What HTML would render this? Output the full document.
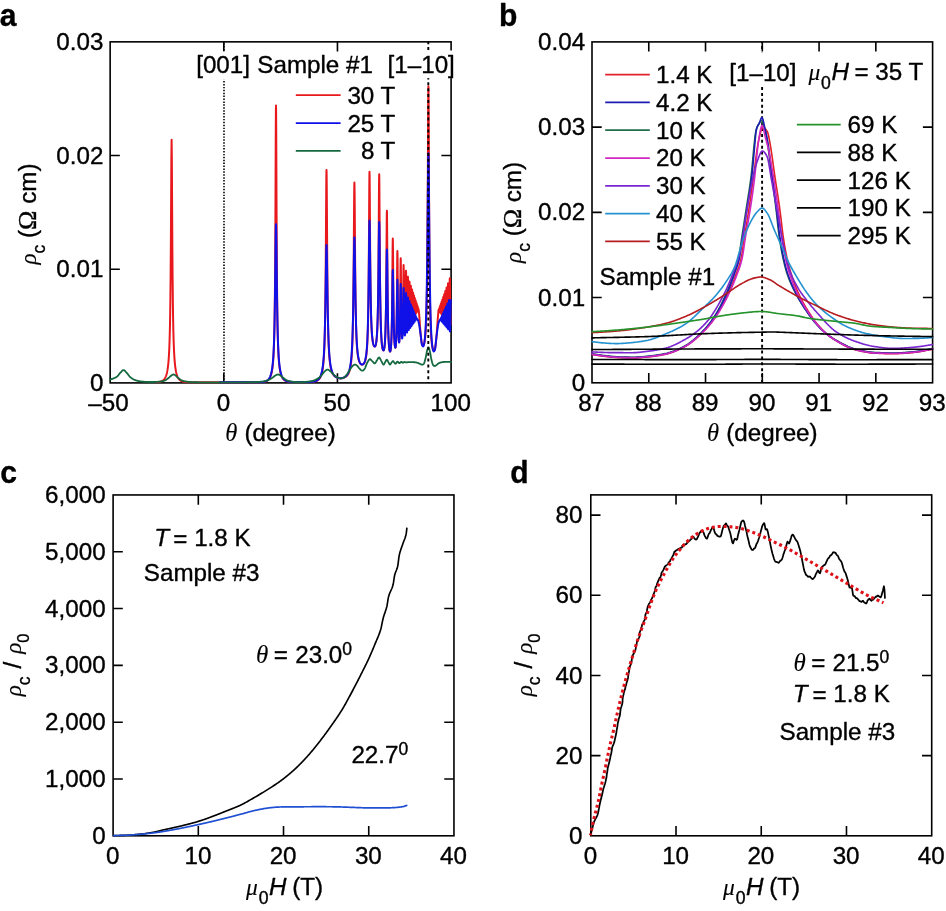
<!DOCTYPE html>
<html lang="en">
<head>
<meta charset="utf-8">
<title>Angle and field dependence of interlayer resistivity</title>
<style>
html,body{margin:0;padding:0;background:#fff;}
body{width:946px;height:911px;overflow:hidden;}
svg{display:block;}
svg text{font-family:"Liberation Sans",sans-serif;fill:#000;stroke:#000;stroke-width:0.36px;stroke-linejoin:round;}
svg .it{font-family:"Liberation Serif","DejaVu Serif",serif;font-style:italic;stroke-width:0.1px;}
svg .si{font-family:"Liberation Sans",sans-serif;font-style:italic;}
svg .sr{font-family:"Liberation Serif","DejaVu Serif",serif;}
svg .b{font-weight:bold;}
</style>
</head>
<body>
<svg width="946" height="911" viewBox="0 0 946 911">
<rect x="0" y="0" width="946" height="911" fill="#fff"/>
<g id="panel-a">
<clipPath id="clipA"><rect x="109.35" y="41.05" width="342.55" height="342.65"/></clipPath>
<path d="M224 42.45V382.9" stroke="#000" stroke-width="1.6" stroke-dasharray="1.45 1.463" stroke-dashoffset="2.18" fill="none"/>
<rect x="110.15" y="41.85" width="340.95" height="341.05" fill="none" stroke="#000" stroke-width="1.6"/>
<path d="M223.8 382.9v-9.7M223.8 41.85v9.7M337.45 382.9v-9.7M337.45 41.85v9.7M110.15 269.22h9.7M451.1 269.22h-9.7M110.15 155.53h9.7M451.1 155.53h-9.7" stroke="#000" stroke-width="1.6" fill="none"/>
<g clip-path="url(#clipA)">
<polyline fill="none" stroke="#e8181c" stroke-width="2" stroke-linejoin="round" stroke-linecap="butt"  points="155.61,382.22 155.86,382.21 156.11,382.2 156.36,382.19 156.61,382.17 156.86,382.16 157.11,382.14 157.36,382.12 157.61,382.1 157.86,382.08 158.11,382.05 158.36,382.02 158.61,381.99 158.86,381.95 159.11,381.91 159.36,381.87 159.61,381.82 159.86,381.76 160.11,381.7 160.36,381.64 160.61,381.57 160.86,381.49 161.11,381.4 161.36,381.3 161.61,381.19 161.86,381.08 162.11,380.95 162.36,380.81 162.61,380.65 162.86,380.48 163.11,380.29 163.36,380.08 163.61,379.85 163.86,379.6 164.11,379.32 164.36,379.01 164.61,378.66 164.86,378.28 165.11,377.86 165.36,377.38 165.61,376.86 165.86,376.27 166.11,375.6 166.36,374.85 166.61,374 166.86,373.04 167.11,371.93 167.36,370.66 167.61,369.18 167.86,367.46 168.11,365.43 168.36,363 168.61,360.09 168.86,356.54 169.11,352.13 169.36,346.59 169.61,339.49 169.86,330.17 170.11,317.69 170.36,300.58 170.61,276.77 170.86,243.84 171.11,201.39 171.36,158.42 171.61,139.64 171.86,161.36 172.11,205.02 172.36,246.85 172.61,278.97 172.86,302.15 173.11,318.82 173.36,331 173.61,340.1 173.86,347.06 174.11,352.5 174.36,356.82 174.61,360.32 174.86,363.19 175.11,365.57 175.36,367.58 175.61,369.28 175.86,370.74 176.11,372 176.36,373.09 176.61,374.05 176.86,374.89 177.11,375.63 177.36,376.29 177.61,376.87 177.86,377.4 178.11,377.87 178.36,378.29 178.61,378.67 178.86,379.01 179.11,379.32 179.36,379.59 179.61,379.85 179.86,380.08 180.11,380.28 180.36,380.47 180.61,380.64 180.86,380.8 181.11,380.94 181.36,381.07 181.61,381.19 181.86,381.29 182.11,381.39 182.36,381.48 182.61,381.56 182.86,381.63 183.11,381.7 183.36,381.76 183.61,381.81 183.86,381.86 184.11,381.91 184.36,381.95 184.61,381.98 184.86,382.02 185.11,382.05 185.36,382.07 185.61,382.1 185.86,382.12 186.11,382.14 186.36,382.16 186.61,382.17 186.86,382.19 187.11,382.2 187.36,382.21 187.61,382.22 187.86,382.23 188.11,382.24 188.36,382.25 188.61,382.25 188.86,382.26 189.11,382.26 189.36,382.27 189.61,382.27 189.86,382.27 190.11,382.28 190.36,382.28 190.61,382.28 190.86,382.29 191.11,382.29 191.36,382.29 191.61,382.29 191.86,382.29 192.11,382.29 192.36,382.29 192.61,382.29 192.86,382.3 193.11,382.3 193.36,382.3 193.61,382.3 193.86,382.3 194.11,382.3 194.36,382.3 194.61,382.3 194.86,382.3 195.11,382.3 195.36,382.3 195.61,382.3 195.86,382.3 196.11,382.3 196.36,382.3 196.61,382.3 196.86,382.3 197.11,382.3 197.36,382.3 197.61,382.3 197.86,382.3 198.11,382.3 198.36,382.3 198.61,382.3 198.86,382.3 199.11,382.3 199.36,382.3 199.61,382.3 199.86,382.3 200.11,382.3 200.36,382.3 200.61,382.3 200.86,382.3 201.11,382.3 201.36,382.3 201.61,382.3 201.86,382.3 202.11,382.3 202.36,382.3 202.61,382.3 202.86,382.3 203.11,382.3 203.36,382.3 203.61,382.3 203.86,382.3 204.11,382.3 204.36,382.3 204.61,382.3 204.86,382.3 205.11,382.3 205.36,382.3 205.61,382.3 205.86,382.3 206.11,382.3 206.36,382.3 206.61,382.3 206.86,382.3 207.11,382.3 207.36,382.3 207.61,382.3 207.86,382.3 208.11,382.3 208.36,382.3 208.61,382.3 208.86,382.3 209.11,382.3 209.36,382.3 209.61,382.3 209.86,382.3 210.11,382.3 210.36,382.3 210.61,382.3 210.86,382.3 211.11,382.3 211.36,382.3 211.61,382.3 211.86,382.3 212.11,382.3 212.36,382.3 212.61,382.3 212.86,382.3 213.11,382.3 213.36,382.3 213.61,382.3 213.86,382.3 214.11,382.3 214.36,382.3 214.61,382.3 214.86,382.3 215.11,382.3 215.36,382.3 215.61,382.3 215.86,382.3 216.11,382.3 216.36,382.3 216.61,382.3 216.86,382.3 217.11,382.3 217.36,382.3 217.61,382.3 217.86,382.3 218.11,382.3 218.36,382.3 218.61,382.3 218.86,382.3 219.11,382.3 219.36,382.3 219.61,382.3 219.86,382.3 220.11,382.3 220.36,382.3 220.61,382.3 220.86,382.3 221.11,382.3 221.36,382.3 221.61,382.3 221.86,382.3 222.11,382.3 222.36,382.3 222.61,382.3 222.86,382.3 223.11,382.3 223.36,382.3 223.61,382.3 223.86,382.3 224,382.3 224.1,382.3 224.2,382.3 224.3,382.3 224.4,382.3 224.5,382.3 224.6,382.3 224.7,382.3 224.8,382.3 224.9,382.3 225,382.3 225.1,382.3 225.2,382.3 225.3,382.3 225.4,382.3 225.5,382.3 225.6,382.3 225.7,382.3 225.8,382.3 225.9,382.3 226,382.3 226.1,382.3 226.2,382.3 226.3,382.3 226.4,382.3 226.5,382.3 226.6,382.3 226.7,382.3 226.8,382.3 226.9,382.3 227,382.3 227.1,382.3 227.2,382.3 227.3,382.3 227.4,382.3 227.5,382.3 227.6,382.3 227.7,382.3 227.8,382.3 227.9,382.3 228,382.3 228.1,382.3 228.2,382.3 228.3,382.3 228.4,382.3 228.5,382.3 228.6,382.3 228.7,382.3 228.8,382.3 228.9,382.3 229,382.3 229.1,382.3 229.2,382.3 229.3,382.3 229.4,382.3 229.5,382.3 229.6,382.3 229.7,382.3 229.8,382.3 229.9,382.3 230,382.3 230.1,382.3 230.2,382.3 230.3,382.3 230.4,382.3 230.5,382.3 230.6,382.3 230.7,382.3 230.8,382.3 230.9,382.3 231,382.3 231.1,382.3 231.2,382.3 231.3,382.3 231.4,382.3 231.5,382.3 231.6,382.3 231.7,382.3 231.8,382.3 231.9,382.3 232,382.3 232.1,382.3 232.2,382.3 232.3,382.3 232.4,382.3 232.5,382.3 232.6,382.3 232.7,382.3 232.8,382.3 232.9,382.3 233,382.3 233.1,382.3 233.2,382.3 233.3,382.3 233.4,382.3 233.5,382.3 233.6,382.3 233.7,382.3 233.8,382.3 233.9,382.3 234,382.3 234.1,382.3 234.2,382.3 234.3,382.3 234.4,382.3 234.5,382.3 234.6,382.3 234.7,382.3 234.8,382.3 234.9,382.3 235,382.3 235.1,382.3 235.2,382.3 235.3,382.3 235.4,382.3 235.5,382.3 235.6,382.3 235.7,382.3 235.8,382.3 235.9,382.3 236,382.3 236.1,382.3 236.2,382.3 236.3,382.3 236.4,382.3 236.5,382.3 236.6,382.3 236.7,382.3 236.8,382.3 236.9,382.3 237,382.3 237.1,382.3 237.2,382.3 237.3,382.3 237.4,382.3 237.5,382.3 237.6,382.3 237.7,382.3 237.8,382.3 237.9,382.3 238,382.3 238.1,382.3 238.2,382.3 238.3,382.3 238.4,382.3 238.5,382.3 238.6,382.3 238.7,382.3 238.8,382.3 238.9,382.3 239,382.3 239.1,382.3 239.2,382.3 239.3,382.3 239.4,382.3 239.5,382.3 239.6,382.3 239.7,382.3 239.8,382.3 239.9,382.3 240,382.3 240.1,382.3 240.2,382.3 240.3,382.3 240.4,382.3 240.5,382.3 240.6,382.3 240.7,382.3 240.8,382.3 240.9,382.3 241,382.3 241.1,382.3 241.2,382.3 241.3,382.3 241.4,382.3 241.5,382.3 241.6,382.3 241.7,382.3 241.8,382.3 241.9,382.3 242,382.3 242.1,382.3 242.2,382.3 242.3,382.3 242.4,382.3 242.5,382.3 242.6,382.3 242.7,382.3 242.8,382.3 242.9,382.3 243,382.3 243.1,382.3 243.2,382.3 243.3,382.3 243.4,382.3 243.5,382.3 243.6,382.3 243.7,382.3 243.8,382.3 243.9,382.3 244,382.3 244.1,382.3 244.2,382.3 244.3,382.3 244.4,382.3 244.5,382.3 244.6,382.3 244.7,382.3 244.8,382.3 244.9,382.3 245,382.3 245.1,382.3 245.2,382.3 245.3,382.3 245.4,382.3 245.5,382.3 245.6,382.3 245.7,382.3 245.8,382.3 245.9,382.3 246,382.3 246.1,382.3 246.2,382.3 246.3,382.3 246.4,382.3 246.5,382.3 246.6,382.3 246.7,382.3 246.8,382.3 246.9,382.3 247,382.3 247.1,382.3 247.2,382.3 247.3,382.3 247.4,382.3 247.5,382.3 247.6,382.3 247.7,382.3 247.8,382.3 247.9,382.3 248,382.3 248.1,382.3 248.2,382.3 248.3,382.3 248.4,382.3 248.5,382.3 248.6,382.3 248.7,382.3 248.8,382.3 248.9,382.3 249,382.3 249.1,382.3 249.2,382.3 249.3,382.3 249.4,382.3 249.5,382.3 249.6,382.3 249.7,382.3 249.8,382.3 249.9,382.3 250,382.3 250.1,382.3 250.2,382.3 250.3,382.3 250.4,382.3 250.5,382.3 250.6,382.3 250.7,382.3 250.8,382.3 250.9,382.3 251,382.3 251.1,382.3 251.2,382.3 251.3,382.3 251.4,382.3 251.5,382.3 251.6,382.3 251.7,382.3 251.8,382.3 251.9,382.3 252,382.3 252.1,382.3 252.2,382.3 252.3,382.3 252.4,382.3 252.5,382.3 252.6,382.3 252.7,382.3 252.8,382.3 252.9,382.3 253,382.3 253.1,382.3 253.2,382.3 253.3,382.3 253.4,382.3 253.5,382.3 253.6,382.3 253.7,382.3 253.8,382.3 253.9,382.3 254,382.3 254.1,382.3 254.2,382.3 254.3,382.3 254.4,382.3 254.5,382.3 254.6,382.3 254.7,382.3 254.8,382.3 254.9,382.3 255,382.3 255.1,382.29 255.2,382.29 255.3,382.29 255.4,382.29 255.5,382.29 255.6,382.29 255.7,382.29 255.8,382.29 255.9,382.29 256,382.29 256.1,382.29 256.2,382.29 256.3,382.29 256.4,382.29 256.5,382.29 256.6,382.29 256.7,382.29 256.8,382.29 256.9,382.29 257,382.29 257.1,382.28 257.2,382.28 257.3,382.28 257.4,382.28 257.5,382.28 257.6,382.28 257.7,382.28 257.8,382.28 257.9,382.28 258,382.27 258.1,382.27 258.2,382.27 258.3,382.27 258.4,382.27 258.5,382.27 258.6,382.27 258.7,382.26 258.8,382.26 258.9,382.26 259,382.26 259.1,382.26 259.2,382.25 259.3,382.25 259.4,382.25 259.5,382.25 259.6,382.24 259.7,382.24 259.8,382.24 259.9,382.23 260,382.23 260.1,382.23 260.2,382.22 260.3,382.22 260.4,382.22 260.5,382.21 260.6,382.21 260.7,382.2 260.8,382.2 260.9,382.19 261,382.19 261.1,382.18 261.2,382.18 261.3,382.17 261.4,382.16 261.5,382.16 261.6,382.15 261.7,382.14 261.8,382.14 261.9,382.13 262,382.12 262.1,382.11 262.2,382.11 262.3,382.1 262.4,382.09 262.5,382.08 262.6,382.07 262.7,382.06 262.8,382.05 262.9,382.03 263,382.02 263.1,382.01 263.2,382 263.3,381.98 263.4,381.97 263.5,381.96 263.6,381.94 263.7,381.92 263.8,381.91 263.9,381.89 264,381.87 264.1,381.85 264.2,381.84 264.3,381.82 264.4,381.79 264.5,381.77 264.6,381.75 264.7,381.73 264.8,381.7 264.9,381.68 265,381.65 265.1,381.62 265.2,381.6 265.3,381.57 265.4,381.54 265.5,381.51 265.6,381.47 265.7,381.44 265.8,381.4 265.9,381.37 266,381.33 266.1,381.29 266.2,381.25 266.3,381.2 266.4,381.16 266.5,381.11 266.6,381.06 266.7,381.01 266.8,380.96 266.9,380.91 267,380.85 267.1,380.79 267.2,380.73 267.3,380.67 267.4,380.61 267.5,380.54 267.6,380.47 267.7,380.39 267.8,380.32 267.9,380.24 268,380.16 268.1,380.07 268.2,379.98 268.3,379.89 268.4,379.79 268.5,379.69 268.6,379.59 268.7,379.48 268.8,379.36 268.9,379.24 269,379.12 269.1,378.99 269.2,378.86 269.3,378.72 269.4,378.57 269.5,378.42 269.6,378.26 269.7,378.09 269.8,377.92 269.9,377.74 270,377.55 270.1,377.35 270.2,377.14 270.3,376.92 270.4,376.7 270.5,376.46 270.6,376.2 270.7,375.94 270.8,375.66 270.9,375.37 271,375.06 271.1,374.74 271.2,374.4 271.3,374.03 271.4,373.65 271.5,373.25 271.6,372.82 271.7,372.37 271.8,371.89 271.9,371.39 272,370.84 272.1,370.27 272.2,369.65 272.3,369 272.4,368.29 272.5,367.54 272.6,366.73 272.7,365.87 272.8,364.93 272.9,363.92 273,362.83 273.1,361.65 273.2,360.36 273.3,358.95 273.4,357.42 273.5,355.74 273.6,353.89 273.7,351.85 273.8,349.6 273.9,347.09 274,344.3 274.1,341.17 274.2,337.64 274.3,333.67 274.4,329.15 274.5,323.99 274.6,318.08 274.7,311.26 274.8,303.35 274.9,294.15 275,283.39 275.1,270.79 275.2,256.03 275.3,238.82 275.4,218.98 275.5,196.62 275.6,172.44 275.7,148.07 275.8,126.35 275.9,110.99 276,105.4 276.1,110.98 276.2,126.33 276.3,148.02 276.4,172.36 276.5,196.51 276.6,218.83 276.7,238.64 276.8,255.83 276.9,270.56 277,283.14 277.1,293.88 277.2,303.07 277.3,310.95 277.4,317.76 277.5,323.66 277.6,328.81 277.7,333.32 277.8,337.29 277.9,340.8 278,343.93 278.1,346.71 278.2,349.22 278.3,351.47 278.4,353.5 278.5,355.34 278.6,357.02 278.7,358.55 278.8,359.95 278.9,361.23 279,362.42 279.1,363.5 279.2,364.51 279.3,365.44 279.4,366.31 279.5,367.12 279.6,367.87 279.7,368.57 279.8,369.22 279.9,369.84 280,370.41 280.1,370.95 280.2,371.46 280.3,371.94 280.4,372.39 280.5,372.81 280.6,373.22 280.7,373.6 280.8,373.96 280.9,374.3 281,374.62 281.1,374.93 281.2,375.22 281.3,375.5 281.4,375.77 281.5,376.02 281.6,376.26 281.7,376.49 281.8,376.71 281.9,376.92 282,377.12 282.1,377.31 282.2,377.49 282.3,377.66 282.4,377.83 282.5,377.99 282.6,378.14 282.7,378.29 282.8,378.43 282.9,378.57 283,378.7 283.1,378.82 283.2,378.94 283.3,379.06 283.4,379.17 283.5,379.27 283.6,379.37 283.7,379.47 283.8,379.57 283.9,379.66 284,379.74 284.1,379.83 284.2,379.91 284.3,379.99 284.4,380.06 284.5,380.13 284.6,380.2 284.7,380.27 284.8,380.33 284.9,380.4 285,380.46 285.1,380.51 285.2,380.57 285.3,380.62 285.4,380.67 285.5,380.72 285.6,380.77 285.7,380.82 285.8,380.86 285.9,380.91 286,380.95 286.1,380.99 286.2,381.02 286.3,381.06 286.4,381.1 286.5,381.13 286.6,381.16 286.7,381.2 286.8,381.23 286.9,381.26 287,381.29 287.1,381.31 287.2,381.34 287.3,381.37 287.4,381.39 287.5,381.41 287.6,381.44 287.7,381.46 287.8,381.48 287.9,381.5 288,381.52 288.1,381.54 288.2,381.56 288.3,381.58 288.4,381.59 288.5,381.61 288.6,381.62 288.7,381.64 288.8,381.65 288.9,381.67 289,381.68 289.1,381.69 289.2,381.71 289.3,381.72 289.4,381.73 289.5,381.74 289.6,381.75 289.7,381.76 289.8,381.77 289.9,381.78 290,381.79 290.1,381.8 290.2,381.81 290.3,381.82 290.4,381.82 290.5,381.83 290.6,381.84 290.7,381.85 290.8,381.85 290.9,381.86 291,381.87 291.1,381.87 291.2,381.88 291.3,381.88 291.4,381.89 291.5,381.89 291.6,381.9 291.7,381.9 291.8,381.91 291.9,381.91 292,381.91 292.1,381.92 292.2,381.92 292.3,381.93 292.4,381.93 292.5,381.93 292.6,381.94 292.7,381.94 292.8,381.94 292.9,381.94 293,381.95 293.1,381.95 293.2,381.95 293.3,381.95 293.4,381.96 293.5,381.96 293.6,381.96 293.7,381.96 293.8,381.96 293.9,381.97 294,381.97 294.1,381.97 294.2,381.97 294.3,381.97 294.4,381.97 294.5,381.97 294.6,381.98 294.7,381.98 294.8,381.98 294.9,381.98 295,381.98 295.1,381.98 295.2,381.98 295.3,381.98 295.4,381.98 295.5,381.99 295.6,381.99 295.7,381.99 295.8,381.99 295.9,381.99 296,381.99 296.1,381.99 296.2,381.99 296.3,381.99 296.4,381.99 296.5,381.99 296.6,381.99 296.7,381.99 296.8,381.99 296.9,381.99 297,381.99 297.1,381.99 297.2,381.99 297.3,381.99 297.4,382 297.5,382 297.6,382 297.7,382 297.8,382 297.9,382 298,382 298.1,382 298.2,382 298.3,382 298.4,382 298.5,382 298.6,382 298.7,382 298.8,382 298.9,382 299,382 299.1,382 299.2,382 299.3,382 299.4,382 299.5,382 299.6,382 299.7,382 299.8,382 299.9,382 300,382 300.1,382 300.2,382 300.3,382 300.4,382 300.5,382 300.6,382 300.7,382 300.8,382 300.9,382 301,382 301.1,382 301.2,382 301.3,382 301.4,382 301.5,382 301.6,382 301.7,382 301.8,382 301.9,382 302,382 302.1,382 302.2,382 302.3,382 302.4,382 302.5,382 302.6,382 302.7,382 302.8,382 302.9,382 303,382 303.1,382 303.2,382 303.3,382 303.4,382 303.5,382 303.6,382 303.7,382 303.8,382 303.9,382 304,382 304.1,382 304.2,382 304.3,382 304.4,382 304.5,382 304.6,382 304.7,382 304.8,382 304.9,382 305,382 305.1,381.99 305.2,381.99 305.3,381.99 305.4,381.99 305.5,381.99 305.6,381.99 305.7,381.99 305.8,381.99 305.9,381.99 306,381.99 306.1,381.99 306.2,381.99 306.3,381.99 306.4,381.99 306.5,381.99 306.6,381.99 306.7,381.99 306.8,381.99 306.9,381.99 307,381.98 307.1,381.98 307.2,381.98 307.3,381.98 307.4,381.98 307.5,381.98 307.6,381.98 307.7,381.98 307.8,381.98 307.9,381.98 308,381.97 308.1,381.97 308.2,381.97 308.3,381.97 308.4,381.97 308.5,381.97 308.6,381.96 308.7,381.96 308.8,381.96 308.9,381.96 309,381.96 309.1,381.95 309.2,381.95 309.3,381.95 309.4,381.95 309.5,381.95 309.6,381.94 309.7,381.94 309.8,381.94 309.9,381.93 310,381.93 310.1,381.93 310.2,381.92 310.3,381.92 310.4,381.92 310.5,381.91 310.6,381.91 310.7,381.9 310.8,381.9 310.9,381.89 311,381.89 311.1,381.88 311.2,381.88 311.3,381.87 311.4,381.87 311.5,381.86 311.6,381.86 311.7,381.85 311.8,381.84 311.9,381.83 312,381.83 312.1,381.82 312.2,381.81 312.3,381.8 312.4,381.79 312.5,381.79 312.6,381.78 312.7,381.77 312.8,381.76 312.9,381.75 313,381.73 313.1,381.72 313.2,381.71 313.3,381.7 313.4,381.69 313.5,381.67 313.6,381.66 313.7,381.64 313.8,381.63 313.9,381.61 314,381.6 314.1,381.58 314.2,381.56 314.3,381.54 314.4,381.53 314.5,381.51 314.6,381.49 314.7,381.46 314.8,381.44 314.9,381.42 315,381.4 315.1,381.37 315.2,381.35 315.3,381.32 315.4,381.29 315.5,381.26 315.6,381.23 315.7,381.2 315.8,381.17 315.9,381.14 316,381.11 316.1,381.07 316.2,381.03 316.3,381 316.4,380.96 316.5,380.91 316.6,380.87 316.7,380.83 316.8,380.78 316.9,380.73 317,380.68 317.1,380.63 317.2,380.58 317.3,380.53 317.4,380.47 317.5,380.41 317.6,380.35 317.7,380.28 317.8,380.22 317.9,380.15 318,380.08 318.1,380 318.2,379.92 318.3,379.84 318.4,379.76 318.5,379.67 318.6,379.58 318.7,379.49 318.8,379.39 318.9,379.29 319,379.19 319.1,379.08 319.2,378.96 319.3,378.85 319.4,378.72 319.5,378.59 319.6,378.46 319.7,378.32 319.8,378.18 319.9,378.02 320,377.87 320.1,377.7 320.2,377.53 320.3,377.35 320.4,377.16 320.5,376.97 320.6,376.76 320.7,376.55 320.8,376.32 320.9,376.09 321,375.84 321.1,375.58 321.2,375.31 321.3,375.02 321.4,374.72 321.5,374.41 321.6,374.08 321.7,373.73 321.8,373.36 321.9,372.97 322,372.56 322.1,372.12 322.2,371.66 322.3,371.17 322.4,370.66 322.5,370.11 322.6,369.52 322.7,368.9 322.8,368.23 322.9,367.52 323,366.76 323.1,365.95 323.2,365.07 323.3,364.13 323.4,363.12 323.5,362.02 323.6,360.84 323.7,359.55 323.8,358.15 323.9,356.63 324,354.97 324.1,353.15 324.2,351.15 324.3,348.94 324.4,346.5 324.5,343.8 324.6,340.79 324.7,337.43 324.8,333.66 324.9,329.42 325,324.64 325.1,319.23 325.2,313.08 325.3,306.08 325.4,298.1 325.5,289 325.6,278.64 325.7,266.93 325.8,253.83 325.9,239.43 326,224.08 326.1,208.45 326.2,193.67 326.3,181.24 326.4,172.87 326.5,169.9 326.6,172.82 326.7,181.07 326.8,193.29 326.9,207.84 327,223.22 327.1,238.32 327.2,252.47 327.3,265.35 327.4,276.85 327.5,287.02 327.6,295.96 327.7,303.8 327.8,310.67 327.9,316.71 328,322.02 328.1,326.71 328.2,330.87 328.3,334.56 328.4,337.86 328.5,340.81 328.6,343.46 328.7,345.85 328.8,348.02 328.9,349.98 329,351.76 329.1,353.39 329.2,354.88 329.3,356.25 329.4,357.51 329.5,358.67 329.6,359.74 329.7,360.74 329.8,361.66 329.9,362.52 330,363.32 330.1,364.06 330.2,364.76 330.3,365.41 330.4,366.02 330.5,366.59 330.6,367.13 330.7,367.64 330.8,368.12 330.9,368.57 331,369 331.1,369.4 331.2,369.79 331.3,370.15 331.4,370.49 331.5,370.82 331.6,371.13 331.7,371.43 331.8,371.71 331.9,371.98 332,372.23 332.1,372.48 332.2,372.71 332.3,372.93 332.4,373.14 332.5,373.35 332.6,373.54 332.7,373.73 332.8,373.91 332.9,374.08 333,374.24 333.1,374.4 333.2,374.55 333.3,374.7 333.4,374.84 333.5,374.97 333.6,375.1 333.7,375.23 333.8,375.35 333.9,375.46 334,375.57 334.1,375.68 334.2,375.78 334.3,375.88 334.4,375.98 334.5,376.07 334.6,376.16 334.7,376.24 334.8,376.33 334.9,376.41 335,376.48 335.1,376.56 335.2,376.63 335.3,376.7 335.4,376.76 335.5,376.83 335.6,376.89 335.7,376.95 335.8,377.01 335.9,377.07 336,377.12 336.1,377.17 336.2,377.23 336.3,377.27 336.4,377.32 336.5,377.37 336.6,377.41 336.7,377.46 336.8,377.5 336.9,377.54 337,377.58 337.1,377.62 337.2,377.65 337.3,377.69 337.4,377.72 337.5,377.75 337.6,377.79 337.7,377.82 337.8,377.85 337.9,377.88 338,377.91 338.1,377.93 338.2,377.96 338.3,377.98 338.4,378.01 338.5,378.03 338.6,378.06 338.7,378.08 338.8,378.1 338.9,378.12 339,378.14 339.1,378.16 339.2,378.18 339.3,378.2 339.4,378.22 339.5,378.23 339.6,378.25 339.7,378.27 339.8,378.28 339.9,378.3 340,378.31 340.1,378.32 340.2,378.34 340.3,378.35 340.4,378.36 340.5,378.38 340.6,378.39 340.7,378.4 340.8,378.39 340.9,378.37 341,378.36 341.1,378.34 341.2,378.33 341.3,378.31 341.4,378.3 341.5,378.28 341.6,378.26 341.7,378.24 341.8,378.23 341.9,378.21 342,378.19 342.1,378.17 342.2,378.15 342.3,378.12 342.4,378.1 342.5,378.08 342.6,378.05 342.7,378.03 342.8,378 342.9,377.98 343,377.95 343.1,377.92 343.2,377.89 343.3,377.86 343.4,377.83 343.5,377.8 343.6,377.77 343.7,377.73 343.8,377.7 343.9,377.66 344,377.62 344.1,377.58 344.2,377.54 344.3,377.5 344.4,377.46 344.5,377.41 344.6,377.37 344.7,377.32 344.8,377.27 344.9,377.22 345,377.17 345.1,377.11 345.2,377.06 345.3,377 345.4,376.94 345.5,376.88 345.6,376.81 345.7,376.75 345.8,376.68 345.9,376.6 346,376.53 346.1,376.45 346.2,376.37 346.3,376.29 346.4,376.21 346.5,376.12 346.6,376.03 346.7,375.93 346.8,375.83 346.9,375.73 347,375.62 347.1,375.51 347.2,375.4 347.3,375.28 347.4,375.16 347.5,375.03 347.6,374.89 347.7,374.75 347.8,374.61 347.9,374.46 348,374.3 348.1,374.14 348.2,373.97 348.3,373.79 348.4,373.6 348.5,373.41 348.6,373.2 348.7,372.99 348.8,372.77 348.9,372.53 349,372.29 349.1,372.03 349.2,371.76 349.3,371.48 349.4,371.18 349.5,370.87 349.6,370.54 349.7,370.2 349.8,369.83 349.9,369.44 350,369.04 350.1,368.6 350.2,368.15 350.3,367.66 350.4,367.15 350.5,366.6 350.6,366.01 350.7,365.39 350.8,364.73 350.9,364.02 351,363.25 351.1,362.44 351.2,361.56 351.3,360.61 351.4,359.58 351.5,358.48 351.6,357.28 351.7,355.97 351.8,354.55 351.9,353 352,351.29 352.1,349.42 352.2,347.36 352.3,345.09 352.4,342.56 352.5,339.76 352.6,336.62 352.7,333.11 352.8,329.16 352.9,324.71 353,319.67 353.1,313.96 353.2,307.45 353.3,300.05 353.4,291.62 353.5,282.04 353.6,271.23 353.7,259.16 353.8,245.94 353.9,231.87 354,217.6 354.1,204.14 354.2,192.87 354.3,185.29 354.4,182.6 354.5,185.2 354.6,192.54 354.7,203.43 354.8,216.43 354.9,230.19 355,243.73 355.1,256.45 355.2,268.04 355.3,278.4 355.4,287.57 355.5,295.64 355.6,302.71 355.7,308.91 355.8,314.35 355.9,319.13 356,323.35 356.1,327.09 356.2,330.41 356.3,333.36 356.4,336 356.5,338.37 356.6,340.5 356.7,342.42 356.8,344.16 356.9,345.74 357,347.18 357.1,348.49 357.2,349.69 357.3,350.79 357.4,351.8 357.5,352.73 357.6,353.59 357.7,354.38 357.8,355.12 357.9,355.8 358,356.43 358.1,357.02 358.2,357.56 358.3,358.07 358.4,358.55 358.5,358.99 358.6,359.4 358.7,359.79 358.8,360.15 358.9,360.49 359,360.81 359.1,361.11 359.2,361.39 359.3,361.65 359.4,361.9 359.5,362.13 359.6,362.34 359.7,362.55 359.8,362.74 359.9,362.91 360,363.08 360.1,363.23 360.2,363.38 360.3,363.51 360.4,363.64 360.5,363.76 360.6,363.86 360.7,363.96 360.8,364.05 360.9,364.14 361,364.21 361.1,364.28 361.2,364.34 361.3,364.4 361.4,364.45 361.5,364.49 361.6,364.52 361.7,364.55 361.8,364.57 361.9,364.59 362,364.6 362.1,364.6 362.2,364.6 362.3,364.59 362.4,364.57 362.5,364.55 362.6,364.52 362.7,364.49 362.8,364.45 362.9,364.4 363,364.34 363.1,364.28 363.2,364.21 363.3,364.14 363.4,364.05 363.5,363.96 363.6,363.86 363.7,363.75 363.8,363.63 363.9,363.51 364,363.37 364.1,363.22 364.2,363.06 364.3,362.89 364.4,362.71 364.5,362.52 364.6,362.31 364.7,362.09 364.8,361.85 364.9,361.6 365,361.32 365.1,361.03 365.2,360.72 365.3,360.39 365.4,360.03 365.5,359.65 365.6,359.23 365.7,358.79 365.8,358.32 365.9,357.81 366,357.26 366.1,356.66 366.2,356.02 366.3,355.33 366.4,354.57 366.5,353.75 366.6,352.86 366.7,351.89 366.8,350.83 366.9,349.67 367,348.39 367.1,346.98 367.2,345.42 367.3,343.7 367.4,341.78 367.5,339.63 367.6,337.23 367.7,334.53 367.8,331.48 367.9,328.03 368,324.09 368.1,319.58 368.2,314.4 368.3,308.43 368.4,301.51 368.5,293.49 368.6,284.18 368.7,273.4 368.8,261.01 368.9,246.97 369,231.46 369.1,215.08 369.2,198.96 369.3,184.93 369.4,175.2 369.5,171.7 369.6,174.98 369.7,184.07 369.8,197.17 369.9,212.19 370,227.46 370.1,241.88 370.2,254.92 370.3,266.41 370.4,276.4 370.5,285.01 370.6,292.42 370.7,298.8 370.8,304.31 370.9,309.07 371,313.21 371.1,316.83 371.2,319.99 371.3,322.78 371.4,325.24 371.5,327.42 371.6,329.36 371.7,331.09 371.8,332.65 371.9,334.04 372,335.3 372.1,336.43 372.2,337.46 372.3,338.39 372.4,339.24 372.5,340.01 372.6,340.71 372.7,341.35 372.8,341.93 372.9,342.46 373,342.94 373.1,343.39 373.2,343.79 373.3,344.15 373.4,344.49 373.5,344.79 373.6,345.06 373.7,345.3 373.8,345.52 373.9,345.71 374,345.88 374.1,346.03 374.2,346.16 374.3,346.26 374.4,346.35 374.5,346.42 374.6,346.46 374.7,346.49 374.8,346.5 374.9,346.48 375,346.43 375.1,346.35 375.2,346.23 375.3,346.08 375.4,345.88 375.5,345.65 375.6,345.38 375.7,345.07 375.8,344.71 375.9,344.3 376,343.84 376.1,343.32 376.2,342.74 376.3,342.1 376.4,341.37 376.5,340.56 376.6,339.66 376.7,338.65 376.8,337.53 376.9,336.27 377,334.86 377.1,333.28 377.2,331.49 377.3,329.48 377.4,327.19 377.5,324.59 377.6,321.63 377.7,318.22 377.8,314.3 377.9,309.77 378,304.51 378.1,298.36 378.2,291.18 378.3,282.77 378.4,272.93 378.5,261.48 378.6,248.32 378.7,233.57 378.8,217.71 378.9,201.83 379,187.77 379.1,177.89 379.2,174.3 379.3,177.98 379.4,188.13 379.5,202.55 379.6,218.84 379.7,235.11 379.8,250.24 379.9,263.72 380,275.46 380.1,285.55 380.2,294.17 380.3,301.53 380.4,307.82 380.5,313.21 380.6,317.86 380.7,321.87 380.8,325.35 380.9,328.38 381,331.04 381.1,333.37 381.2,335.43 381.3,337.25 381.4,338.87 381.5,340.3 381.6,341.58 381.7,342.72 381.8,343.75 381.9,344.66 382,345.47 382.1,346.2 382.2,346.86 382.3,347.44 382.4,347.95 382.5,348.41 382.6,348.81 382.7,349.16 382.8,349.46 382.9,349.71 383,349.93 383.1,350.1 383.2,350.23 383.3,350.33 383.4,350.38 383.5,350.4 383.6,350.37 383.7,350.28 383.8,350.12 383.9,349.9 384,349.62 384.1,349.26 384.2,348.83 384.3,348.31 384.4,347.7 384.5,346.99 384.6,346.18 384.7,345.24 384.8,344.15 384.9,342.91 385,341.49 385.1,339.85 385.2,337.96 385.3,335.77 385.4,333.24 385.5,330.3 385.6,326.86 385.7,322.82 385.8,318.07 385.9,312.44 386,305.76 386.1,297.84 386.2,288.46 386.3,277.47 386.4,264.86 386.5,250.95 386.6,236.63 386.7,223.61 386.8,214.24 386.9,210.8 387,214.31 387.1,223.87 387.2,237.16 387.3,251.75 387.4,265.92 387.5,278.75 387.6,289.92 387.7,299.45 387.8,307.5 387.9,314.27 388,319.97 388.1,324.78 388.2,328.86 388.3,332.32 388.4,335.28 388.5,337.82 388.6,340.01 388.7,341.89 388.8,343.52 388.9,344.93 389,346.14 389.1,347.19 389.2,348.09 389.3,348.87 389.4,349.52 389.5,350.07 389.6,350.52 389.7,350.88 389.8,351.15 389.9,351.35 390,351.46 390.1,351.5 390.2,351.45 390.3,351.29 390.4,351.03 390.5,350.65 390.6,350.15 390.7,349.52 390.8,348.75 390.9,347.81 391,346.69 391.1,345.36 391.2,343.79 391.3,341.92 391.4,339.72 391.5,337.1 391.6,333.99 391.7,330.28 391.8,325.84 391.9,320.52 392,314.11 392.1,306.43 392.2,297.29 392.3,286.62 392.4,274.62 392.5,262 392.6,250.27 392.7,241.69 392.8,238.5 392.9,241.61 393,249.98 393.1,261.41 393.2,273.71 393.3,285.39 393.4,295.77 393.5,304.65 393.6,312.1 393.7,318.32 393.8,323.48 393.9,327.77 394,331.36 394.1,334.35 394.2,336.87 394.3,338.98 394.4,340.76 394.5,342.25 394.6,343.51 394.7,344.55 394.8,345.41 394.9,346.11 395,346.66 395.1,347.08 395.2,347.37 395.3,347.54 395.4,347.6 395.5,347.48 395.6,347.13 395.7,346.53 395.8,345.66 395.9,344.5 396,343 396.1,341.1 396.2,338.75 396.3,335.83 396.4,332.24 396.5,327.82 396.6,322.39 396.7,315.73 396.8,307.63 396.9,297.93 397,286.72 397.1,274.59 397.2,262.98 397.3,254.28 397.4,251 397.5,254.31 397.6,263.09 397.7,274.72 397.8,286.81 397.9,297.91 398,307.43 398.1,315.32 398.2,321.74 398.3,326.9 398.4,331.02 398.5,334.28 398.6,336.84 398.7,338.79 398.8,340.24 398.9,341.23 399,341.81 399.1,342 399.2,341.79 399.3,341.15 399.4,340.06 399.5,338.47 399.6,336.29 399.7,333.44 399.8,329.77 399.9,325.11 400,319.26 400.1,311.99 400.2,303.12 400.3,292.68 400.4,281.17 400.5,269.97 400.6,261.44 400.7,258.2 400.8,261.31 400.9,269.49 401,280.21 401.1,291.18 401.2,301.09 401.3,309.47 401.4,316.3 401.5,321.76 401.6,326.06 401.7,329.39 401.8,331.91 401.9,333.76 402,335.03 402.1,335.76 402.2,336 402.3,335.74 402.4,334.95 402.5,333.59 402.6,331.58 402.7,328.82 402.8,325.15 402.9,320.37 403,314.27 403.1,306.63 403.2,297.38 403.3,286.89 403.4,276.38 403.5,268.17 403.6,265 403.7,268.03 403.8,275.87 403.9,285.86 404,295.78 404.1,304.47 404.2,311.59 404.3,317.22 404.4,321.56 404.5,324.82 404.6,327.18 404.7,328.78 404.8,329.7 404.9,330 404.92,329.96 404.94,329.91 404.96,329.81 404.98,329.68 405,329.49 405.02,329.24 405.04,328.93 405.06,328.55 405.08,328.1 405.1,327.57 405.12,326.96 405.14,326.26 405.16,325.48 405.18,324.62 405.2,323.67 405.22,322.63 405.24,321.51 405.26,320.31 405.28,319.02 405.3,317.66 405.32,316.23 405.34,314.72 405.36,313.15 405.38,311.52 405.4,309.84 405.42,308.1 405.44,306.33 405.46,304.51 405.48,302.67 405.5,300.81 405.52,298.94 405.54,297.06 405.56,295.19 405.58,293.33 405.6,291.49 405.62,289.68 405.64,287.9 405.66,286.18 405.68,284.5 405.7,282.89 405.72,281.36 405.74,279.9 405.76,278.52 405.78,277.25 405.8,276.07 405.82,274.99 405.84,274.03 405.86,273.19 405.88,272.47 405.9,271.88 405.92,271.41 405.94,271.08 405.96,270.88 405.98,270.82 406,270.9 406.02,271.11 406.04,271.46 406.06,271.94 406.08,272.56 406.1,273.31 406.12,274.18 406.14,275.17 406.16,276.28 406.18,277.5 406.2,278.83 406.22,280.25 406.24,281.76 406.26,283.36 406.28,285.03 406.3,286.77 406.32,288.56 406.34,290.4 406.36,292.28 406.38,294.18 406.4,296.1 406.42,298.03 406.44,299.96 406.46,301.88 406.48,303.77 406.5,305.63 406.52,307.46 406.54,309.23 406.56,310.95 406.58,312.6 406.6,314.18 406.62,315.68 406.64,317.1 406.66,318.43 406.68,319.67 406.7,320.8 406.72,321.84 406.74,322.78 406.76,323.61 406.78,324.34 406.8,324.97 406.82,325.5 406.84,325.94 406.86,326.29 406.88,326.55 406.9,326.73 406.92,326.85 406.94,326.9 406.96,326.91 406.98,326.89 407,326.85 407.02,326.78 407.04,326.67 407.06,326.49 407.08,326.25 407.1,325.93 407.12,325.52 407.14,325.02 407.16,324.42 407.18,323.72 407.2,322.92 407.22,322.02 407.24,321.01 407.26,319.89 407.28,318.68 407.3,317.37 407.32,315.96 407.34,314.47 407.36,312.89 407.38,311.24 407.4,309.53 407.42,307.75 407.44,305.93 407.46,304.07 407.48,302.18 407.5,300.28 407.52,298.37 407.54,296.47 407.56,294.6 407.58,292.75 407.6,290.95 407.62,289.21 407.64,287.54 407.66,285.95 407.68,284.46 407.7,283.07 407.72,281.79 407.74,280.64 407.76,279.62 407.78,278.74 407.8,278.01 407.82,277.43 407.84,277.01 407.86,276.75 407.88,276.65 407.9,276.72 407.92,276.96 407.94,277.36 407.96,277.92 407.98,278.63 408,279.5 408.02,280.52 408.04,281.68 408.06,282.96 408.08,284.37 408.1,285.89 408.12,287.51 408.14,289.21 408.16,290.99 408.18,292.83 408.2,294.72 408.22,296.65 408.24,298.59 408.26,300.54 408.28,302.48 408.3,304.4 408.32,306.28 408.34,308.11 408.36,309.88 408.38,311.59 408.4,313.2 408.42,314.73 408.44,316.15 408.46,317.47 408.48,318.67 408.5,319.75 408.52,320.71 408.54,321.55 408.56,322.27 408.58,322.87 408.6,323.35 408.62,323.72 408.64,323.99 408.66,324.17 408.68,324.27 408.7,324.3 408.72,324.28 408.74,324.25 408.76,324.18 408.78,324.05 408.8,323.85 408.82,323.56 408.84,323.17 408.86,322.67 408.88,322.06 408.9,321.32 408.92,320.47 408.94,319.49 408.96,318.39 408.98,317.16 409,315.82 409.02,314.38 409.04,312.83 409.06,311.19 409.08,309.47 409.1,307.68 409.12,305.84 409.14,303.96 409.16,302.06 409.18,300.15 409.2,298.25 409.22,296.37 409.24,294.54 409.26,292.77 409.28,291.08 409.3,289.48 409.32,287.99 409.34,286.63 409.36,285.41 409.38,284.34 409.4,283.43 409.42,282.69 409.44,282.14 409.46,281.77 409.48,281.59 409.5,281.61 409.52,281.82 409.54,282.23 409.56,282.82 409.58,283.59 409.6,284.55 409.62,285.66 409.64,286.94 409.66,288.35 409.68,289.89 409.7,291.55 409.72,293.3 409.74,295.12 409.76,297 409.78,298.92 409.8,300.86 409.82,302.8 409.84,304.72 409.86,306.61 409.88,308.44 409.9,310.19 409.92,311.86 409.94,313.42 409.96,314.87 409.98,316.2 410,317.39 410.02,318.45 410.04,319.36 410.06,320.13 410.08,320.76 410.1,321.26 410.12,321.62 410.14,321.87 410.16,322.01 410.18,322.07 410.2,322.07 410.22,322.04 410.24,321.96 410.26,321.82 410.28,321.59 410.3,321.25 410.32,320.78 410.34,320.18 410.36,319.45 410.38,318.57 410.4,317.55 410.42,316.39 410.44,315.1 410.46,313.67 410.48,312.13 410.5,310.49 410.52,308.76 410.54,306.96 410.56,305.11 410.58,303.23 410.6,301.34 410.62,299.46 410.64,297.62 410.66,295.84 410.68,294.15 410.7,292.55 410.72,291.09 410.74,289.77 410.76,288.62 410.78,287.64 410.8,286.86 410.82,286.29 410.84,285.93 410.86,285.79 410.88,285.87 410.9,286.18 410.92,286.7 410.94,287.44 410.96,288.37 410.98,289.5 411,290.8 411.02,292.25 411.04,293.84 411.06,295.55 411.08,297.34 411.1,299.2 411.12,301.1 411.14,303.01 411.16,304.91 411.18,306.77 411.2,308.57 411.22,310.29 411.24,311.91 411.26,313.41 411.28,314.77 411.3,315.98 411.32,317.03 411.34,317.93 411.36,318.66 411.38,319.24 411.4,319.66 411.42,319.94 411.44,320.1 411.46,320.16 411.48,320.15 411.5,320.11 411.52,320.02 411.54,319.83 411.56,319.52 411.58,319.08 411.6,318.49 411.62,317.74 411.64,316.84 411.66,315.77 411.68,314.55 411.7,313.18 411.72,311.68 411.74,310.06 411.76,308.35 411.78,306.57 411.8,304.74 411.82,302.9 411.84,301.06 411.86,299.27 411.88,297.55 411.9,295.93 411.92,294.44 411.94,293.1 411.96,291.94 411.98,290.98 412,290.24 412.02,289.74 412.04,289.47 412.06,289.45 412.08,289.69 412.1,290.17 412.12,290.88 412.14,291.82 412.16,292.97 412.18,294.3 412.2,295.8 412.22,297.42 412.24,299.16 412.26,300.96 412.28,302.81 412.3,304.67 412.32,306.49 412.34,308.27 412.36,309.95 412.38,311.53 412.4,312.97 412.42,314.26 412.44,315.38 412.46,316.32 412.48,317.08 412.5,317.67 412.52,318.08 412.54,318.34 412.56,318.47 412.58,318.5 412.6,318.48 412.62,318.4 412.64,318.24 412.66,317.95 412.68,317.51 412.7,316.9 412.72,316.12 412.74,315.16 412.76,314.03 412.78,312.73 412.8,311.29 412.82,309.72 412.84,308.06 412.86,306.32 412.88,304.55 412.9,302.78 412.92,301.05 412.94,299.39 412.96,297.85 412.98,296.45 413,295.23 413.02,294.22 413.04,293.44 413.06,292.91 413.08,292.64 413.1,292.65 413.12,292.93 413.14,293.47 413.16,294.27 413.18,295.3 413.2,296.54 413.22,297.96 413.24,299.53 413.26,301.2 413.28,302.95 413.3,304.72 413.32,306.48 413.34,308.19 413.36,309.81 413.38,311.32 413.4,312.67 413.42,313.85 413.44,314.84 413.46,315.65 413.48,316.25 413.5,316.67 413.52,316.92 413.54,317.03 413.56,317.04 413.58,317 413.6,316.89 413.62,316.66 413.64,316.27 413.66,315.7 413.68,314.95 413.7,314.01 413.72,312.88 413.74,311.59 413.76,310.15 413.78,308.6 413.8,306.96 413.82,305.29 413.84,303.62 413.86,301.99 413.88,300.46 413.9,299.07 413.92,297.86 413.94,296.86 413.96,296.11 413.98,295.62 414,295.42 414.02,295.51 414.04,295.89 414.06,296.54 414.08,297.45 414.1,298.59 414.12,299.92 414.14,301.4 414.16,303 414.18,304.65 414.2,306.32 414.22,307.94 414.24,309.49 414.26,310.92 414.28,312.19 414.3,313.27 414.32,314.16 414.34,314.84 414.36,315.32 414.38,315.61 414.4,315.74 414.42,315.75 414.44,315.71 414.46,315.59 414.48,315.34 414.5,314.91 414.52,314.3 414.54,313.48 414.56,312.47 414.58,311.28 414.6,309.94 414.62,308.49 414.64,306.95 414.66,305.4 414.68,303.87 414.7,302.41 414.72,301.09 414.74,299.95 414.76,299.03 414.78,298.37 414.8,297.99 414.82,297.91 414.84,298.13 414.86,298.64 414.88,299.43 414.9,300.46 414.92,301.69 414.94,303.07 414.96,304.56 414.98,306.09 415,307.61 415.02,309.07 415.04,310.41 415.06,311.6 415.08,312.6 415.1,313.4 415.12,313.98 415.14,314.36 415.16,314.56 415.18,314.61 415.2,314.58 415.22,314.49 415.24,314.27 415.26,313.87 415.28,313.28 415.3,312.49 415.32,311.5 415.34,310.35 415.36,309.06 415.38,307.68 415.4,306.27 415.42,304.89 415.44,303.58 415.46,302.42 415.48,301.46 415.5,300.73 415.52,300.28 415.54,300.13 415.56,300.27 415.58,300.72 415.6,301.43 415.62,302.39 415.64,303.54 415.66,304.83 415.68,306.19 415.7,307.56 415.72,308.89 415.74,310.11 415.76,311.18 415.78,312.07 415.8,312.74 415.82,313.21 415.84,313.48 415.86,313.58 415.88,313.57 415.9,313.51 415.92,313.32 415.94,312.98 415.96,312.44 415.98,311.7 416,310.78 416.02,309.71 416.04,308.53 416.06,307.3 416.08,306.07 416.1,304.92 416.12,303.9 416.14,303.07 416.16,302.49 416.18,302.17 416.2,302.15 416.22,302.42 416.24,302.96 416.26,303.75 416.28,304.73 416.3,305.84 416.32,307.03 416.34,308.21 416.36,309.34 416.38,310.35 416.4,311.2 416.42,311.85 416.44,312.3 416.46,312.56 416.48,312.65 416.5,312.64 416.52,312.57 416.54,312.38 416.56,312.03 416.58,311.49 416.6,310.78 416.62,309.91 416.64,308.93 416.66,307.9 416.68,306.87 416.7,305.91 416.72,305.08 416.74,304.45 416.76,304.06 416.78,303.93 416.8,304.06 416.82,304.46 416.84,305.08 416.86,305.89 416.88,306.82 416.9,307.8 416.92,308.77 416.94,309.67 416.96,310.45 416.98,311.05 417,311.48 417.02,311.72 417.04,311.81 417.06,311.8 417.08,311.74 417.1,311.57 417.12,311.24 417.14,310.76 417.16,310.13 417.18,309.39 417.2,308.58 417.22,307.77 417.24,307 417.26,306.36 417.28,305.89 417.3,305.62 417.32,305.58 417.34,305.76 417.36,306.16 417.38,306.73 417.4,307.42 417.42,308.17 417.44,308.92 417.46,309.6 417.48,310.18 417.5,310.61 417.52,310.89 417.54,311.03 417.56,311.05 417.58,311.02 417.6,310.92 417.62,310.71 417.64,310.39 417.66,309.94 417.68,309.41 417.7,308.84 417.72,308.28 417.74,307.78 417.76,307.38 417.78,307.13 417.8,307.06 417.82,307.15 417.84,307.4 417.86,307.78 417.88,308.24 417.9,308.74 417.92,309.23 417.94,309.65 417.96,309.99 417.98,310.21 418,310.33 418.02,310.36 418.04,310.34 418.06,310.28 418.08,310.16 418.1,309.96 418.12,309.7 418.14,309.41 418.16,309.1 418.18,308.82 418.2,308.6 418.22,308.46 418.24,308.41 418.26,308.46 418.28,308.6 418.3,308.79 418.32,309.01 418.34,309.23 418.36,309.43 418.38,309.58 418.4,309.68 418.42,309.73 418.44,309.73 418.46,309.71 418.48,309.68 418.5,309.63 418.52,309.58 418.54,309.53 418.56,309.49 418.58,309.48 418.6,309.5 418.6,309.5 418.7,310.4 418.8,311.28 418.9,312.14 419,313.02 419.1,313.94 419.2,314.93 419.3,316 419.4,317.22 419.5,318.58 419.6,320.04 419.7,321.57 419.8,323.1 419.9,324.59 420,326 420.1,327.38 420.2,328.79 420.3,330.19 420.4,331.54 420.5,332.82 420.6,333.99 420.7,335 420.8,335.92 420.9,336.84 421,337.73 421.1,338.6 421.2,339.44 421.3,340.23 421.4,340.98 421.5,341.67 421.6,342.29 421.7,342.84 421.8,343.32 421.9,343.71 422,344 422.1,344.23 422.2,344.43 422.3,344.6 422.4,344.75 422.5,344.89 422.6,345.02 422.7,345.14 422.8,345.26 422.9,345.39 423,345.53 423.05,345.6 423.1,345.6 423.15,345.59 423.2,345.57 423.25,345.54 423.3,345.51 423.35,345.46 423.4,345.42 423.45,345.36 423.5,345.29 423.55,345.22 423.6,345.14 423.65,345.05 423.7,344.96 423.75,344.85 423.8,344.74 423.85,344.61 423.9,344.48 423.95,344.34 424,344.19 424.05,344.03 424.1,343.86 424.15,343.69 424.2,343.5 424.25,343.3 424.3,343.09 424.35,342.86 424.4,342.63 424.45,342.39 424.5,342.13 424.55,341.86 424.6,341.57 424.65,341.28 424.7,340.96 424.75,340.64 424.8,340.3 424.85,339.94 424.9,339.56 424.95,339.17 425,338.76 425.05,338.33 425.1,337.88 425.15,337.41 425.2,336.92 425.25,336.4 425.3,335.86 425.35,335.3 425.4,334.71 425.45,334.09 425.5,333.44 425.55,332.76 425.6,332.05 425.65,331.3 425.7,330.52 425.75,329.69 425.8,328.83 425.85,327.92 425.9,326.97 425.95,325.97 426,324.91 426.05,323.8 426.1,322.63 426.15,321.4 426.2,320.1 426.25,318.73 426.3,317.28 426.35,315.74 426.4,314.12 426.45,312.41 426.5,310.59 426.55,308.66 426.6,306.61 426.65,304.44 426.7,302.13 426.75,299.67 426.8,297.05 426.85,294.25 426.9,291.27 426.95,288.09 427,284.69 427.05,281.05 427.1,277.15 427.15,272.97 427.2,268.5 427.25,263.7 427.3,258.55 427.35,253.02 427.4,247.09 427.45,240.74 427.5,233.93 427.55,226.64 427.6,218.86 427.65,210.57 427.7,201.77 427.75,192.48 427.8,182.72 427.85,172.55 427.9,162.07 427.95,151.4 428,140.69 428.05,130.18 428.1,120.12 428.15,110.8 428.2,102.56 428.25,95.72 428.3,90.58 428.35,87.38 428.4,86.3 428.45,87.4 428.5,90.65 428.55,95.88 428.6,102.83 428.65,111.22 428.7,120.69 428.75,130.92 428.8,141.61 428.85,152.5 428.9,163.36 428.95,174.02 429,184.36 429.05,194.29 429.1,203.74 429.15,212.69 429.2,221.13 429.25,229.05 429.3,236.46 429.35,243.39 429.4,249.86 429.45,255.89 429.5,261.52 429.55,266.76 429.6,271.65 429.65,276.2 429.7,280.45 429.75,284.42 429.8,288.13 429.85,291.59 429.9,294.83 429.95,297.87 430,300.72 430.05,303.38 430.1,305.89 430.15,308.25 430.2,310.46 430.25,312.55 430.3,314.51 430.35,316.36 430.4,318.11 430.45,319.77 430.5,321.33 430.55,322.81 430.6,324.21 430.65,325.53 430.7,326.79 430.75,327.99 430.8,329.12 430.85,330.2 430.9,331.22 430.95,332.19 431,333.12 431.05,334 431.1,334.84 431.15,335.64 431.2,336.41 431.25,337.14 431.3,337.83 431.35,338.5 431.4,339.13 431.45,339.74 431.5,340.32 431.55,340.87 431.6,341.4 431.65,341.9 431.7,342.39 431.75,342.85 431.8,343.29 431.85,343.71 431.9,344.12 431.95,344.5 432,344.87 432.05,345.23 432.1,345.57 432.15,345.89 432.2,346.2 432.25,346.49 432.3,346.77 432.35,347.04 432.4,347.3 432.45,347.54 432.5,347.78 432.55,348 432.6,348.21 432.65,348.41 432.7,348.6 432.75,348.78 432.8,348.95 432.85,349.11 432.9,349.26 432.95,349.4 433,349.54 433.05,349.66 433.1,349.78 433.15,349.89 433.2,349.99 433.25,350.08 433.3,350.16 433.35,350.24 433.4,350.31 433.45,350.37 433.5,350.42 433.55,350.47 433.6,350.51 433.65,350.54 433.7,350.57 433.75,350.59 433.8,350.6 433.85,350.6 433.85,350.6 433.95,350.44 434.05,350.29 434.15,350.15 434.25,350.01 434.35,349.87 434.45,349.72 434.55,349.55 434.65,349.37 434.75,349.17 434.85,348.93 434.95,348.65 435.05,348.29 435.15,347.83 435.25,347.29 435.35,346.68 435.45,346 435.55,345.26 435.65,344.46 435.75,343.62 435.85,342.74 435.95,341.83 436.05,340.9 436.15,339.94 436.25,338.98 436.35,338 436.45,336.88 436.55,335.64 436.65,334.32 436.75,332.94 436.85,331.55 436.95,330.17 437.05,328.83 437.15,327.45 437.25,326.05 437.35,324.63 437.45,323.21 437.55,321.81 437.65,320.45 437.75,319.13 437.85,317.88 437.95,316.69 438.05,315.54 438.15,314.41 438.25,313.3 438.35,312.19 438.45,311.07 438.5,310.5 438.52,310.52 438.54,310.54 438.56,310.54 438.58,310.53 438.6,310.48 438.62,310.4 438.64,310.3 438.66,310.18 438.68,310.05 438.7,309.95 438.72,309.87 438.74,309.84 438.76,309.87 438.78,309.95 438.8,310.07 438.82,310.24 438.84,310.42 438.86,310.6 438.88,310.77 438.9,310.89 438.92,310.97 438.94,311.02 438.96,311.04 438.98,311.03 439,310.96 439.02,310.83 439.04,310.61 439.06,310.33 439.08,309.99 439.1,309.63 439.12,309.28 439.14,308.96 439.16,308.71 439.18,308.57 439.2,308.53 439.22,308.62 439.24,308.82 439.26,309.12 439.28,309.5 439.3,309.92 439.32,310.34 439.34,310.74 439.36,311.07 439.38,311.32 439.4,311.49 439.42,311.58 439.44,311.61 439.46,311.61 439.48,311.53 439.5,311.35 439.52,311.06 439.54,310.66 439.56,310.16 439.58,309.6 439.6,309 439.62,308.42 439.64,307.9 439.66,307.48 439.68,307.2 439.7,307.08 439.72,307.13 439.74,307.34 439.76,307.72 439.78,308.22 439.8,308.82 439.82,309.46 439.84,310.1 439.86,310.7 439.88,311.23 439.9,311.65 439.92,311.95 439.94,312.13 439.96,312.22 439.98,312.24 440,312.22 440.02,312.1 440.04,311.85 440.06,311.46 440.08,310.93 440.1,310.28 440.12,309.54 440.14,308.74 440.16,307.94 440.18,307.19 440.2,306.52 440.22,305.99 440.24,305.64 440.26,305.48 440.28,305.53 440.3,305.78 440.32,306.23 440.34,306.83 440.36,307.57 440.38,308.38 440.4,309.23 440.42,310.06 440.44,310.84 440.46,311.51 440.48,312.06 440.5,312.47 440.52,312.73 440.54,312.88 440.56,312.93 440.58,312.94 440.6,312.86 440.62,312.67 440.64,312.32 440.66,311.82 440.68,311.16 440.7,310.36 440.72,309.46 440.74,308.49 440.76,307.49 440.78,306.53 440.8,305.64 440.82,304.88 440.84,304.29 440.86,303.89 440.88,303.71 440.9,303.76 440.92,304.04 440.94,304.53 440.96,305.21 440.98,306.05 441,306.99 441.02,308 441.04,309.03 441.06,310.02 441.08,310.94 441.1,311.76 441.12,312.44 441.14,312.96 441.16,313.33 441.18,313.56 441.2,313.67 441.22,313.71 441.24,313.69 441.26,313.59 441.28,313.34 441.3,312.94 441.32,312.36 441.34,311.63 441.36,310.74 441.38,309.73 441.4,308.63 441.42,307.48 441.44,306.33 441.46,305.22 441.48,304.2 441.5,303.31 441.52,302.6 441.54,302.08 441.56,301.79 441.58,301.74 441.6,301.93 441.62,302.35 441.64,302.99 441.66,303.81 441.68,304.78 441.7,305.87 441.72,307.03 441.74,308.21 441.76,309.37 441.78,310.48 441.8,311.48 441.82,312.36 441.84,313.1 441.86,313.67 441.88,314.09 441.9,314.36 441.92,314.5 441.94,314.56 441.96,314.57 441.98,314.5 442,314.32 442.02,313.99 442.04,313.49 442.06,312.82 442.08,311.99 442.1,311.01 442.12,309.9 442.14,308.69 442.16,307.42 442.18,306.12 442.2,304.84 442.22,303.62 442.24,302.49 442.26,301.51 442.28,300.7 442.3,300.09 442.32,299.7 442.34,299.54 442.36,299.63 442.38,299.95 442.4,300.49 442.42,301.25 442.44,302.18 442.46,303.26 442.48,304.46 442.5,305.73 442.52,307.04 442.54,308.35 442.56,309.62 442.58,310.81 442.6,311.9 442.62,312.85 442.64,313.67 442.66,314.32 442.68,314.82 442.7,315.17 442.72,315.38 442.74,315.49 442.76,315.52 442.78,315.52 442.8,315.43 442.82,315.23 442.84,314.88 442.86,314.37 442.88,313.7 442.9,312.87 442.92,311.88 442.94,310.75 442.96,309.51 442.98,308.17 443,306.78 443.02,305.36 443.04,303.96 443.06,302.6 443.08,301.33 443.1,300.17 443.12,299.16 443.14,298.33 443.16,297.7 443.18,297.28 443.2,297.09 443.22,297.13 443.24,297.4 443.26,297.89 443.28,298.59 443.3,299.47 443.32,300.53 443.34,301.72 443.36,303.02 443.38,304.39 443.4,305.81 443.42,307.23 443.44,308.62 443.46,309.96 443.48,311.22 443.5,312.37 443.52,313.39 443.54,314.27 443.56,315 443.58,315.58 443.6,316.02 443.62,316.31 443.64,316.49 443.66,316.58 443.68,316.61 443.7,316.6 443.72,316.51 443.74,316.32 443.76,315.99 443.78,315.52 443.8,314.9 443.82,314.12 443.84,313.19 443.86,312.11 443.88,310.91 443.9,309.59 443.92,308.18 443.94,306.71 443.96,305.21 443.98,303.7 444,302.21 444.02,300.77 444.04,299.42 444.06,298.18 444.08,297.08 444.1,296.13 444.12,295.37 444.14,294.8 444.16,294.44 444.18,294.29 444.2,294.36 444.22,294.65 444.24,295.14 444.26,295.83 444.28,296.7 444.3,297.74 444.32,298.92 444.34,300.21 444.36,301.61 444.38,303.07 444.4,304.56 444.42,306.07 444.44,307.56 444.46,309.01 444.48,310.4 444.5,311.7 444.52,312.89 444.54,313.96 444.56,314.9 444.58,315.71 444.6,316.37 444.62,316.89 444.64,317.28 444.66,317.55 444.68,317.72 444.7,317.8 444.72,317.83 444.74,317.83 444.76,317.77 444.78,317.62 444.8,317.35 444.82,316.96 444.84,316.43 444.86,315.76 444.88,314.94 444.9,313.99 444.92,312.9 444.94,311.69 444.96,310.36 444.98,308.95 445,307.45 445.02,305.91 445.04,304.33 445.06,302.75 445.08,301.18 445.1,299.65 445.12,298.18 445.14,296.81 445.16,295.54 445.18,294.4 445.2,293.41 445.22,292.58 445.24,291.93 445.26,291.46 445.28,291.19 445.3,291.11 445.32,291.23 445.34,291.55 445.36,292.06 445.38,292.74 445.4,293.6 445.42,294.61 445.44,295.76 445.46,297.04 445.48,298.41 445.5,299.87 445.52,301.39 445.54,302.94 445.56,304.51 445.58,306.08 445.6,307.61 445.62,309.11 445.64,310.53 445.66,311.88 445.68,313.13 445.7,314.27 445.72,315.3 445.74,316.2 445.76,316.98 445.78,317.63 445.8,318.16 445.82,318.56 445.84,318.86 445.86,319.05 445.88,319.17 445.9,319.22 445.92,319.24 445.94,319.23 445.96,319.16 445.98,319.01 446,318.75 446.02,318.39 446.04,317.9 446.06,317.29 446.08,316.56 446.1,315.69 446.12,314.7 446.14,313.58 446.16,312.36 446.18,311.03 446.2,309.62 446.22,308.12 446.24,306.57 446.26,304.97 446.28,303.34 446.3,301.71 446.32,300.08 446.34,298.49 446.36,296.94 446.38,295.45 446.4,294.05 446.42,292.75 446.44,291.57 446.46,290.51 446.48,289.6 446.5,288.83 446.52,288.23 446.54,287.8 446.56,287.54 446.58,287.45 446.6,287.54 446.62,287.81 446.64,288.24 446.66,288.84 446.68,289.6 446.7,290.51 446.72,291.55 446.74,292.71 446.76,293.99 446.78,295.37 446.8,296.82 446.82,298.34 446.84,299.9 446.86,301.5 446.88,303.11 446.9,304.72 446.92,306.3 446.94,307.86 446.96,309.36 446.98,310.81 447,312.17 447.02,313.46 447.04,314.65 447.06,315.74 447.08,316.72 447.1,317.59 447.12,318.35 447.14,319 447.16,319.54 447.18,319.97 447.2,320.3 447.22,320.54 447.24,320.71 447.26,320.8 447.28,320.85 447.3,320.87 447.32,320.87 447.34,320.81 447.36,320.69 447.38,320.49 447.4,320.2 447.42,319.8 447.44,319.3 447.46,318.7 447.48,317.98 447.5,317.14 447.52,316.2 447.54,315.15 447.56,314 447.58,312.74 447.6,311.4 447.62,309.98 447.64,308.49 447.66,306.94 447.68,305.34 447.7,303.71 447.72,302.06 447.74,300.4 447.76,298.74 447.78,297.11 447.8,295.5 447.82,293.95 447.84,292.46 447.86,291.04 447.88,289.71 447.9,288.48 447.92,287.36 447.94,286.36 447.96,285.48 447.98,284.74 448,284.14 448.02,283.68 448.04,283.38 448.06,283.22 448.08,283.22 448.1,283.37 448.12,283.67 448.14,284.12 448.16,284.71 448.18,285.43 448.2,286.29 448.22,287.27 448.24,288.37 448.26,289.57 448.28,290.86 448.3,292.24 448.32,293.69 448.34,295.2 448.36,296.76 448.38,298.35 448.4,299.96 448.42,301.59 448.44,303.22 448.46,304.83 448.48,306.41 448.5,307.96 448.52,309.47 448.54,310.92 448.56,312.3 448.58,313.62 448.6,314.85 448.62,316 448.64,317.06 448.66,318.02 448.68,318.9 448.7,319.67 448.72,320.35 448.74,320.93 448.76,321.42 448.78,321.82 448.8,322.14 448.82,322.38 448.84,322.55 448.86,322.66 448.88,322.73 448.9,322.76 448.92,322.78 448.94,322.77 448.96,322.72 448.98,322.61 449,322.43 449.02,322.18 449.04,321.85 449.06,321.43 449.08,320.92 449.1,320.32 449.12,319.62 449.14,318.82 449.16,317.93 449.18,316.95 449.2,315.88 449.22,314.72 449.24,313.48 449.26,312.16 449.28,310.76 449.3,309.31 449.32,307.8 449.34,306.24 449.36,304.64 449.38,303 449.4,301.35 449.42,299.69 449.44,298.03 449.46,296.37 449.48,294.73 449.5,293.12 449.52,291.55 449.54,290.03 449.56,288.57 449.58,287.17 449.6,285.85 449.62,284.62 449.64,283.47 449.66,282.42 449.68,281.48 449.7,280.65 449.72,279.93 449.74,279.34 449.76,278.86 449.78,278.51 449.8,278.29 449.82,278.2 449.84,278.24 449.86,278.4 449.88,278.69 449.9,279.11 449.92,279.64 449.94,280.3 449.96,281.06 449.98,281.94 450,282.92 450.02,284 450.04,285.16 450.06,286.41 450.08,287.73 450.1,289.12 450.12,290.57 450.14,292.07 450.16,293.61 450.18,295.19 450.2,296.79 450.22,298.4 450.24,300.02 450.26,301.64 450.28,303.25 450.3,304.84 450.32,306.41 450.34,307.94 450.36,309.43 450.38,310.87 450.4,312.26 450.42,313.59 450.44,314.85 450.46,316.05 450.48,317.17 450.5,318.22 450.52,319.19 450.54,320.09 450.56,320.9 450.58,321.63 450.6,322.28 450.62,322.85 450.64,323.34 450.66,323.76 450.68,324.11 450.7,324.39 450.72,324.61 450.74,324.77 450.76,324.88 450.78,324.96 450.8,325"/>
<polyline fill="none" stroke="#1010e8" stroke-width="2" stroke-linejoin="round" stroke-linecap="butt"  points="219.25,382.3 219.75,382.3 220.25,382.3 220.75,382.3 221.25,382.3 221.75,382.3 222.25,382.3 222.75,382.3 223.25,382.3 223.75,382.3 224,382.3 224.1,382.3 224.2,382.3 224.3,382.3 224.4,382.3 224.5,382.3 224.6,382.3 224.7,382.3 224.8,382.3 224.9,382.3 225,382.3 225.1,382.3 225.2,382.3 225.3,382.3 225.4,382.3 225.5,382.3 225.6,382.3 225.7,382.3 225.8,382.3 225.9,382.3 226,382.3 226.1,382.3 226.2,382.3 226.3,382.3 226.4,382.3 226.5,382.3 226.6,382.3 226.7,382.3 226.8,382.3 226.9,382.3 227,382.3 227.1,382.3 227.2,382.3 227.3,382.3 227.4,382.3 227.5,382.3 227.6,382.3 227.7,382.3 227.8,382.3 227.9,382.3 228,382.3 228.1,382.3 228.2,382.3 228.3,382.3 228.4,382.3 228.5,382.3 228.6,382.3 228.7,382.3 228.8,382.3 228.9,382.3 229,382.3 229.1,382.3 229.2,382.3 229.3,382.3 229.4,382.3 229.5,382.3 229.6,382.3 229.7,382.3 229.8,382.3 229.9,382.3 230,382.3 230.1,382.3 230.2,382.3 230.3,382.3 230.4,382.3 230.5,382.3 230.6,382.3 230.7,382.3 230.8,382.3 230.9,382.3 231,382.3 231.1,382.3 231.2,382.3 231.3,382.3 231.4,382.3 231.5,382.3 231.6,382.3 231.7,382.3 231.8,382.3 231.9,382.3 232,382.3 232.1,382.3 232.2,382.3 232.3,382.3 232.4,382.3 232.5,382.3 232.6,382.3 232.7,382.3 232.8,382.3 232.9,382.3 233,382.3 233.1,382.3 233.2,382.3 233.3,382.3 233.4,382.3 233.5,382.3 233.6,382.3 233.7,382.3 233.8,382.3 233.9,382.3 234,382.3 234.1,382.3 234.2,382.3 234.3,382.3 234.4,382.3 234.5,382.3 234.6,382.3 234.7,382.3 234.8,382.3 234.9,382.3 235,382.3 235.1,382.3 235.2,382.3 235.3,382.3 235.4,382.3 235.5,382.3 235.6,382.3 235.7,382.3 235.8,382.3 235.9,382.3 236,382.3 236.1,382.3 236.2,382.3 236.3,382.3 236.4,382.3 236.5,382.3 236.6,382.3 236.7,382.3 236.8,382.3 236.9,382.3 237,382.3 237.1,382.3 237.2,382.3 237.3,382.3 237.4,382.3 237.5,382.3 237.6,382.3 237.7,382.3 237.8,382.3 237.9,382.3 238,382.3 238.1,382.3 238.2,382.3 238.3,382.3 238.4,382.3 238.5,382.3 238.6,382.3 238.7,382.3 238.8,382.3 238.9,382.3 239,382.3 239.1,382.3 239.2,382.3 239.3,382.3 239.4,382.3 239.5,382.3 239.6,382.3 239.7,382.3 239.8,382.3 239.9,382.3 240,382.3 240.1,382.3 240.2,382.3 240.3,382.3 240.4,382.3 240.5,382.3 240.6,382.3 240.7,382.3 240.8,382.3 240.9,382.3 241,382.3 241.1,382.3 241.2,382.3 241.3,382.3 241.4,382.3 241.5,382.3 241.6,382.3 241.7,382.3 241.8,382.3 241.9,382.3 242,382.3 242.1,382.3 242.2,382.3 242.3,382.3 242.4,382.3 242.5,382.3 242.6,382.3 242.7,382.3 242.8,382.3 242.9,382.3 243,382.3 243.1,382.3 243.2,382.3 243.3,382.3 243.4,382.3 243.5,382.3 243.6,382.3 243.7,382.3 243.8,382.3 243.9,382.3 244,382.3 244.1,382.3 244.2,382.3 244.3,382.3 244.4,382.3 244.5,382.3 244.6,382.3 244.7,382.3 244.8,382.3 244.9,382.3 245,382.3 245.1,382.3 245.2,382.3 245.3,382.3 245.4,382.3 245.5,382.3 245.6,382.3 245.7,382.3 245.8,382.3 245.9,382.3 246,382.3 246.1,382.3 246.2,382.3 246.3,382.3 246.4,382.3 246.5,382.3 246.6,382.3 246.7,382.3 246.8,382.3 246.9,382.3 247,382.3 247.1,382.3 247.2,382.3 247.3,382.3 247.4,382.3 247.5,382.3 247.6,382.3 247.7,382.3 247.8,382.3 247.9,382.3 248,382.3 248.1,382.3 248.2,382.3 248.3,382.3 248.4,382.3 248.5,382.3 248.6,382.3 248.7,382.3 248.8,382.3 248.9,382.3 249,382.3 249.1,382.3 249.2,382.3 249.3,382.3 249.4,382.3 249.5,382.3 249.6,382.3 249.7,382.3 249.8,382.3 249.9,382.3 250,382.3 250.1,382.3 250.2,382.3 250.3,382.3 250.4,382.3 250.5,382.3 250.6,382.3 250.7,382.3 250.8,382.3 250.9,382.3 251,382.3 251.1,382.3 251.2,382.3 251.3,382.3 251.4,382.3 251.5,382.3 251.6,382.3 251.7,382.3 251.8,382.3 251.9,382.3 252,382.3 252.1,382.3 252.2,382.3 252.3,382.3 252.4,382.3 252.5,382.3 252.6,382.3 252.7,382.3 252.8,382.3 252.9,382.3 253,382.3 253.1,382.3 253.2,382.3 253.3,382.3 253.4,382.3 253.5,382.3 253.6,382.3 253.7,382.3 253.8,382.3 253.9,382.3 254,382.3 254.1,382.3 254.2,382.3 254.3,382.3 254.4,382.3 254.5,382.3 254.6,382.3 254.7,382.3 254.8,382.3 254.9,382.29 255,382.29 255.1,382.29 255.2,382.29 255.3,382.29 255.4,382.29 255.5,382.29 255.6,382.29 255.7,382.29 255.8,382.29 255.9,382.29 256,382.29 256.1,382.29 256.2,382.29 256.3,382.29 256.4,382.29 256.5,382.29 256.6,382.29 256.7,382.29 256.8,382.28 256.9,382.28 257,382.28 257.1,382.28 257.2,382.28 257.3,382.28 257.4,382.28 257.5,382.28 257.6,382.28 257.7,382.28 257.8,382.27 257.9,382.27 258,382.27 258.1,382.27 258.2,382.27 258.3,382.27 258.4,382.26 258.5,382.26 258.6,382.26 258.7,382.26 258.8,382.26 258.9,382.25 259,382.25 259.1,382.25 259.2,382.25 259.3,382.24 259.4,382.24 259.5,382.24 259.6,382.23 259.7,382.23 259.8,382.23 259.9,382.22 260,382.22 260.1,382.22 260.2,382.21 260.3,382.21 260.4,382.2 260.5,382.2 260.6,382.19 260.7,382.19 260.8,382.18 260.9,382.18 261,382.17 261.1,382.16 261.2,382.16 261.3,382.15 261.4,382.14 261.5,382.14 261.6,382.13 261.7,382.12 261.8,382.11 261.9,382.1 262,382.09 262.1,382.09 262.2,382.08 262.3,382.07 262.4,382.05 262.5,382.04 262.6,382.03 262.7,382.02 262.8,382.01 262.9,381.99 263,381.98 263.1,381.97 263.2,381.95 263.3,381.94 263.4,381.92 263.5,381.9 263.6,381.89 263.7,381.87 263.8,381.85 263.9,381.83 264,381.81 264.1,381.79 264.2,381.77 264.3,381.74 264.4,381.72 264.5,381.69 264.6,381.67 264.7,381.64 264.8,381.61 264.9,381.58 265,381.55 265.1,381.52 265.2,381.49 265.3,381.46 265.4,381.42 265.5,381.39 265.6,381.35 265.7,381.31 265.8,381.27 265.9,381.23 266,381.18 266.1,381.14 266.2,381.09 266.3,381.04 266.4,380.99 266.5,380.94 266.6,380.88 266.7,380.82 266.8,380.76 266.9,380.7 267,380.64 267.1,380.57 267.2,380.5 267.3,380.43 267.4,380.35 267.5,380.28 267.6,380.2 267.7,380.11 267.8,380.02 267.9,379.93 268,379.84 268.1,379.74 268.2,379.64 268.3,379.53 268.4,379.42 268.5,379.31 268.6,379.19 268.7,379.06 268.8,378.94 268.9,378.8 269,378.66 269.1,378.51 269.2,378.36 269.3,378.2 269.4,378.04 269.5,377.86 269.6,377.68 269.7,377.49 269.8,377.3 269.9,377.09 270,376.88 270.1,376.65 270.2,376.42 270.3,376.17 270.4,375.91 270.5,375.64 270.6,375.36 270.7,375.06 270.8,374.75 270.9,374.43 271,374.08 271.1,373.72 271.2,373.34 271.3,372.94 271.4,372.51 271.5,372.07 271.6,371.59 271.7,371.09 271.8,370.57 271.9,370.01 272,369.41 272.1,368.78 272.2,368.11 272.3,367.4 272.4,366.64 272.5,365.83 272.6,364.96 272.7,364.03 272.8,363.03 272.9,361.96 273,360.81 273.1,359.57 273.2,358.24 273.3,356.79 273.4,355.22 273.5,353.52 273.6,351.66 273.7,349.64 273.8,347.44 273.9,345.02 274,342.37 274.1,339.45 274.2,336.24 274.3,332.69 274.4,328.77 274.5,324.43 274.6,319.62 274.7,314.31 274.8,308.43 274.9,301.95 275,294.85 275.1,287.11 275.2,278.79 275.3,270 275.4,260.91 275.5,251.85 275.6,243.23 275.7,235.6 275.8,229.55 275.9,225.65 276,224.3 276.1,225.65 276.2,229.54 276.3,235.58 276.4,243.19 276.5,251.79 276.6,260.83 276.7,269.89 276.8,278.67 276.9,286.96 277,294.68 277.1,301.76 277.2,308.22 277.3,314.08 277.4,319.38 277.5,324.16 277.6,328.49 277.7,332.4 277.8,335.93 277.9,339.13 278,342.04 278.1,344.68 278.2,347.09 278.3,349.29 278.4,351.3 278.5,353.15 278.6,354.84 278.7,356.4 278.8,357.85 278.9,359.18 279,360.41 279.1,361.56 279.2,362.62 279.3,363.62 279.4,364.54 279.5,365.41 279.6,366.21 279.7,366.97 279.8,367.68 279.9,368.35 280,368.98 280.1,369.57 280.2,370.13 280.3,370.66 280.4,371.15 280.5,371.62 280.6,372.07 280.7,372.49 280.8,372.89 280.9,373.27 281,373.64 281.1,373.98 281.2,374.31 281.3,374.62 281.4,374.91 281.5,375.2 281.6,375.47 281.7,375.73 281.8,375.97 281.9,376.21 282,376.43 282.1,376.65 282.2,376.85 282.3,377.05 282.4,377.24 282.5,377.42 282.6,377.6 282.7,377.76 282.8,377.92 282.9,378.08 283,378.22 283.1,378.36 283.2,378.5 283.3,378.63 283.4,378.76 283.5,378.88 283.6,378.99 283.7,379.1 283.8,379.21 283.9,379.32 284,379.42 284.1,379.51 284.2,379.6 284.3,379.69 284.4,379.78 284.5,379.86 284.6,379.94 284.7,380.02 284.8,380.09 284.9,380.16 285,380.23 285.1,380.29 285.2,380.36 285.3,380.42 285.4,380.48 285.5,380.53 285.6,380.59 285.7,380.64 285.8,380.69 285.9,380.74 286,380.79 286.1,380.84 286.2,380.88 286.3,380.92 286.4,380.96 286.5,381 286.6,381.04 286.7,381.08 286.8,381.11 286.9,381.15 287,381.18 287.1,381.21 287.2,381.24 287.3,381.27 287.4,381.3 287.5,381.33 287.6,381.35 287.7,381.38 287.8,381.4 287.9,381.43 288,381.45 288.1,381.47 288.2,381.49 288.3,381.51 288.4,381.53 288.5,381.55 288.6,381.57 288.7,381.59 288.8,381.6 288.9,381.62 289,381.63 289.1,381.65 289.2,381.66 289.3,381.68 289.4,381.69 289.5,381.7 289.6,381.72 289.7,381.73 289.8,381.74 289.9,381.75 290,381.76 290.1,381.77 290.2,381.78 290.3,381.79 290.4,381.8 290.5,381.81 290.6,381.81 290.7,381.82 290.8,381.83 290.9,381.84 291,381.84 291.1,381.85 291.2,381.86 291.3,381.86 291.4,381.87 291.5,381.88 291.6,381.88 291.7,381.89 291.8,381.89 291.9,381.9 292,381.9 292.1,381.91 292.2,381.91 292.3,381.91 292.4,381.92 292.5,381.92 292.6,381.93 292.7,381.93 292.8,381.93 292.9,381.94 293,381.94 293.1,381.94 293.2,381.94 293.3,381.95 293.4,381.95 293.5,381.95 293.6,381.95 293.7,381.96 293.8,381.96 293.9,381.96 294,381.96 294.1,381.96 294.2,381.97 294.3,381.97 294.4,381.97 294.5,381.97 294.6,381.97 294.7,381.97 294.8,381.98 294.9,381.98 295,381.98 295.1,381.98 295.2,381.98 295.3,381.98 295.4,381.98 295.5,381.98 295.6,381.98 295.7,381.98 295.8,381.99 295.9,381.99 296,381.99 296.1,381.99 296.2,381.99 296.3,381.99 296.4,381.99 296.5,381.99 296.6,381.99 296.7,381.99 296.8,381.99 296.9,381.99 297,381.99 297.1,381.99 297.2,381.99 297.3,381.99 297.4,381.99 297.5,381.99 297.6,381.99 297.7,382 297.8,382 297.9,382 298,382 298.1,382 298.2,382 298.3,382 298.4,382 298.5,382 298.6,382 298.7,382 298.8,382 298.9,382 299,382 299.1,382 299.2,382 299.3,382 299.4,382 299.5,382 299.6,382 299.7,382 299.8,382 299.9,382 300,382 300.1,382 300.2,382 300.3,382 300.4,382 300.5,382 300.6,382 300.7,382 300.8,382 300.9,382 301,382 301.1,382 301.2,382 301.3,382 301.4,382 301.5,382 301.6,382 301.7,382 301.8,382 301.9,382 302,382 302.1,382 302.2,382 302.3,382 302.4,382 302.5,382 302.6,382 302.7,382 302.8,382 302.9,382 303,382 303.1,382 303.2,382 303.3,382 303.4,382 303.5,382 303.6,382 303.7,382 303.8,382 303.9,382 304,382 304.1,382 304.2,382 304.3,382 304.4,382 304.5,382 304.6,382 304.7,382 304.8,381.99 304.9,381.99 305,381.99 305.1,381.99 305.2,381.99 305.3,381.99 305.4,381.99 305.5,381.99 305.6,381.99 305.7,381.99 305.8,381.99 305.9,381.99 306,381.99 306.1,381.99 306.2,381.99 306.3,381.99 306.4,381.99 306.5,381.99 306.6,381.99 306.7,381.98 306.8,381.98 306.9,381.98 307,381.98 307.1,381.98 307.2,381.98 307.3,381.98 307.4,381.98 307.5,381.98 307.6,381.98 307.7,381.97 307.8,381.97 307.9,381.97 308,381.97 308.1,381.97 308.2,381.97 308.3,381.96 308.4,381.96 308.5,381.96 308.6,381.96 308.7,381.96 308.8,381.95 308.9,381.95 309,381.95 309.1,381.95 309.2,381.94 309.3,381.94 309.4,381.94 309.5,381.94 309.6,381.93 309.7,381.93 309.8,381.93 309.9,381.92 310,381.92 310.1,381.91 310.2,381.91 310.3,381.91 310.4,381.9 310.5,381.9 310.6,381.89 310.7,381.89 310.8,381.88 310.9,381.88 311,381.87 311.1,381.86 311.2,381.86 311.3,381.85 311.4,381.84 311.5,381.84 311.6,381.83 311.7,381.82 311.8,381.81 311.9,381.81 312,381.8 312.1,381.79 312.2,381.78 312.3,381.77 312.4,381.76 312.5,381.75 312.6,381.74 312.7,381.72 312.8,381.71 312.9,381.7 313,381.69 313.1,381.67 313.2,381.66 313.3,381.65 313.4,381.63 313.5,381.61 313.6,381.6 313.7,381.58 313.8,381.56 313.9,381.54 314,381.53 314.1,381.51 314.2,381.49 314.3,381.46 314.4,381.44 314.5,381.42 314.6,381.39 314.7,381.37 314.8,381.34 314.9,381.32 315,381.29 315.1,381.26 315.2,381.23 315.3,381.2 315.4,381.17 315.5,381.13 315.6,381.1 315.7,381.06 315.8,381.03 315.9,380.99 316,380.95 316.1,380.91 316.2,380.86 316.3,380.82 316.4,380.77 316.5,380.72 316.6,380.67 316.7,380.62 316.8,380.57 316.9,380.51 317,380.45 317.1,380.39 317.2,380.33 317.3,380.27 317.4,380.2 317.5,380.13 317.6,380.06 317.7,379.98 317.8,379.91 317.9,379.83 318,379.74 318.1,379.65 318.2,379.56 318.3,379.47 318.4,379.37 318.5,379.27 318.6,379.17 318.7,379.06 318.8,378.95 318.9,378.83 319,378.71 319.1,378.58 319.2,378.45 319.3,378.31 319.4,378.16 319.5,378.02 319.6,377.86 319.7,377.7 319.8,377.53 319.9,377.36 320,377.17 320.1,376.98 320.2,376.78 320.3,376.58 320.4,376.36 320.5,376.13 320.6,375.9 320.7,375.65 320.8,375.39 320.9,375.12 321,374.84 321.1,374.54 321.2,374.23 321.3,373.91 321.4,373.56 321.5,373.2 321.6,372.83 321.7,372.43 321.8,372.01 321.9,371.57 322,371.11 322.1,370.62 322.2,370.1 322.3,369.55 322.4,368.97 322.5,368.36 322.6,367.71 322.7,367.02 322.8,366.29 322.9,365.51 323,364.68 323.1,363.79 323.2,362.84 323.3,361.83 323.4,360.74 323.5,359.58 323.6,358.33 323.7,356.98 323.8,355.53 323.9,353.96 324,352.27 324.1,350.43 324.2,348.44 324.3,346.27 324.4,343.92 324.5,341.35 324.6,338.55 324.7,335.48 324.8,332.13 324.9,328.47 325,324.46 325.1,320.08 325.2,315.31 325.3,310.11 325.4,304.49 325.5,298.45 325.6,292.02 325.7,285.27 325.8,278.32 325.9,271.33 326,264.56 326.1,258.29 326.2,252.88 326.3,248.68 326.4,246.02 326.5,245.1 326.6,245.99 326.7,248.6 326.8,252.69 326.9,257.97 327,264.09 327.1,270.7 327.2,277.5 327.3,284.28 327.4,290.85 327.5,297.11 327.6,302.99 327.7,308.46 327.8,313.51 327.9,318.15 328,322.41 328.1,326.3 328.2,329.86 328.3,333.11 328.4,336.09 328.5,338.81 328.6,341.3 328.7,343.59 328.8,345.69 328.9,347.62 329,349.4 329.1,351.04 329.2,352.56 329.3,353.97 329.4,355.28 329.5,356.49 329.6,357.62 329.7,358.67 329.8,359.65 329.9,360.57 330,361.43 330.1,362.24 330.2,362.99 330.3,363.7 330.4,364.37 330.5,365 330.6,365.6 330.7,366.16 330.8,366.69 330.9,367.19 331,367.67 331.1,368.12 331.2,368.55 331.3,368.95 331.4,369.34 331.5,369.71 331.6,370.06 331.7,370.39 331.8,370.71 331.9,371.01 332,371.3 332.1,371.58 332.2,371.84 332.3,372.1 332.4,372.34 332.5,372.57 332.6,372.79 332.7,373.01 332.8,373.21 332.9,373.41 333,373.6 333.1,373.78 333.2,373.95 333.3,374.12 333.4,374.28 333.5,374.43 333.6,374.58 333.7,374.72 333.8,374.86 333.9,374.99 334,375.12 334.1,375.24 334.2,375.36 334.3,375.48 334.4,375.59 334.5,375.69 334.6,375.8 334.7,375.9 334.8,375.99 334.9,376.08 335,376.17 335.1,376.26 335.2,376.34 335.3,376.42 335.4,376.5 335.5,376.57 335.6,376.65 335.7,376.72 335.8,376.79 335.9,376.85 336,376.91 336.1,376.97 336.2,377.03 336.3,377.09 336.4,377.15 336.5,377.2 336.6,377.25 336.7,377.3 336.8,377.35 336.9,377.4 337,377.44 337.1,377.49 337.2,377.53 337.3,377.57 337.4,377.61 337.5,377.65 337.6,377.69 337.7,377.72 337.8,377.76 337.9,377.79 338,377.82 338.1,377.86 338.2,377.89 338.3,377.92 338.4,377.94 338.5,377.97 338.6,378 338.7,378.02 338.8,378.05 338.9,378.07 339,378.1 339.1,378.12 339.2,378.14 339.3,378.16 339.4,378.19 339.5,378.21 339.6,378.22 339.7,378.24 339.8,378.26 339.9,378.28 340,378.3 340.1,378.31 340.2,378.33 340.3,378.34 340.4,378.36 340.5,378.37 340.6,378.39 340.7,378.4 340.8,378.38 340.9,378.37 341,378.35 341.1,378.33 341.2,378.31 341.3,378.3 341.4,378.28 341.5,378.26 341.6,378.24 341.7,378.21 341.8,378.19 341.9,378.17 342,378.15 342.1,378.12 342.2,378.1 342.3,378.07 342.4,378.04 342.5,378.01 342.6,377.99 342.7,377.96 342.8,377.93 342.9,377.89 343,377.86 343.1,377.83 343.2,377.79 343.3,377.76 343.4,377.72 343.5,377.68 343.6,377.64 343.7,377.6 343.8,377.56 343.9,377.52 344,377.47 344.1,377.42 344.2,377.38 344.3,377.33 344.4,377.27 344.5,377.22 344.6,377.17 344.7,377.11 344.8,377.05 344.9,376.99 345,376.93 345.1,376.86 345.2,376.8 345.3,376.73 345.4,376.65 345.5,376.58 345.6,376.5 345.7,376.42 345.8,376.34 345.9,376.26 346,376.17 346.1,376.08 346.2,375.98 346.3,375.88 346.4,375.78 346.5,375.68 346.6,375.57 346.7,375.46 346.8,375.34 346.9,375.22 347,375.09 347.1,374.96 347.2,374.83 347.3,374.68 347.4,374.54 347.5,374.38 347.6,374.23 347.7,374.06 347.8,373.89 347.9,373.71 348,373.53 348.1,373.33 348.2,373.13 348.3,372.92 348.4,372.7 348.5,372.47 348.6,372.23 348.7,371.98 348.8,371.72 348.9,371.45 349,371.16 349.1,370.86 349.2,370.55 349.3,370.22 349.4,369.87 349.5,369.51 349.6,369.13 349.7,368.72 349.8,368.3 349.9,367.85 350,367.38 350.1,366.89 350.2,366.36 350.3,365.8 350.4,365.21 350.5,364.59 350.6,363.92 350.7,363.22 350.8,362.47 350.9,361.66 351,360.81 351.1,359.89 351.2,358.91 351.3,357.86 351.4,356.74 351.5,355.52 351.6,354.22 351.7,352.8 351.8,351.28 351.9,349.63 352,347.83 352.1,345.88 352.2,343.76 352.3,341.44 352.4,338.9 352.5,336.13 352.6,333.09 352.7,329.75 352.8,326.08 352.9,322.05 353,317.62 353.1,312.76 353.2,307.44 353.3,301.64 353.4,295.36 353.5,288.61 353.6,281.47 353.7,274.03 353.8,266.49 353.9,259.09 354,252.18 354.1,246.15 354.2,241.44 354.3,238.44 354.4,237.4 354.5,238.4 354.6,241.29 354.7,245.82 354.8,251.61 354.9,258.24 355,265.33 355.1,272.54 355.2,279.64 355.3,286.44 355.4,292.85 355.5,298.81 355.6,304.3 355.7,309.33 355.8,313.91 355.9,318.08 356,321.87 356.1,325.31 356.2,328.43 356.3,331.27 356.4,333.85 356.5,336.2 356.6,338.34 356.7,340.3 356.8,342.1 356.9,343.75 357,345.26 357.1,346.65 357.2,347.93 357.3,349.11 357.4,350.2 357.5,351.22 357.6,352.16 357.7,353.03 357.8,353.84 357.9,354.59 358,355.29 358.1,355.95 358.2,356.56 358.3,357.13 358.4,357.66 358.5,358.16 358.6,358.63 358.7,359.07 358.8,359.48 358.9,359.87 359,360.23 359.1,360.57 359.2,360.89 359.3,361.19 359.4,361.48 359.5,361.74 359.6,361.99 359.7,362.22 359.8,362.44 359.9,362.65 360,362.84 360.1,363.02 360.2,363.18 360.3,363.34 360.4,363.48 360.5,363.62 360.6,363.74 360.7,363.86 360.8,363.97 360.9,364.06 361,364.15 361.1,364.23 361.2,364.3 361.3,364.37 361.4,364.42 361.5,364.47 361.6,364.51 361.7,364.54 361.8,364.57 361.9,364.59 362,364.6 362.1,364.6 362.2,364.6 362.3,364.59 362.4,364.57 362.5,364.54 362.6,364.51 362.7,364.47 362.8,364.42 362.9,364.36 363,364.29 363.1,364.22 363.2,364.14 363.3,364.05 363.4,363.95 363.5,363.84 363.6,363.72 363.7,363.59 363.8,363.45 363.9,363.3 364,363.14 364.1,362.96 364.2,362.78 364.3,362.58 364.4,362.36 364.5,362.13 364.6,361.89 364.7,361.62 364.8,361.34 364.9,361.05 365,360.73 365.1,360.38 365.2,360.02 365.3,359.63 365.4,359.21 365.5,358.76 365.6,358.28 365.7,357.77 365.8,357.22 365.9,356.63 366,355.99 366.1,355.31 366.2,354.57 366.3,353.78 366.4,352.92 366.5,351.99 366.6,350.98 366.7,349.88 366.8,348.69 366.9,347.39 367,345.98 367.1,344.42 367.2,342.72 367.3,340.85 367.4,338.79 367.5,336.51 367.6,333.99 367.7,331.19 367.8,328.08 367.9,324.61 368,320.74 368.1,316.41 368.2,311.56 368.3,306.15 368.4,300.1 368.5,293.37 368.6,285.93 368.7,277.79 368.8,269.02 368.9,259.78 369,250.37 369.1,241.24 369.2,232.99 369.3,226.35 369.4,222.01 369.5,220.5 369.6,221.89 369.7,225.88 369.8,231.97 369.9,239.53 370,247.88 370.1,256.48 370.2,264.9 370.3,272.88 370.4,280.27 370.5,287.02 370.6,293.1 370.7,298.57 370.8,303.45 370.9,307.81 371,311.69 371.1,315.16 371.2,318.27 371.3,321.04 371.4,323.53 371.5,325.77 371.6,327.78 371.7,329.6 371.8,331.24 371.9,332.73 372,334.08 372.1,335.3 372.2,336.42 372.3,337.44 372.4,338.37 372.5,339.21 372.6,339.99 372.7,340.7 372.8,341.34 372.9,341.94 373,342.48 373.1,342.97 373.2,343.43 373.3,343.84 373.4,344.21 373.5,344.55 373.6,344.86 373.7,345.14 373.8,345.38 373.9,345.6 374,345.8 374.1,345.97 374.2,346.11 374.3,346.23 374.4,346.33 374.5,346.4 374.6,346.46 374.7,346.49 374.8,346.5 374.9,346.48 375,346.42 375.1,346.33 375.2,346.19 375.3,346.02 375.4,345.8 375.5,345.54 375.6,345.24 375.7,344.88 375.8,344.48 375.9,344.02 376,343.5 376.1,342.92 376.2,342.28 376.3,341.56 376.4,340.75 376.5,339.86 376.6,338.87 376.7,337.77 376.8,336.55 376.9,335.19 377,333.68 377.1,331.99 377.2,330.11 377.3,328.01 377.4,325.66 377.5,323.02 377.6,320.05 377.7,316.71 377.8,312.94 377.9,308.69 378,303.89 378.1,298.48 378.2,292.4 378.3,285.6 378.4,278.06 378.5,269.83 378.6,261.03 378.7,251.94 378.8,242.97 378.9,234.76 379,228.06 379.1,223.65 379.2,222.1 379.3,223.7 379.4,228.28 379.5,235.23 379.6,243.74 379.7,253.03 379.8,262.46 379.9,271.57 380,280.1 380.1,287.9 380.2,294.94 380.3,301.23 380.4,306.83 380.5,311.79 380.6,316.19 380.7,320.08 380.8,323.53 380.9,326.6 381,329.32 381.1,331.75 381.2,333.92 381.3,335.85 381.4,337.59 381.5,339.14 381.6,340.54 381.7,341.79 381.8,342.92 381.9,343.93 382,344.84 382.1,345.65 382.2,346.38 382.3,347.04 382.4,347.62 382.5,348.13 382.6,348.59 382.7,348.98 382.8,349.33 382.9,349.62 383,349.86 383.1,350.06 383.2,350.21 383.3,350.31 383.4,350.38 383.5,350.4 383.6,350.37 383.7,350.26 383.8,350.09 383.9,349.85 384,349.53 384.1,349.13 384.2,348.65 384.3,348.07 384.4,347.41 384.5,346.63 384.6,345.74 384.7,344.71 384.8,343.55 384.9,342.22 385,340.7 385.1,338.98 385.2,337.01 385.3,334.77 385.4,332.22 385.5,329.31 385.6,325.97 385.7,322.16 385.8,317.8 385.9,312.83 386,307.18 386.1,300.81 386.2,293.72 386.3,285.97 386.4,277.78 386.5,269.52 386.6,261.78 386.7,255.34 386.8,251.02 386.9,249.5 387,251.07 387.1,255.52 387.2,262.15 387.3,270.12 387.4,278.62 387.5,287.03 387.6,294.98 387.7,302.25 387.8,308.77 387.9,314.55 388,319.62 388.1,324.06 388.2,327.94 388.3,331.32 388.4,334.28 388.5,336.86 388.6,339.11 388.7,341.08 388.8,342.8 388.9,344.3 389,345.61 389.1,346.75 389.2,347.73 389.3,348.58 389.4,349.3 389.5,349.91 389.6,350.41 389.7,350.81 389.8,351.11 389.9,351.33 390,351.46 390.1,351.5 390.2,351.44 390.3,351.27 390.4,350.98 390.5,350.57 390.6,350.03 390.7,349.35 390.8,348.52 390.9,347.52 391,346.33 391.1,344.94 391.2,343.3 391.3,341.39 391.4,339.17 391.5,336.59 391.6,333.58 391.7,330.1 391.8,326.06 391.9,321.41 392,316.07 392.1,310.03 392.2,303.32 392.3,296.09 392.4,288.65 392.5,281.55 392.6,275.53 392.7,271.45 392.8,270 392.9,271.4 393,275.35 393.1,281.16 393.2,288.02 393.3,295.2 393.4,302.17 393.5,308.63 393.6,314.44 393.7,319.56 393.8,324.02 393.9,327.88 394,331.21 394.1,334.08 394.2,336.53 394.3,338.64 394.4,340.44 394.5,341.97 394.6,343.27 394.7,344.36 394.8,345.27 394.9,346.01 395,346.59 395.1,347.04 395.2,347.35 395.3,347.54 395.4,347.6 395.5,347.48 395.6,347.11 395.7,346.5 395.8,345.61 395.9,344.43 396,342.92 396.1,341.05 396.2,338.76 396.3,336 396.4,332.69 396.5,328.76 396.6,324.13 396.7,318.75 396.8,312.62 396.9,305.83 397,298.66 397.1,291.62 397.2,285.53 397.3,281.31 397.4,279.8 397.5,281.35 397.6,285.66 397.7,291.86 397.8,298.95 397.9,306.12 398,312.85 398.1,318.85 398.2,324.04 398.3,328.44 398.4,332.09 398.5,335.08 398.6,337.48 398.7,339.36 398.8,340.76 398.9,341.74 399,342.31 399.1,342.5 399.2,342.29 399.3,341.66 399.4,340.6 399.5,339.05 399.6,336.98 399.7,334.33 399.8,331.02 399.9,326.97 400,322.12 400.1,316.44 400.2,310 400.3,303.03 400.4,296.05 400.5,289.89 400.6,285.57 400.7,284 400.8,285.53 400.9,289.75 401,295.75 401.1,302.52 401.2,309.24 401.3,315.41 401.4,320.82 401.5,325.4 401.6,329.16 401.7,332.19 401.8,334.56 401.9,336.32 402,337.55 402.1,338.26 402.2,338.5 402.3,338.25 402.4,337.47 402.5,336.15 402.6,334.24 402.7,331.66 402.8,328.35 402.9,324.21 403,319.21 403.1,313.35 403.2,306.83 403.3,300.09 403.4,293.98 403.5,289.6 403.6,288 403.7,289.6 403.8,293.97 403.9,300.04 404,306.68 404.1,313.06 404.2,318.74 404.3,323.53 404.4,327.42 404.5,330.46 404.6,332.72 404.7,334.28 404.8,335.2 404.9,335.5 404.92,335.47 404.94,335.42 404.96,335.35 404.98,335.24 405,335.1 405.02,334.91 405.04,334.68 405.06,334.4 405.08,334.07 405.1,333.68 405.12,333.24 405.14,332.73 405.16,332.16 405.18,331.54 405.2,330.85 405.22,330.1 405.24,329.29 405.26,328.42 405.28,327.5 405.3,326.52 405.32,325.48 405.34,324.4 405.36,323.27 405.38,322.1 405.4,320.89 405.42,319.64 405.44,318.37 405.46,317.07 405.48,315.75 405.5,314.42 405.52,313.08 405.54,311.73 405.56,310.39 405.58,309.06 405.6,307.75 405.62,306.45 405.64,305.19 405.66,303.95 405.68,302.76 405.7,301.61 405.72,300.52 405.74,299.48 405.76,298.5 405.78,297.59 405.8,296.75 405.82,295.99 405.84,295.31 405.86,294.71 405.88,294.2 405.9,293.78 405.92,293.46 405.94,293.23 405.96,293.09 405.98,293.05 406,293.11 406.02,293.26 406.04,293.51 406.06,293.86 406.08,294.3 406.1,294.83 406.12,295.45 406.14,296.16 406.16,296.95 406.18,297.82 406.2,298.76 406.22,299.77 406.24,300.85 406.26,301.98 406.28,303.16 406.3,304.39 406.32,305.66 406.34,306.96 406.36,308.29 406.38,309.63 406.4,310.99 406.42,312.35 406.44,313.71 406.46,315.06 406.48,316.4 406.5,317.71 406.52,318.99 406.54,320.24 406.56,321.45 406.58,322.61 406.6,323.72 406.62,324.77 406.64,325.77 406.66,326.7 406.68,327.56 406.7,328.35 406.72,329.08 406.74,329.73 406.76,330.31 406.78,330.82 406.8,331.25 406.82,331.62 406.84,331.92 406.86,332.15 406.88,332.33 406.9,332.45 406.92,332.52 406.94,332.55 406.96,332.55 406.98,332.53 407,332.49 407.02,332.44 407.04,332.35 407.06,332.22 407.08,332.04 407.1,331.81 407.12,331.52 407.14,331.16 407.16,330.74 407.18,330.24 407.2,329.68 407.22,329.04 407.24,328.33 407.26,327.54 407.28,326.69 407.3,325.77 407.32,324.79 407.34,323.74 407.36,322.64 407.38,321.49 407.4,320.29 407.42,319.05 407.44,317.78 407.46,316.48 407.48,315.17 407.5,313.85 407.52,312.52 407.54,311.2 407.56,309.9 407.58,308.62 407.6,307.37 407.62,306.17 407.64,305.01 407.66,303.91 407.68,302.88 407.7,301.92 407.72,301.04 407.74,300.25 407.76,299.55 407.78,298.94 407.8,298.44 407.82,298.05 407.84,297.76 407.86,297.58 407.88,297.52 407.9,297.58 407.92,297.74 407.94,298.02 407.96,298.41 407.98,298.91 408,299.51 408.02,300.22 408.04,301.02 408.06,301.91 408.08,302.88 408.1,303.92 408.12,305.03 408.14,306.21 408.16,307.43 408.18,308.69 408.2,309.99 408.22,311.31 408.24,312.64 408.26,313.97 408.28,315.3 408.3,316.61 408.32,317.89 408.34,319.14 408.36,320.35 408.38,321.51 408.4,322.61 408.42,323.64 408.44,324.61 408.46,325.5 408.48,326.31 408.5,327.05 408.52,327.69 408.54,328.26 408.56,328.74 408.58,329.14 408.6,329.46 408.62,329.7 408.64,329.88 408.66,329.99 408.68,330.05 408.7,330.06 408.72,330.04 408.74,330.01 408.76,329.96 408.78,329.86 408.8,329.72 408.82,329.51 408.84,329.24 408.86,328.9 408.88,328.47 408.9,327.97 408.92,327.38 408.94,326.72 408.96,325.97 408.98,325.13 409,324.23 409.02,323.25 409.04,322.2 409.06,321.09 409.08,319.93 409.1,318.73 409.12,317.49 409.14,316.23 409.16,314.95 409.18,313.66 409.2,312.39 409.22,311.13 409.24,309.91 409.26,308.73 409.28,307.6 409.3,306.53 409.32,305.54 409.34,304.63 409.36,303.82 409.38,303.11 409.4,302.51 409.42,302.02 409.44,301.66 409.46,301.42 409.48,301.31 409.5,301.33 409.52,301.48 409.54,301.75 409.56,302.15 409.58,302.67 409.6,303.31 409.62,304.05 409.64,304.9 409.66,305.84 409.68,306.87 409.7,307.97 409.72,309.12 409.74,310.33 409.76,311.58 409.78,312.84 409.8,314.12 409.82,315.4 409.84,316.67 409.86,317.9 409.88,319.1 409.9,320.25 409.92,321.34 409.94,322.37 409.96,323.31 409.98,324.18 410,324.95 410.02,325.64 410.04,326.23 410.06,326.72 410.08,327.13 410.1,327.44 410.12,327.67 410.14,327.83 410.16,327.91 410.18,327.94 410.2,327.93 410.22,327.9 410.24,327.84 410.26,327.74 410.28,327.58 410.3,327.35 410.32,327.04 410.34,326.64 410.36,326.16 410.38,325.58 410.4,324.91 410.42,324.16 410.44,323.31 410.46,322.39 410.48,321.39 410.5,320.33 410.52,319.21 410.54,318.04 410.56,316.85 410.58,315.64 410.6,314.42 410.62,313.22 410.64,312.04 410.66,310.9 410.68,309.82 410.7,308.8 410.72,307.87 410.74,307.03 410.76,306.3 410.78,305.69 410.8,305.2 410.82,304.84 410.84,304.62 410.86,304.54 410.88,304.6 410.9,304.8 410.92,305.14 410.94,305.61 410.96,306.21 410.98,306.93 411,307.76 411.02,308.69 411.04,309.7 411.06,310.78 411.08,311.91 411.1,313.08 411.12,314.28 411.14,315.48 411.16,316.68 411.18,317.84 411.2,318.97 411.22,320.05 411.24,321.06 411.26,321.99 411.28,322.83 411.3,323.58 411.32,324.23 411.34,324.78 411.36,325.23 411.38,325.58 411.4,325.83 411.42,326 411.44,326.09 411.46,326.11 411.48,326.1 411.5,326.06 411.52,325.99 411.54,325.87 411.56,325.67 411.58,325.39 411.6,325.02 411.62,324.55 411.64,323.98 411.66,323.32 411.68,322.56 411.7,321.71 411.72,320.79 411.74,319.8 411.76,318.75 411.78,317.66 411.8,316.54 411.82,315.42 411.84,314.3 411.86,313.22 411.88,312.17 411.9,311.2 411.92,310.3 411.94,309.49 411.96,308.8 411.98,308.23 412,307.79 412.02,307.5 412.04,307.35 412.06,307.35 412.08,307.5 412.1,307.8 412.12,308.23 412.14,308.81 412.16,309.5 412.18,310.3 412.2,311.2 412.22,312.18 412.24,313.21 412.26,314.29 412.28,315.39 412.3,316.48 412.32,317.57 412.34,318.61 412.36,319.6 412.38,320.53 412.4,321.37 412.42,322.12 412.44,322.77 412.46,323.31 412.48,323.75 412.5,324.08 412.52,324.31 412.54,324.46 412.56,324.52 412.58,324.53 412.6,324.5 412.62,324.45 412.64,324.34 412.66,324.16 412.68,323.89 412.7,323.53 412.72,323.07 412.74,322.51 412.76,321.86 412.78,321.11 412.8,320.28 412.82,319.38 412.84,318.42 412.86,317.43 412.88,316.43 412.9,315.42 412.92,314.45 412.94,313.51 412.96,312.65 412.98,311.87 413,311.19 413.02,310.63 413.04,310.2 413.06,309.92 413.08,309.78 413.1,309.8 413.12,309.97 413.14,310.28 413.16,310.74 413.18,311.32 413.2,312.02 413.22,312.81 413.24,313.68 413.26,314.61 413.28,315.57 413.3,316.54 413.32,317.51 413.34,318.44 413.36,319.32 413.38,320.13 413.4,320.86 413.42,321.49 413.44,322.02 413.46,322.44 413.48,322.75 413.5,322.97 413.52,323.09 413.54,323.14 413.56,323.13 413.58,323.09 413.6,323.02 413.62,322.89 413.64,322.67 413.66,322.36 413.68,321.95 413.7,321.45 413.72,320.85 413.74,320.17 413.76,319.41 413.78,318.6 413.8,317.75 413.82,316.88 413.84,316.02 413.86,315.19 413.88,314.42 413.9,313.71 413.92,313.11 413.94,312.61 413.96,312.24 413.98,312.01 414,311.92 414.02,311.98 414.04,312.19 414.06,312.53 414.08,313 414.1,313.58 414.12,314.25 414.14,315 414.16,315.79 414.18,316.61 414.2,317.43 414.22,318.23 414.24,318.98 414.26,319.67 414.28,320.27 414.3,320.79 414.32,321.2 414.34,321.52 414.36,321.73 414.38,321.86 414.4,321.91 414.42,321.9 414.44,321.87 414.46,321.8 414.48,321.66 414.5,321.45 414.52,321.15 414.54,320.76 414.56,320.29 414.58,319.73 414.6,319.12 414.62,318.45 414.64,317.76 414.66,317.06 414.68,316.37 414.7,315.73 414.72,315.16 414.74,314.66 414.76,314.28 414.78,314 414.8,313.86 414.82,313.84 414.84,313.96 414.86,314.2 414.88,314.55 414.9,315.01 414.92,315.54 414.94,316.14 414.96,316.77 414.98,317.42 415,318.06 415.02,318.66 415.04,319.21 415.06,319.68 415.08,320.08 415.1,320.39 415.12,320.61 415.14,320.75 415.16,320.81 415.18,320.81 415.2,320.78 415.22,320.73 415.24,320.63 415.26,320.46 415.28,320.22 415.3,319.91 415.32,319.53 415.34,319.09 415.36,318.61 415.38,318.1 415.4,317.59 415.42,317.1 415.44,316.65 415.46,316.25 415.48,315.93 415.5,315.7 415.52,315.57 415.54,315.54 415.56,315.61 415.58,315.79 415.6,316.05 415.62,316.39 415.64,316.78 415.66,317.21 415.68,317.66 415.7,318.1 415.72,318.51 415.74,318.89 415.76,319.21 415.78,319.46 415.8,319.65 415.82,319.77 415.84,319.83 415.86,319.84 415.88,319.81 415.9,319.78 415.92,319.71 415.94,319.59 415.96,319.43 415.98,319.23 416,318.98 416.02,318.7 416.04,318.41 416.06,318.11 416.08,317.82 416.1,317.57 416.12,317.35 416.14,317.19 416.16,317.1 416.18,317.06 416.2,317.09 416.22,317.18 416.24,317.32 416.26,317.5 416.28,317.71 416.3,317.93 416.32,318.16 416.34,318.37 416.36,318.56 416.38,318.71 416.4,318.83 416.42,318.91 416.44,318.95 416.46,318.97 416.48,318.95 416.5,318.93 416.52,318.9 416.54,318.85 416.56,318.79 416.58,318.72 416.6,318.64 416.62,318.56 416.64,318.49 416.66,318.43 416.68,318.39 416.7,318.36 416.72,318.36 416.74,318.38 416.76,318.41 416.78,318.45 416.8,318.5 416.8,318.5 416.9,318.66 417,318.81 417.1,318.96 417.2,319.1 417.3,319.24 417.4,319.38 417.5,319.52 417.6,319.67 417.7,319.82 417.8,319.98 417.9,320.16 418,320.34 418.1,320.54 418.2,320.76 418.3,321 418.4,321.27 418.5,321.59 418.6,321.96 418.7,322.37 418.8,322.81 418.9,323.29 419,323.81 419.1,324.35 419.2,324.92 419.3,325.51 419.4,326.13 419.5,326.77 419.6,327.42 419.7,328.08 419.8,328.75 419.9,329.43 420,330.12 420.1,330.8 420.2,331.49 420.3,332.17 420.4,332.84 420.5,333.5 420.6,334.2 420.7,334.98 420.8,335.82 420.9,336.71 421,337.63 421.1,338.57 421.2,339.5 421.3,340.41 421.4,341.28 421.5,342.11 421.6,342.87 421.7,343.54 421.8,344.12 421.9,344.57 422,344.9 422.1,345.14 422.2,345.34 422.3,345.52 422.4,345.67 422.5,345.82 422.6,345.95 422.7,346.08 422.8,346.21 422.9,346.35 423,346.5 423.05,346.49 423.1,346.48 423.15,346.45 423.2,346.42 423.25,346.37 423.3,346.32 423.35,346.25 423.4,346.17 423.45,346.09 423.5,345.99 423.55,345.88 423.6,345.76 423.65,345.63 423.7,345.49 423.75,345.33 423.8,345.17 423.85,344.99 423.9,344.8 423.95,344.6 424,344.39 424.05,344.16 424.1,343.92 424.15,343.67 424.2,343.4 424.25,343.12 424.3,342.82 424.35,342.51 424.4,342.19 424.45,341.84 424.5,341.49 424.55,341.11 424.6,340.72 424.65,340.3 424.7,339.87 424.75,339.43 424.8,338.96 424.85,338.46 424.9,337.95 424.95,337.42 425,336.86 425.05,336.28 425.1,335.67 425.15,335.03 425.2,334.37 425.25,333.68 425.3,332.96 425.35,332.21 425.4,331.42 425.45,330.6 425.5,329.75 425.55,328.86 425.6,327.93 425.65,326.95 425.7,325.94 425.75,324.87 425.8,323.76 425.85,322.6 425.9,321.39 425.95,320.12 426,318.8 426.05,317.41 426.1,315.96 426.15,314.44 426.2,312.85 426.25,311.18 426.3,309.43 426.35,307.6 426.4,305.68 426.45,303.67 426.5,301.56 426.55,299.34 426.6,297.02 426.65,294.58 426.7,292.02 426.75,289.33 426.8,286.51 426.85,283.56 426.9,280.45 426.95,277.19 427,273.78 427.05,270.2 427.1,266.45 427.15,262.52 427.2,258.42 427.25,254.13 427.3,249.66 427.35,245.01 427.4,240.18 427.45,235.17 427.5,230.01 427.55,224.69 427.6,219.24 427.65,213.69 427.7,208.06 427.75,202.39 427.8,196.72 427.85,191.12 427.9,185.64 427.95,180.34 428,175.31 428.05,170.61 428.1,166.32 428.15,162.53 428.2,159.31 428.25,156.73 428.3,154.84 428.35,153.69 428.4,153.3 428.45,153.7 428.5,154.87 428.55,156.8 428.6,159.44 428.65,162.73 428.7,166.6 428.75,170.98 428.8,175.78 428.85,180.92 428.9,186.33 428.95,191.94 429,197.66 429.05,203.45 429.1,209.24 429.15,215 429.2,220.67 429.25,226.24 429.3,231.68 429.35,236.96 429.4,242.08 429.45,247.02 429.5,251.78 429.55,256.35 429.6,260.73 429.65,264.93 429.7,268.95 429.75,272.79 429.8,276.45 429.85,279.94 429.9,283.28 429.95,286.46 430,289.49 430.05,292.37 430.1,295.12 430.15,297.74 430.2,300.24 430.25,302.62 430.3,304.89 430.35,307.05 430.4,309.11 430.45,311.08 430.5,312.96 430.55,314.75 430.6,316.46 430.65,318.09 430.7,319.65 430.75,321.14 430.8,322.56 430.85,323.92 430.9,325.23 430.95,326.47 431,327.66 431.05,328.8 431.1,329.89 431.15,330.94 431.2,331.94 431.25,332.9 431.3,333.81 431.35,334.69 431.4,335.54 431.45,336.35 431.5,337.12 431.55,337.87 431.6,338.58 431.65,339.26 431.7,339.92 431.75,340.55 431.8,341.15 431.85,341.73 431.9,342.28 431.95,342.81 432,343.32 432.05,343.81 432.1,344.28 432.15,344.72 432.2,345.15 432.25,345.56 432.3,345.96 432.35,346.33 432.4,346.69 432.45,347.04 432.5,347.36 432.55,347.67 432.6,347.97 432.65,348.26 432.7,348.53 432.75,348.78 432.8,349.02 432.85,349.25 432.9,349.47 432.95,349.68 433,349.87 433.05,350.05 433.1,350.22 433.15,350.38 433.2,350.53 433.25,350.66 433.3,350.79 433.35,350.9 433.4,351.01 433.45,351.1 433.5,351.19 433.55,351.26 433.6,351.32 433.65,351.38 433.7,351.42 433.75,351.46 433.8,351.48 433.85,351.5 433.9,351.5 434,351.35 434.1,351.21 434.2,351.08 434.3,350.95 434.4,350.82 434.5,350.68 434.6,350.52 434.7,350.34 434.8,350.14 434.9,349.9 435,349.57 435.1,349.09 435.2,348.49 435.3,347.78 435.4,346.97 435.5,346.08 435.6,345.13 435.7,344.14 435.8,343.12 435.9,342.08 436,341.05 436.1,340.03 436.2,339.06 436.3,338.13 436.4,337.27 436.5,336.5 436.6,335.77 436.7,335.02 436.8,334.26 436.9,333.5 437,332.74 437.1,331.97 437.2,331.21 437.3,330.45 437.4,329.7 437.5,328.97 437.6,328.25 437.7,327.54 437.8,326.87 437.9,326.21 438,325.59 438.1,324.99 438.2,324.44 438.3,323.92 438.4,323.44 438.5,323 438.6,322.62 438.7,322.28 438.8,322 438.9,321.76 439,321.54 439.1,321.33 439.2,321.15 439.3,320.97 439.4,320.81 439.5,320.66 439.6,320.52 439.7,320.38 439.8,320.24 439.9,320.1 440,319.96 440.1,319.81 440.2,319.66 440.3,319.5 440.3,319.5 440.32,319.52 440.34,319.55 440.36,319.56 440.38,319.57 440.4,319.57 440.42,319.54 440.44,319.5 440.46,319.44 440.48,319.37 440.5,319.27 440.52,319.17 440.54,319.07 440.56,318.98 440.58,318.89 440.6,318.83 440.62,318.79 440.64,318.79 440.66,318.82 440.68,318.88 440.7,318.97 440.72,319.1 440.74,319.24 440.76,319.4 440.78,319.56 440.8,319.72 440.82,319.87 440.84,320 440.86,320.1 440.88,320.18 440.9,320.23 440.92,320.27 440.94,320.29 440.96,320.3 440.98,320.27 441,320.21 441.02,320.1 441.04,319.95 441.06,319.75 441.08,319.52 441.1,319.24 441.12,318.95 441.14,318.64 441.16,318.34 441.18,318.06 441.2,317.8 441.22,317.59 441.24,317.44 441.26,317.35 441.28,317.33 441.3,317.39 441.32,317.52 441.34,317.71 441.36,317.97 441.38,318.27 441.4,318.61 441.42,318.97 441.44,319.33 441.46,319.69 441.48,320.03 441.5,320.33 441.52,320.58 441.54,320.79 441.56,320.94 441.58,321.04 441.6,321.1 441.62,321.13 441.64,321.15 441.66,321.13 441.68,321.07 441.7,320.94 441.72,320.75 441.74,320.49 441.76,320.16 441.78,319.77 441.8,319.34 441.82,318.87 441.84,318.37 441.86,317.87 441.88,317.39 441.9,316.94 441.92,316.53 441.94,316.19 441.96,315.94 441.98,315.77 442,315.7 442.02,315.73 442.04,315.86 442.06,316.09 442.08,316.41 442.1,316.8 442.12,317.26 442.14,317.77 442.16,318.31 442.18,318.86 442.2,319.4 442.22,319.92 442.24,320.41 442.26,320.84 442.28,321.21 442.3,321.51 442.32,321.75 442.34,321.91 442.36,322.02 442.38,322.07 442.4,322.1 442.42,322.11 442.44,322.07 442.46,321.97 442.48,321.8 442.5,321.54 442.52,321.21 442.54,320.8 442.56,320.31 442.58,319.75 442.6,319.15 442.62,318.5 442.64,317.83 442.66,317.16 442.68,316.51 442.7,315.89 442.72,315.33 442.74,314.84 442.76,314.44 442.78,314.13 442.8,313.94 442.82,313.86 442.84,313.9 442.86,314.06 442.88,314.33 442.9,314.71 442.92,315.19 442.94,315.74 442.96,316.36 442.98,317.03 443,317.73 443.02,318.45 443.04,319.15 443.06,319.83 443.08,320.47 443.1,321.06 443.12,321.58 443.14,322.03 443.16,322.4 443.18,322.69 443.2,322.9 443.22,323.04 443.24,323.12 443.26,323.16 443.28,323.18 443.3,323.17 443.32,323.1 443.34,322.96 443.36,322.74 443.38,322.44 443.4,322.04 443.42,321.56 443.44,321 443.46,320.36 443.48,319.65 443.5,318.89 443.52,318.09 443.54,317.28 443.56,316.46 443.58,315.66 443.6,314.89 443.62,314.18 443.64,313.53 443.66,312.97 443.68,312.5 443.7,312.15 443.72,311.91 443.74,311.8 443.76,311.81 443.78,311.95 443.8,312.22 443.82,312.6 443.84,313.09 443.86,313.67 443.88,314.34 443.9,315.08 443.92,315.88 443.94,316.71 443.96,317.56 443.98,318.41 444,319.24 444.02,320.04 444.04,320.8 444.06,321.5 444.08,322.13 444.1,322.69 444.12,323.16 444.14,323.55 444.16,323.86 444.18,324.08 444.2,324.24 444.22,324.33 444.24,324.38 444.26,324.4 444.28,324.4 444.3,324.35 444.32,324.24 444.34,324.05 444.36,323.77 444.38,323.41 444.4,322.96 444.42,322.42 444.44,321.79 444.46,321.09 444.48,320.31 444.5,319.47 444.52,318.58 444.54,317.66 444.56,316.72 444.58,315.78 444.6,314.85 444.62,313.94 444.64,313.09 444.66,312.29 444.68,311.57 444.7,310.94 444.72,310.41 444.74,309.98 444.76,309.68 444.78,309.5 444.8,309.44 444.82,309.51 444.84,309.71 444.86,310.02 444.88,310.46 444.9,311 444.92,311.65 444.94,312.38 444.96,313.18 444.98,314.05 445,314.97 445.02,315.91 445.04,316.88 445.06,317.84 445.08,318.79 445.1,319.72 445.12,320.61 445.14,321.44 445.16,322.21 445.18,322.92 445.2,323.55 445.22,324.09 445.24,324.56 445.26,324.94 445.28,325.24 445.3,325.46 445.32,325.61 445.34,325.71 445.36,325.76 445.38,325.79 445.4,325.8 445.42,325.76 445.44,325.68 445.46,325.52 445.48,325.29 445.5,324.98 445.52,324.58 445.54,324.09 445.56,323.52 445.58,322.86 445.6,322.12 445.62,321.31 445.64,320.43 445.66,319.5 445.68,318.52 445.7,317.5 445.72,316.46 445.74,315.42 445.76,314.38 445.78,313.35 445.8,312.36 445.82,311.42 445.84,310.53 445.86,309.71 445.88,308.98 445.9,308.33 445.92,307.79 445.94,307.35 445.96,307.03 445.98,306.83 446,306.74 446.02,306.78 446.04,306.94 446.06,307.22 446.08,307.61 446.1,308.12 446.12,308.72 446.14,309.42 446.16,310.2 446.18,311.06 446.2,311.98 446.22,312.96 446.24,313.97 446.26,315.01 446.28,316.07 446.3,317.13 446.32,318.18 446.34,319.2 446.36,320.2 446.38,321.15 446.4,322.05 446.42,322.89 446.44,323.66 446.46,324.36 446.48,324.99 446.5,325.54 446.52,326.01 446.54,326.4 446.56,326.72 446.58,326.96 446.6,327.14 446.62,327.26 446.64,327.33 446.66,327.37 446.68,327.4 446.7,327.4 446.72,327.36 446.74,327.27 446.76,327.12 446.78,326.9 446.8,326.61 446.82,326.24 446.84,325.79 446.86,325.26 446.88,324.65 446.9,323.95 446.92,323.19 446.94,322.35 446.96,321.44 446.98,320.48 447,319.47 447.02,318.41 447.04,317.33 447.06,316.21 447.08,315.09 447.1,313.97 447.12,312.85 447.14,311.76 447.16,310.69 447.18,309.67 447.2,308.7 447.22,307.79 447.24,306.95 447.26,306.19 447.28,305.52 447.3,304.95 447.32,304.47 447.34,304.09 447.36,303.83 447.38,303.67 447.4,303.62 447.42,303.69 447.44,303.87 447.46,304.15 447.48,304.55 447.5,305.04 447.52,305.63 447.54,306.31 447.56,307.08 447.58,307.92 447.6,308.83 447.62,309.8 447.64,310.82 447.66,311.89 447.68,312.98 447.7,314.09 447.72,315.22 447.74,316.34 447.76,317.46 447.78,318.56 447.8,319.64 447.82,320.68 447.84,321.68 447.86,322.64 447.88,323.53 447.9,324.37 447.92,325.15 447.94,325.85 447.96,326.49 447.98,327.05 448,327.54 448.02,327.97 448.04,328.32 448.06,328.6 448.08,328.83 448.1,329 448.12,329.11 448.14,329.19 448.16,329.23 448.18,329.26 448.2,329.27 448.22,329.25 448.24,329.19 448.26,329.09 448.28,328.93 448.3,328.71 448.32,328.42 448.34,328.06 448.36,327.64 448.38,327.14 448.4,326.56 448.42,325.92 448.44,325.2 448.46,324.42 448.48,323.57 448.5,322.66 448.52,321.69 448.54,320.67 448.56,319.61 448.58,318.5 448.6,317.37 448.62,316.22 448.64,315.04 448.66,313.86 448.68,312.68 448.7,311.51 448.72,310.36 448.74,309.23 448.76,308.14 448.78,307.08 448.8,306.08 448.82,305.13 448.84,304.25 448.86,303.43 448.88,302.69 448.9,302.03 448.92,301.46 448.94,300.97 448.96,300.58 448.98,300.28 449,300.08 449.02,299.98 449.04,299.98 449.06,300.08 449.08,300.28 449.1,300.57 449.12,300.96 449.14,301.44 449.16,302 449.18,302.65 449.2,303.38 449.22,304.18 449.24,305.05 449.26,305.98 449.28,306.97 449.3,308 449.32,309.08 449.34,310.19 449.36,311.32 449.38,312.48 449.4,313.65 449.42,314.82 449.44,315.99 449.46,317.15 449.48,318.29 449.5,319.42 449.52,320.51 449.54,321.57 449.56,322.59 449.58,323.56 449.6,324.49 449.62,325.36 449.64,326.17 449.66,326.93 449.68,327.62 449.7,328.26 449.72,328.83 449.74,329.34 449.76,329.78 449.78,330.17 449.8,330.49 449.82,330.76 449.84,330.97 449.86,331.14 449.88,331.26 449.9,331.35 449.92,331.4 449.94,331.44 449.96,331.46 449.98,331.47 450,331.45 450.02,331.4 450.04,331.3 450.06,331.16 450.08,330.97 450.1,330.73 450.12,330.43 450.14,330.07 450.16,329.65 450.18,329.16 450.2,328.61 450.22,328 450.24,327.33 450.26,326.59 450.28,325.8 450.3,324.94 450.32,324.04 450.34,323.08 450.36,322.08 450.38,321.03 450.4,319.94 450.42,318.82 450.44,317.67 450.46,316.49 450.48,315.3 450.5,314.1 450.52,312.88 450.54,311.67 450.56,310.47 450.58,309.27 450.6,308.09 450.62,306.94 450.64,305.81 450.66,304.72 450.68,303.67 450.7,302.66 450.72,301.71 450.74,300.81 450.76,299.97 450.78,299.2"/>
<polyline fill="none" stroke="#14693f" stroke-width="1.8" stroke-linejoin="round" stroke-linecap="butt"  points="108,380.2 108.25,380.12 108.5,380.04 108.75,379.97 109,379.89 109.25,379.82 109.5,379.75 109.75,379.67 110,379.6 110.25,379.52 110.5,379.45 110.75,379.37 111,379.3 111.25,379.22 111.5,379.14 111.75,379.06 112,378.97 112.25,378.88 112.5,378.79 112.75,378.7 113,378.6 113.25,378.5 113.5,378.4 113.75,378.31 114,378.21 114.25,378.11 114.5,378.01 114.75,377.91 115,377.8 115.25,377.68 115.5,377.56 115.75,377.43 116,377.29 116.25,377.13 116.5,376.97 116.75,376.79 117,376.6 117.25,376.39 117.5,376.15 117.75,375.88 118,375.6 118.25,375.31 118.5,375 118.75,374.69 119,374.37 119.25,374.05 119.5,373.74 119.75,373.43 120,373.14 120.25,372.86 120.5,372.6 120.75,372.34 121,372.07 121.25,371.79 121.5,371.51 121.75,371.23 122,370.98 122.25,370.74 122.5,370.53 122.75,370.35 123,370.22 123.25,370.13 123.5,370.1 123.75,370.13 124,370.21 124.25,370.35 124.5,370.52 124.75,370.73 125,370.96 125.25,371.22 125.5,371.49 125.75,371.77 126,372.06 126.25,372.33 126.5,372.6 126.75,372.87 127,373.15 127.25,373.46 127.5,373.77 127.75,374.09 128,374.42 128.25,374.74 128.5,375.07 128.75,375.39 129,375.7 129.25,376 129.5,376.29 129.75,376.55 130,376.8 130.25,377.03 130.5,377.25 130.75,377.47 131,377.68 131.25,377.88 131.5,378.07 131.75,378.26 132,378.44 132.25,378.61 132.5,378.78 132.75,378.94 133,379.08 133.25,379.23 133.5,379.36 133.75,379.48 134,379.6 134.25,379.71 134.5,379.82 134.75,379.92 135,380.02 135.25,380.11 135.5,380.2 135.75,380.29 136,380.37 136.25,380.45 136.5,380.53 136.75,380.6 137,380.68 137.25,380.74 137.5,380.81 137.75,380.87 138,380.93 138.25,380.98 138.5,381.03 138.75,381.08 139,381.13 139.25,381.18 139.5,381.22 139.75,381.26 140,381.3 140.25,381.34 140.5,381.37 140.75,381.41 141,381.44 141.25,381.47 141.5,381.5 141.75,381.53 142,381.56 142.25,381.59 142.5,381.61 142.75,381.64 143,381.66 143.25,381.69 143.5,381.71 143.75,381.73 144,381.75 144.25,381.77 144.5,381.79 144.75,381.8 145,381.82 145.25,381.83 145.5,381.85 145.75,381.86 146,381.88 146.25,381.89 146.5,381.9 146.75,381.91 147,381.92 147.25,381.93 147.5,381.94 147.75,381.95 148,381.96 148.25,381.96 148.5,381.97 148.75,381.98 149,381.98 149.25,381.99 149.5,381.99 149.75,382 150,382 150.25,382 150.5,382.01 150.75,382.01 151,382.01 151.25,382.01 151.5,382.01 151.75,382.01 152,382.01 152.25,382.01 152.5,382.01 152.75,382.01 153,382 153.25,382 153.5,381.99 153.75,381.99 154,381.98 154.25,381.98 154.5,381.97 154.75,381.96 155,381.95 155.25,381.94 155.5,381.93 155.75,381.92 156,381.91 156.25,381.9 156.5,381.88 156.75,381.87 157,381.85 157.25,381.84 157.5,381.82 157.75,381.8 158,381.78 158.25,381.76 158.5,381.74 158.75,381.72 159,381.7 159.25,381.68 159.5,381.65 159.75,381.63 160,381.6 160.25,381.57 160.5,381.54 160.75,381.51 161,381.48 161.25,381.44 161.5,381.4 161.75,381.36 162,381.31 162.25,381.26 162.5,381.21 162.75,381.15 163,381.09 163.25,381.02 163.5,380.95 163.75,380.88 164,380.79 164.25,380.7 164.5,380.61 164.75,380.51 165,380.4 165.25,380.28 165.5,380.15 165.75,380.01 166,379.86 166.25,379.69 166.5,379.52 166.75,379.35 167,379.16 167.25,378.97 167.5,378.78 167.75,378.58 168,378.39 168.25,378.19 168.5,377.99 168.75,377.79 169,377.6 169.25,377.4 169.5,377.18 169.75,376.95 170,376.71 170.25,376.47 170.5,376.24 170.75,376.01 171,375.79 171.25,375.58 171.5,375.4 171.75,375.23 172,375.07 172.25,374.91 172.5,374.78 172.75,374.66 173,374.58 173.25,374.52 173.5,374.5 173.75,374.52 174,374.57 174.25,374.66 174.5,374.77 174.75,374.9 175,375.05 175.25,375.22 175.5,375.4 175.75,375.6 176,375.82 176.25,376.06 176.5,376.32 176.75,376.58 177,376.85 177.25,377.11 177.5,377.36 177.75,377.59 178,377.8 178.25,378 178.5,378.19 178.75,378.39 179,378.59 179.25,378.78 179.5,378.97 179.75,379.16 180,379.34 180.25,379.52 180.5,379.69 180.75,379.85 181,380 181.25,380.14 181.5,380.27 181.75,380.39 182,380.5 182.25,380.6 182.5,380.69 182.75,380.78 183,380.86 183.25,380.94 183.5,381.01 183.75,381.08 184,381.15 184.25,381.21 184.5,381.27 184.75,381.32 185,381.38 185.25,381.42 185.5,381.47 185.75,381.51 186,381.55 186.25,381.59 186.5,381.62 186.75,381.66 187,381.69 187.25,381.72 187.5,381.75 187.75,381.77 188,381.8 188.25,381.82 188.5,381.85 188.75,381.87 189,381.89 189.25,381.91 189.5,381.93 189.75,381.95 190,381.97 190.25,381.99 190.5,382.01 190.75,382.02 191,382.04 191.25,382.05 191.5,382.07 191.75,382.08 192,382.09 192.25,382.1 192.5,382.12 192.75,382.13 193,382.14 193.25,382.15 193.5,382.16 193.75,382.17 194,382.18 194.25,382.18 194.5,382.19 194.75,382.2 195,382.21 195.25,382.21 195.5,382.22 195.75,382.22 196,382.23 196.25,382.24 196.5,382.24 196.75,382.25 197,382.25 197.25,382.25 197.5,382.26 197.75,382.26 198,382.27 198.25,382.27 198.5,382.28 198.75,382.28 199,382.28 199.25,382.29 199.5,382.29 199.75,382.3 200,382.3 200.25,382.3 200.5,382.31 200.75,382.31 201,382.32 201.25,382.32 201.5,382.32 201.75,382.33 202,382.33 202.25,382.33 202.5,382.34 202.75,382.34 203,382.34 203.25,382.35 203.5,382.35 203.75,382.35 204,382.35 204.25,382.36 204.5,382.36 204.75,382.36 205,382.37 205.25,382.37 205.5,382.37 205.75,382.37 206,382.37 206.25,382.38 206.5,382.38 206.75,382.38 207,382.38 207.25,382.38 207.5,382.39 207.75,382.39 208,382.39 208.25,382.39 208.5,382.39 208.75,382.39 209,382.39 209.25,382.4 209.5,382.4 209.75,382.4 210,382.4 210.25,382.4 210.5,382.4 210.75,382.4 211,382.4 211.25,382.4 211.5,382.4 211.75,382.41 212,382.41 212.25,382.41 212.5,382.41 212.75,382.41 213,382.41 213.25,382.41 213.5,382.41 213.75,382.41 214,382.41 214.25,382.41 214.5,382.41 214.75,382.41 215,382.41 215.25,382.41 215.5,382.41 215.75,382.41 216,382.41 216.25,382.41 216.5,382.41 216.75,382.41 217,382.41 217.25,382.41 217.5,382.41 217.75,382.41 218,382.41 218.25,382.41 218.5,382.41 218.75,382.41 219,382.41 219.25,382.41 219.5,382.41 219.75,382.41 220,382.41 220.25,382.41 220.5,382.41 220.75,382.41 221,382.41 221.25,382.41 221.5,382.4 221.75,382.4 222,382.4 222.25,382.4 222.5,382.4 222.75,382.4 223,382.4 223.25,382.4 223.5,382.4 223.75,382.4 224,382.4 224.25,382.4 224.5,382.4 224.75,382.4 225,382.4 225.25,382.4 225.5,382.4 225.75,382.4 226,382.4 226.25,382.4 226.5,382.4 226.75,382.39 227,382.39 227.25,382.39 227.5,382.39 227.75,382.39 228,382.39 228.25,382.39 228.5,382.39 228.75,382.39 229,382.39 229.25,382.39 229.5,382.39 229.75,382.39 230,382.39 230.25,382.39 230.5,382.39 230.75,382.39 231,382.39 231.25,382.39 231.5,382.38 231.75,382.38 232,382.38 232.25,382.38 232.5,382.38 232.75,382.38 233,382.38 233.25,382.38 233.5,382.38 233.75,382.38 234,382.38 234.25,382.38 234.5,382.37 234.75,382.37 235,382.37 235.25,382.37 235.5,382.37 235.75,382.37 236,382.37 236.25,382.37 236.5,382.36 236.75,382.36 237,382.36 237.25,382.36 237.5,382.36 237.75,382.36 238,382.36 238.25,382.35 238.5,382.35 238.75,382.35 239,382.35 239.25,382.35 239.5,382.35 239.75,382.34 240,382.34 240.25,382.34 240.5,382.34 240.75,382.33 241,382.33 241.25,382.33 241.5,382.33 241.75,382.33 242,382.32 242.25,382.32 242.5,382.32 242.75,382.31 243,382.31 243.25,382.31 243.5,382.31 243.75,382.3 244,382.3 244.25,382.3 244.5,382.29 244.75,382.29 245,382.29 245.25,382.28 245.5,382.28 245.75,382.28 246,382.27 246.25,382.27 246.5,382.26 246.75,382.26 247,382.26 247.25,382.25 247.5,382.25 247.75,382.24 248,382.24 248.25,382.23 248.5,382.23 248.75,382.23 249,382.22 249.25,382.22 249.5,382.21 249.75,382.21 250,382.2 250.25,382.19 250.5,382.19 250.75,382.18 251,382.18 251.25,382.17 251.5,382.17 251.75,382.16 252,382.16 252.25,382.15 252.5,382.15 252.75,382.14 253,382.13 253.25,382.13 253.5,382.12 253.75,382.11 254,382.11 254.25,382.1 254.5,382.09 254.75,382.08 255,382.07 255.25,382.06 255.5,382.06 255.75,382.05 256,382.04 256.25,382.02 256.5,382.01 256.75,382 257,381.99 257.25,381.98 257.5,381.96 257.75,381.95 258,381.93 258.25,381.92 258.5,381.9 258.75,381.89 259,381.87 259.25,381.85 259.5,381.83 259.75,381.81 260,381.79 260.25,381.77 260.5,381.75 260.75,381.73 261,381.7 261.25,381.68 261.5,381.65 261.75,381.63 262,381.6 262.25,381.57 262.5,381.54 262.75,381.51 263,381.47 263.25,381.43 263.5,381.39 263.75,381.34 264,381.3 264.25,381.25 264.5,381.2 264.75,381.14 265,381.09 265.25,381.03 265.5,380.97 265.75,380.9 266,380.83 266.25,380.76 266.5,380.69 266.75,380.62 267,380.54 267.25,380.46 267.5,380.37 267.75,380.29 268,380.2 268.25,380.11 268.5,380 268.75,379.89 269,379.77 269.25,379.65 269.5,379.52 269.75,379.38 270,379.24 270.25,379.09 270.5,378.94 270.75,378.79 271,378.64 271.25,378.48 271.5,378.32 271.75,378.16 272,378 272.25,377.83 272.5,377.66 272.75,377.47 273,377.28 273.25,377.08 273.5,376.88 273.75,376.68 274,376.48 274.25,376.28 274.5,376.09 274.75,375.9 275,375.72 275.25,375.56 275.5,375.4 275.75,375.25 276,375.11 276.25,374.98 276.5,374.86 276.75,374.75 277,374.66 277.25,374.59 277.5,374.53 277.75,374.5 278,374.5 278.25,374.52 278.5,374.57 278.75,374.64 279,374.72 279.25,374.83 279.5,374.94 279.75,375.08 280,375.22 280.25,375.37 280.5,375.53 280.75,375.71 281,375.9 281.25,376.1 281.5,376.31 281.75,376.52 282,376.74 282.25,376.96 282.5,377.18 282.75,377.39 283,377.6 283.25,377.81 283.5,378 283.75,378.19 284,378.38 284.25,378.58 284.5,378.77 284.75,378.97 285,379.16 285.25,379.35 285.5,379.53 285.75,379.71 286,379.87 286.25,380.03 286.5,380.17 286.75,380.29 287,380.4 287.25,380.5 287.5,380.59 287.75,380.68 288,380.77 288.25,380.85 288.5,380.93 288.75,381 289,381.07 289.25,381.14 289.5,381.21 289.75,381.27 290,381.32 290.25,381.38 290.5,381.43 290.75,381.48 291,381.53 291.25,381.57 291.5,381.61 291.75,381.65 292,381.68 292.25,381.72 292.5,381.75 292.75,381.77 293,381.8 293.25,381.82 293.5,381.85 293.75,381.87 294,381.89 294.25,381.91 294.5,381.93 294.75,381.95 295,381.96 295.25,381.98 295.5,381.99 295.75,382 296,382.02 296.25,382.03 296.5,382.04 296.75,382.05 297,382.05 297.25,382.06 297.5,382.07 297.75,382.07 298,382.08 298.25,382.08 298.5,382.08 298.75,382.09 299,382.09 299.25,382.09 299.5,382.09 299.75,382.08 300,382.08 300.25,382.08 300.5,382.07 300.75,382.07 301,382.07 301.25,382.06 301.5,382.05 301.75,382.05 302,382.04 302.25,382.03 302.5,382.02 302.75,382.01 303,382 303.25,381.99 303.5,381.98 303.75,381.97 304,381.95 304.25,381.94 304.5,381.93 304.75,381.91 305,381.9 305.25,381.88 305.5,381.86 305.75,381.85 306,381.83 306.25,381.81 306.5,381.79 306.75,381.77 307,381.74 307.25,381.72 307.5,381.69 307.75,381.67 308,381.64 308.25,381.61 308.5,381.58 308.75,381.55 309,381.52 309.25,381.48 309.5,381.45 309.75,381.41 310,381.37 310.25,381.33 310.5,381.29 310.75,381.24 311,381.2 311.25,381.15 311.5,381.1 311.75,381.05 312,381 312.25,380.94 312.5,380.88 312.75,380.82 313,380.75 313.25,380.67 313.5,380.59 313.75,380.51 314,380.42 314.25,380.33 314.5,380.23 314.75,380.12 315,380.02 315.25,379.91 315.5,379.79 315.75,379.67 316,379.54 316.25,379.41 316.5,379.28 316.75,379.14 317,379 317.25,378.85 317.5,378.7 317.75,378.53 318,378.36 318.25,378.18 318.5,378 318.75,377.8 319,377.6 319.25,377.4 319.5,377.19 319.75,376.97 320,376.75 320.25,376.52 320.5,376.28 320.75,376.04 321,375.8 321.25,375.54 321.5,375.26 321.75,374.97 322,374.66 322.25,374.34 322.5,374.01 322.75,373.69 323,373.36 323.25,373.03 323.5,372.72 323.75,372.41 324,372.12 324.25,371.85 324.5,371.6 324.75,371.36 325,371.12 325.25,370.89 325.5,370.66 325.75,370.45 326,370.25 326.25,370.08 326.5,369.92 326.75,369.79 327,369.69 327.25,369.63 327.5,369.6 327.75,369.61 328,369.67 328.25,369.75 328.5,369.87 328.75,370.02 329,370.19 329.25,370.37 329.5,370.57 329.75,370.78 330,370.99 330.25,371.2 330.5,371.4 330.75,371.61 331,371.83 331.25,372.06 331.5,372.31 331.75,372.56 332,372.82 332.25,373.07 332.5,373.34 332.75,373.6 333,373.85 333.25,374.1 333.5,374.35 333.75,374.58 334,374.8 334.25,375.01 334.5,375.23 334.75,375.44 335,375.64 335.25,375.85 335.5,376.05 335.75,376.24 336,376.43 336.25,376.61 336.5,376.79 336.75,376.95 337,377.11 337.25,377.26 337.5,377.4 337.75,377.53 338,377.66 338.25,377.78 338.5,377.89 338.75,377.99 339,378.08 339.25,378.16 339.5,378.23 339.75,378.29 340,378.34 340.25,378.38 340.5,378.4 340.75,378.4 341,378.39 341.25,378.38 341.5,378.36 341.75,378.32 342,378.28 342.25,378.22 342.5,378.15 342.75,378.06 343,377.96 343.25,377.85 343.5,377.72 343.75,377.57 344,377.4 344.25,377.21 344.5,377.01 344.75,376.79 345,376.56 345.25,376.31 345.5,376.05 345.75,375.78 346,375.49 346.25,375.2 346.5,374.89 346.75,374.58 347,374.26 347.25,373.93 347.5,373.6 347.75,373.25 348,372.88 348.25,372.49 348.5,372.09 348.75,371.68 349,371.25 349.25,370.82 349.5,370.4 349.75,369.97 350,369.55 350.25,369.14 350.5,368.74 350.75,368.36 351,368 351.25,367.66 351.5,367.33 351.75,367.01 352,366.71 352.25,366.43 352.5,366.16 352.75,365.9 353,365.65 353.25,365.42 353.5,365.2 353.75,365 354,364.84 354.25,364.72 354.5,364.64 354.75,364.6 355,364.6 355.25,364.64 355.5,364.71 355.75,364.79 356,364.91 356.25,365.04 356.5,365.2 356.75,365.39 357,365.6 357.25,365.84 357.5,366.12 357.75,366.42 358,366.74 358.25,367.07 358.5,367.4 358.75,367.72 359,368.04 359.25,368.33 359.5,368.6 359.75,368.86 360,369.12 360.25,369.39 360.5,369.65 360.75,369.9 361,370.13 361.25,370.33 361.5,370.49 361.75,370.62 362,370.69 362.25,370.71 362.5,370.68 362.75,370.62 363,370.52 363.25,370.38 363.5,370.19 363.75,369.96 364,369.69 364.25,369.37 364.5,369 364.75,368.57 365,368.07 365.25,367.51 365.5,366.91 365.75,366.29 366,365.64 366.25,365 366.5,364.37 366.75,363.77 367,363.2 367.25,362.69 367.5,362.23 367.75,361.77 368,361.32 368.25,360.89 368.5,360.49 368.75,360.12 369,359.8 369.25,359.54 369.5,359.34 369.75,359.22 370,359.18 370.25,359.23 370.5,359.37 370.75,359.56 371,359.8 371.25,360.08 371.5,360.36 371.75,360.65 372,360.92 372.25,361.16 372.5,361.38 372.75,361.64 373,361.93 373.25,362.23 373.5,362.52 373.75,362.78 374,363.01 374.25,363.19 374.5,363.29 374.75,363.31 375,363.21 375.25,363 375.5,362.69 375.75,362.31 376,361.89 376.25,361.44 376.5,360.99 376.75,360.57 377,360.2 377.25,359.83 377.5,359.41 377.75,358.96 378,358.53 378.25,358.14 378.5,357.81 378.75,357.59 379,357.49 379.25,357.56 379.5,357.76 379.75,358.08 380,358.49 380.25,358.96 380.5,359.46 380.75,359.97 381,360.47 381.25,360.92 381.5,361.35 381.75,361.83 382,362.35 382.25,362.87 382.5,363.37 382.75,363.82 383,364.19 383.25,364.46 383.5,364.6 383.75,364.54 384,364.28 384.25,363.86 384.5,363.36 384.75,362.83 385,362.34 385.25,361.92 385.5,361.49 385.75,361 386,360.53 386.25,360.12 386.5,359.82 386.75,359.7 387,359.79 387.25,360.06 387.5,360.47 387.75,360.95 388,361.47 388.25,361.97 388.5,362.4 388.75,362.83 389,363.3 389.25,363.77 389.5,364.18 389.75,364.48 390,364.6 390.25,364.5 390.5,364.23 390.75,363.83 391,363.39 391.25,362.95 391.5,362.6 391.75,362.29 392,361.95 392.25,361.63 392.5,361.36 392.75,361.17 393,361.1 393.25,361.2 393.5,361.47 393.75,361.82 394,362.21 394.25,362.54 394.5,362.84 394.75,363.17 395,363.48 395.25,363.71 395.5,363.8 395.75,363.69 396,363.41 396.25,363.06 396.5,362.71 396.75,362.43 397,362.1 397.25,361.8 397.5,361.62 397.75,361.64 398,361.87 398.25,362.19 398.5,362.5 398.75,362.73 399,362.97 399.25,363.14 399.5,363.2 399.75,363.07 400,362.81 400.25,362.53 400.5,362.33 400.75,362.13 401,361.97 401.25,361.9 401.5,361.96 401.75,362.15 402,362.36 402.25,362.53 402.5,362.67 402.75,362.78 403,362.8 403.25,362.67 403.5,362.44 403.75,362.23 404,362.11 404.25,362.03 404.5,362 404.75,362.02 405,362.09 405.25,362.19 405.5,362.28 405.75,362.36 406,362.4 406.25,362.4 406.5,362.39 406.75,362.36 407,362.32 407.25,362.28 407.5,362.25 407.75,362.22 408,362.2 408.25,362.19 408.5,362.19 408.75,362.18 409,362.18 409.25,362.17 409.5,362.17 409.75,362.17 410,362.17 410.25,362.17 410.5,362.17 410.75,362.18 411,362.18 411.25,362.18 411.5,362.19 411.75,362.19 412,362.2 412.25,362.21 412.5,362.21 412.75,362.21 413,362.21 413.25,362.22 413.5,362.22 413.75,362.22 414,362.23 414.25,362.23 414.5,362.25 414.75,362.26 415,362.28 415.25,362.3 415.5,362.33 415.75,362.36 416,362.4 416.25,362.45 416.5,362.51 416.75,362.58 417,362.65 417.25,362.74 417.5,362.83 417.75,362.92 418,363.02 418.25,363.11 418.5,363.21 418.75,363.31 419,363.4 419.25,363.5 419.5,363.62 419.75,363.74 420,363.87 420.25,364.01 420.5,364.14 420.75,364.26 421,364.37 421.25,364.46 421.5,364.54 421.75,364.58 422,364.6 422.25,364.6 422.5,364.58 422.75,364.54 423,364.46 423.25,364.32 423.5,364.1 423.75,363.8 424,363.4 424.25,362.86 424.5,362.16 424.75,361.34 425,360.42 425.25,359.44 425.5,358.41 425.75,357.34 426,356.07 426.25,354.7 426.5,353.33 426.75,352.06 427,351 427.25,350.09 427.5,349.24 427.75,348.52 428,347.97 428.25,347.66 428.5,347.62 428.75,347.88 429,348.37 429.25,349.05 429.5,349.88 429.75,350.81 430,351.88 430.25,353.19 430.5,354.65 430.75,356.13 431,357.52 431.25,358.72 431.5,359.83 431.75,360.9 432,361.9 432.25,362.82 432.5,363.62 432.75,364.29 433,364.8 433.25,365.19 433.5,365.49 433.75,365.7 434,365.84 434.25,365.93 434.5,365.98 434.75,366.01 435,365.97 435.25,365.87 435.5,365.73 435.75,365.56 436,365.37 436.25,365.18 436.5,365 436.75,364.82 437,364.62 437.25,364.4 437.5,364.18 437.75,363.96 438,363.75 438.25,363.56 438.5,363.4 438.75,363.26 439,363.13 439.25,363.01 439.5,362.9 439.75,362.79 440,362.7 440.25,362.61 440.5,362.53 440.75,362.46 441,362.4 441.25,362.34 441.5,362.29 441.75,362.25 442,362.2 442.25,362.16 442.5,362.13 442.75,362.09 443,362.06 443.25,362.03 443.5,362.01 443.75,361.99 444,361.97 444.25,361.95 444.5,361.93 444.75,361.91 445,361.9 445.25,361.89 445.5,361.88 445.75,361.87 446,361.86 446.25,361.85 446.5,361.84 446.75,361.84 447,361.83 447.25,361.83 447.5,361.82 447.75,361.82 448,361.82 448.25,361.82 448.5,361.81 448.75,361.81 449,361.81 449.25,361.81 449.5,361.81 449.75,361.81 450,361.81 450.25,361.81 450.5,361.81 450.75,361.81 451,361.81 451.25,361.81 451.5,361.81 451.75,361.8"/>
</g>
<path d="M428.3 41.85V382.9" stroke="#000" stroke-width="1.9" stroke-dasharray="3 2.877" stroke-dashoffset="0.63" fill="none"/>
<rect x="196" y="51.7" width="54" height="28" fill="#fff"/>
<rect x="387" y="50.5" width="68" height="27.6" fill="#fff"/>
<text x="196.2" y="73.1" font-size="24.2" text-anchor="start" >[001]</text>
<text x="257.3" y="73.1" font-size="24.2" text-anchor="start" >Sample #1</text>
<text x="387.6" y="73.1" font-size="24.2" text-anchor="start" >[1–10]</text>
<path d="M295.8 95.1H340.6" stroke="#e8181c" stroke-width="1.75" fill="none"/>
<text x="395.4" y="103.6" font-size="24.2" text-anchor="end" >30 T</text>
<path d="M295.8 123H340.6" stroke="#1010e8" stroke-width="1.75" fill="none"/>
<text x="395.4" y="131.5" font-size="24.2" text-anchor="end" >25 T</text>
<path d="M295.8 150.9H340.6" stroke="#14693f" stroke-width="1.75" fill="none"/>
<text x="395.4" y="159.4" font-size="24.2" text-anchor="end" >8 T</text>
<text x="103.4" y="49.95" font-size="24.2" text-anchor="end" >0.03</text>
<text x="103.4" y="163.63" font-size="24.2" text-anchor="end" >0.02</text>
<text x="103.4" y="277.32" font-size="24.2" text-anchor="end" >0.01</text>
<text x="103.4" y="391" font-size="24.2" text-anchor="end" >0</text>
<text x="108.55" y="410.6" font-size="24.2" text-anchor="middle" >–50</text>
<text x="223.4" y="410.6" font-size="24.2" text-anchor="middle" >0</text>
<text x="337.05" y="410.6" font-size="24.2" text-anchor="middle" >50</text>
<text x="450.7" y="410.6" font-size="24.2" text-anchor="middle" >100</text>
<text x="225.2" y="441.1" font-size="24.2" text-anchor="start" ><tspan class="it" font-size="24.6">θ</tspan><tspan dx="0.4"> (degree)</tspan></text>
<text transform="translate(36.3 264.5) rotate(-90)" font-size="24.2"><tspan class="it" font-size="23">ρ</tspan><tspan dy="8.9" font-size="17.6">c</tspan><tspan dy="-8.9"> (</tspan><tspan class="sr" font-size="26">Ω</tspan> cm)</text>
<text x="0.5" y="26.4" font-size="32" class="b" transform="translate(-0.8 0) scale(0.94 1)">a</text>
</g>
<g id="panel-b">
<rect x="592" y="41.9" width="340.6" height="340.9" fill="none" stroke="#000" stroke-width="1.6"/>
<path d="M648.77 382.8v-9.7M648.77 41.9v9.7M705.53 382.8v-9.7M705.53 41.9v9.7M762.3 382.8v-9.7M762.3 41.9v9.7M819.07 382.8v-9.7M819.07 41.9v9.7M875.83 382.8v-9.7M875.83 41.9v9.7M592 297.57h9.7M932.6 297.57h-9.7M592 212.35h9.7M932.6 212.35h-9.7M592 127.12h9.7M932.6 127.12h-9.7" stroke="#000" stroke-width="1.6" fill="none"/>
<clipPath id="clipB"><rect x="591.4" y="41.9" width="341.8" height="340.9"/></clipPath>
<path d="M762.1 41.9V382.8" stroke="#000" stroke-width="1.9" stroke-dasharray="3 2.857" stroke-dashoffset="1.7" fill="none"/>
<g clip-path="url(#clipB)">
<polyline fill="none" stroke="#e2222a" stroke-width="1.62" stroke-linejoin="round" stroke-linecap="butt"  points="586,353.23 587,353.46 588,353.69 589,353.91 590,354.1 591,354.28 592,354.45 593,354.63 594,354.79 595,354.96 596,355.12 597,355.28 598,355.43 599,355.58 600,355.72 601,355.86 602,356 603,356.13 604,356.25 605,356.37 606,356.49 607,356.6 608,356.7 609,356.8 610,356.9 611,356.99 612,357.09 613,357.18 614,357.27 615,357.35 616,357.43 617,357.51 618,357.57 619,357.62 620,357.67 621,357.7 622,357.73 623,357.75 624,357.77 625,357.8 626,357.82 627,357.83 628,357.85 629,357.87 630,357.88 631,357.89 632,357.89 633,357.9 634,357.9 635,357.89 636,357.87 637,357.83 638,357.78 639,357.72 640,357.66 641,357.58 642,357.5 643,357.41 644,357.31 645,357.22 646,357.11 647,357.01 648,356.91 649,356.8 650,356.7 651,356.6 652,356.48 653,356.36 654,356.24 655,356.11 656,355.96 657,355.82 658,355.66 659,355.5 660,355.33 661,355.15 662,354.96 663,354.76 664,354.56 665,354.34 666,354.12 667,353.89 668,353.63 669,353.35 670,353.05 671,352.74 672,352.4 673,352.04 674,351.67 675,351.28 676,350.87 677,350.45 678,350.01 679,349.56 680,349.09 681,348.61 682,348.11 683,347.61 684,347.09 685,346.55 686,346 687,345.41 688,344.78 689,344.12 690,343.42 691,342.69 692,341.93 693,341.14 694,340.33 695,339.49 696,338.62 697,337.73 698,336.82 699,335.89 700,334.94 701,333.98 702,332.99 703,332 704,330.99 705,329.97 706,328.91 707,327.81 708,326.67 709,325.48 710,324.25 711,322.98 712,321.67 713,320.31 714,318.92 715,317.49 716,316.02 717,314.51 718,312.94 719,311.3 720,309.61 721,307.85 722,306.03 723,304.16 724,302.24 725,300.27 726,298.25 727,296.19 728,294.08 729,291.94 730,289.72 731,287.41 732,285.01 733,282.53 734,279.95 735,277.29 736,274.56 737,271.81 738,269.09 739,266.19 740,262.9 741,259 742,253.69 743,247 744,239.96 745,233.52 746,227.45 747,221.42 748,215.22 749,208.69 750,201.88 751,194.86 752,187.69 753,180.44 754,173.12 755,165.27 756,157.25 757,149.84 758,143.69 759,138.5 760,134.48 761,130.71 762,128.03 763,127.54 764,127.97 765,128.68 766,129.6 767,131.13 768,133.44 769,137.78 770,143.08 771,149.13 772,155.98 773,163.23 774,170.45 775,177.27 776,183.79 777,190.2 778,196.69 779,203.41 780,210.52 781,218.53 782,227.33 783,235.31 784,241.85 785,247.82 786,253.23 787,258.09 788,262.46 789,266.42 790,270.04 791,273.37 792,276.47 793,279.43 794,282.24 795,284.92 796,287.47 797,289.89 798,292.2 799,294.4 800,296.51 801,298.52 802,300.45 803,302.32 804,304.11 805,305.85 806,307.55 807,309.2 808,310.82 809,312.41 810,313.97 811,315.5 812,316.99 813,318.45 814,319.85 815,321.22 816,322.53 817,323.78 818,324.99 819,326.15 820,327.28 821,328.38 822,329.44 823,330.46 824,331.44 825,332.39 826,333.29 827,334.16 828,334.99 829,335.79 830,336.57 831,337.32 832,338.05 833,338.74 834,339.41 835,340.05 836,340.65 837,341.24 838,341.82 839,342.4 840,342.97 841,343.53 842,344.09 843,344.63 844,345.16 845,345.68 846,346.18 847,346.66 848,347.12 849,347.57 850,347.98 851,348.38 852,348.75 853,349.09 854,349.4 855,349.67 856,349.93 857,350.18 858,350.43 859,350.67 860,350.91 861,351.13 862,351.35 863,351.56 864,351.76 865,351.96 866,352.13 867,352.3 868,352.46 869,352.6 870,352.73 871,352.84 872,352.94 873,353.02 874,353.09 875,353.14 876,353.19 877,353.24 878,353.29 879,353.34 880,353.38 881,353.43 882,353.47 883,353.5 884,353.54 885,353.57 886,353.6 887,353.62 888,353.65 889,353.66 890,353.68 891,353.69 892,353.7 893,353.7 894,353.7 895,353.69 896,353.67 897,353.64 898,353.6 899,353.56 900,353.51 901,353.46 902,353.4 903,353.33 904,353.26 905,353.19 906,353.12 907,353.04 908,352.96 909,352.87 910,352.79 911,352.7 912,352.62 913,352.53 914,352.42 915,352.31 916,352.18 917,352.05 918,351.9 919,351.75 920,351.58 921,351.41 922,351.24 923,351.06 924,350.87 925,350.68 926,350.49 927,350.3 928,350.1 929,349.91 930,349.72 931,349.53 932,349.34 933,349.15 934,348.95 935,348.75 936,348.54 937,348.33 938,348.12"/>
<polyline fill="none" stroke="#226c4a" stroke-width="1.62" stroke-linejoin="round" stroke-linecap="butt"  points="586,352.53 587,352.76 588,352.99 589,353.21 590,353.4 591,353.58 592,353.75 593,353.93 594,354.09 595,354.26 596,354.42 597,354.58 598,354.73 599,354.88 600,355.02 601,355.16 602,355.3 603,355.43 604,355.55 605,355.67 606,355.79 607,355.9 608,356 609,356.1 610,356.2 611,356.29 612,356.39 613,356.48 614,356.57 615,356.65 616,356.73 617,356.81 618,356.87 619,356.92 620,356.97 621,357 622,357.03 623,357.05 624,357.07 625,357.1 626,357.12 627,357.13 628,357.15 629,357.17 630,357.18 631,357.19 632,357.19 633,357.2 634,357.2 635,357.19 636,357.17 637,357.13 638,357.08 639,357.02 640,356.96 641,356.88 642,356.8 643,356.71 644,356.61 645,356.52 646,356.41 647,356.31 648,356.21 649,356.1 650,356 651,355.9 652,355.78 653,355.66 654,355.54 655,355.41 656,355.26 657,355.12 658,354.96 659,354.8 660,354.63 661,354.45 662,354.26 663,354.06 664,353.86 665,353.64 666,353.42 667,353.19 668,352.93 669,352.65 670,352.36 671,352.04 672,351.7 673,351.35 674,350.98 675,350.59 676,350.18 677,349.76 678,349.32 679,348.87 680,348.4 681,347.92 682,347.42 683,346.91 684,346.39 685,345.85 686,345.29 687,344.7 688,344.06 689,343.38 690,342.67 691,341.93 692,341.15 693,340.34 694,339.51 695,338.64 696,337.75 697,336.84 698,335.9 699,334.94 700,333.96 701,332.96 702,331.95 703,330.92 704,329.87 705,328.81 706,327.69 707,326.52 708,325.31 709,324.05 710,322.73 711,321.38 712,319.97 713,318.52 714,317.02 715,315.48 716,313.89 717,312.22 718,310.48 719,308.66 720,306.77 721,304.82 722,302.8 723,300.72 724,298.58 725,296.38 726,294.13 727,291.83 728,289.42 729,286.88 730,284.22 731,281.46 732,278.62 733,275.74 734,272.86 735,270.11 736,267.31 737,264.24 738,260.64 739,256.05 740,249.84 741,242.84 742,236 743,229.56 744,223.09 745,216.59 746,210.05 747,203.78 748,197.64 749,191.33 750,184.56 751,177.05 752,167.97 753,156.81 754,145.7 755,136.49 756,130.27 757,127.45 758,125.51 759,123.8 760,122.02 761,120.75 762,120.75 763,123.06 764,126.59 765,130.23 766,134.73 767,140 768,146.32 769,153.75 770,161.78 771,169.9 772,177.65 773,185.25 774,192.88 775,200.66 776,208.69 777,217.34 778,226.82 779,235.29 780,241.98 781,247.94 782,253.28 783,258.09 784,262.49 785,266.52 786,270.17 787,273.41 788,276.27 789,278.94 790,281.43 791,283.78 792,285.99 793,288.1 794,290.13 795,292.09 796,294.02 797,295.89 798,297.7 799,299.44 800,301.13 801,302.78 802,304.37 803,305.93 804,307.45 805,308.94 806,310.41 807,311.86 808,313.28 809,314.68 810,316.06 811,317.4 812,318.71 813,319.98 814,321.22 815,322.41 816,323.56 817,324.66 818,325.74 819,326.79 820,327.81 821,328.8 822,329.76 823,330.69 824,331.59 825,332.45 826,333.28 827,334.07 828,334.84 829,335.59 830,336.32 831,337.02 832,337.69 833,338.35 834,338.97 835,339.58 836,340.15 837,340.72 838,341.28 839,341.84 840,342.4 841,342.94 842,343.49 843,344.02 844,344.53 845,345.04 846,345.53 847,346 848,346.46 849,346.89 850,347.3 851,347.69 852,348.06 853,348.39 854,348.7 855,348.97 856,349.23 857,349.48 858,349.73 859,349.97 860,350.2 861,350.43 862,350.65 863,350.86 864,351.06 865,351.25 866,351.43 867,351.6 868,351.76 869,351.9 870,352.03 871,352.14 872,352.24 873,352.32 874,352.39 875,352.44 876,352.49 877,352.54 878,352.59 879,352.64 880,352.68 881,352.73 882,352.77 883,352.8 884,352.84 885,352.87 886,352.9 887,352.92 888,352.95 889,352.96 890,352.98 891,352.99 892,353 893,353 894,353 895,352.99 896,352.97 897,352.94 898,352.9 899,352.86 900,352.81 901,352.76 902,352.7 903,352.63 904,352.56 905,352.49 906,352.42 907,352.34 908,352.26 909,352.17 910,352.09 911,352 912,351.92 913,351.83 914,351.72 915,351.61 916,351.48 917,351.35 918,351.2 919,351.05 920,350.88 921,350.71 922,350.54 923,350.36 924,350.17 925,349.98 926,349.79 927,349.6 928,349.4 929,349.21 930,349.02 931,348.83 932,348.64 933,348.45 934,348.25 935,348.05 936,347.84 937,347.63 938,347.42"/>
<polyline fill="none" stroke="#1c1cb4" stroke-width="1.62" stroke-linejoin="round" stroke-linecap="butt"  points="586,352.83 587,353.06 588,353.29 589,353.51 590,353.7 591,353.88 592,354.05 593,354.23 594,354.39 595,354.56 596,354.72 597,354.88 598,355.03 599,355.18 600,355.32 601,355.46 602,355.6 603,355.73 604,355.85 605,355.97 606,356.09 607,356.2 608,356.3 609,356.4 610,356.5 611,356.59 612,356.69 613,356.78 614,356.87 615,356.95 616,357.03 617,357.11 618,357.17 619,357.22 620,357.27 621,357.3 622,357.33 623,357.35 624,357.37 625,357.4 626,357.42 627,357.43 628,357.45 629,357.47 630,357.48 631,357.49 632,357.49 633,357.5 634,357.5 635,357.49 636,357.47 637,357.43 638,357.38 639,357.32 640,357.26 641,357.18 642,357.1 643,357.01 644,356.91 645,356.82 646,356.71 647,356.61 648,356.51 649,356.4 650,356.3 651,356.2 652,356.08 653,355.96 654,355.84 655,355.71 656,355.56 657,355.42 658,355.26 659,355.1 660,354.93 661,354.75 662,354.56 663,354.36 664,354.16 665,353.94 666,353.72 667,353.49 668,353.23 669,352.95 670,352.66 671,352.34 672,352 673,351.65 674,351.28 675,350.89 676,350.48 677,350.06 678,349.62 679,349.17 680,348.7 681,348.22 682,347.72 683,347.21 684,346.69 685,346.15 686,345.6 687,345 688,344.36 689,343.69 690,342.99 691,342.24 692,341.47 693,340.67 694,339.84 695,338.98 696,338.1 697,337.19 698,336.26 699,335.31 700,334.34 701,333.35 702,332.34 703,331.32 704,330.29 705,329.24 706,328.14 707,326.99 708,325.8 709,324.56 710,323.27 711,321.94 712,320.56 713,319.14 714,317.68 715,316.17 716,314.62 717,313 718,311.32 719,309.56 720,307.73 721,305.84 722,303.88 723,301.87 724,299.8 725,297.67 726,295.5 727,293.27 728,290.99 729,288.6 730,286.09 731,283.47 732,280.76 733,277.98 734,275.15 735,272.32 736,269.59 737,266.75 738,263.58 739,259.84 740,254.92 741,248.48 742,241.43 743,234.71 744,228.28 745,221.82 746,215.3 747,208.74 748,202.45 749,196.19 750,189.67 751,182.58 752,174.6 753,164.7 754,153.26 755,142.05 756,131.44 757,127.25 758,125.21 759,123.58 760,121.3 761,118.61 762,117.3 763,119.52 764,124.22 765,128.66 766,132.97 767,137.83 768,143.65 769,150.7 770,158.54 771,166.68 772,174.6 773,182.26 774,189.97 775,197.74 776,205.61 777,213.63 778,222.28 779,230.79 780,238 781,244.31 782,250.05 783,255.24 784,259.89 785,264.14 786,268.01 787,271.5 788,274.59 789,277.41 790,280.05 791,282.53 792,284.87 793,287.09 794,289.21 795,291.26 796,293.24 797,295.18 798,297.05 799,298.86 800,300.61 801,302.3 802,303.94 803,305.54 804,307.1 805,308.63 806,310.12 807,311.6 808,313.06 809,314.49 810,315.89 811,317.26 812,318.6 813,319.9 814,321.16 815,322.38 816,323.56 817,324.69 818,325.78 819,326.85 820,327.89 821,328.9 822,329.88 823,330.82 824,331.73 825,332.61 826,333.45 827,334.25 828,335.04 829,335.79 830,336.53 831,337.24 832,337.93 833,338.59 834,339.22 835,339.83 836,340.41 837,340.98 838,341.55 839,342.11 840,342.67 841,343.22 842,343.76 843,344.3 844,344.82 845,345.33 846,345.82 847,346.29 848,346.75 849,347.19 850,347.6 851,347.99 852,348.35 853,348.69 854,349 855,349.27 856,349.53 857,349.78 858,350.03 859,350.27 860,350.5 861,350.73 862,350.95 863,351.16 864,351.36 865,351.55 866,351.73 867,351.9 868,352.06 869,352.2 870,352.33 871,352.44 872,352.54 873,352.62 874,352.69 875,352.74 876,352.79 877,352.84 878,352.89 879,352.94 880,352.98 881,353.03 882,353.07 883,353.1 884,353.14 885,353.17 886,353.2 887,353.22 888,353.25 889,353.26 890,353.28 891,353.29 892,353.3 893,353.3 894,353.3 895,353.29 896,353.27 897,353.24 898,353.2 899,353.16 900,353.11 901,353.06 902,353 903,352.93 904,352.86 905,352.79 906,352.72 907,352.64 908,352.56 909,352.47 910,352.39 911,352.3 912,352.22 913,352.13 914,352.02 915,351.91 916,351.78 917,351.65 918,351.5 919,351.35 920,351.18 921,351.01 922,350.84 923,350.66 924,350.47 925,350.28 926,350.09 927,349.9 928,349.7 929,349.51 930,349.32 931,349.13 932,348.94 933,348.75 934,348.55 935,348.35 936,348.14 937,347.93 938,347.72"/>
<polyline fill="none" stroke="#d028c2" stroke-width="1.62" stroke-linejoin="round" stroke-linecap="butt"  points="586,353.03 587,353.26 588,353.49 589,353.71 590,353.9 591,354.08 592,354.25 593,354.43 594,354.59 595,354.76 596,354.92 597,355.08 598,355.23 599,355.38 600,355.52 601,355.66 602,355.8 603,355.93 604,356.05 605,356.17 606,356.29 607,356.4 608,356.5 609,356.6 610,356.7 611,356.79 612,356.89 613,356.98 614,357.07 615,357.15 616,357.23 617,357.31 618,357.37 619,357.42 620,357.47 621,357.5 622,357.53 623,357.55 624,357.57 625,357.6 626,357.62 627,357.63 628,357.65 629,357.67 630,357.68 631,357.69 632,357.69 633,357.7 634,357.7 635,357.69 636,357.67 637,357.63 638,357.58 639,357.52 640,357.46 641,357.38 642,357.3 643,357.21 644,357.11 645,357.02 646,356.91 647,356.81 648,356.71 649,356.6 650,356.5 651,356.4 652,356.28 653,356.16 654,356.04 655,355.91 656,355.76 657,355.62 658,355.46 659,355.3 660,355.13 661,354.95 662,354.76 663,354.56 664,354.36 665,354.14 666,353.92 667,353.69 668,353.43 669,353.15 670,352.85 671,352.53 672,352.2 673,351.84 674,351.47 675,351.07 676,350.67 677,350.24 678,349.8 679,349.35 680,348.88 681,348.4 682,347.91 683,347.4 684,346.88 685,346.35 686,345.8 687,345.22 688,344.59 689,343.94 690,343.25 691,342.53 692,341.78 693,341.01 694,340.21 695,339.38 696,338.53 697,337.65 698,336.76 699,335.85 700,334.91 701,333.97 702,333 703,332.02 704,331.03 705,330.03 706,329.01 707,327.94 708,326.82 709,325.67 710,324.48 711,323.24 712,321.97 713,320.66 714,319.31 715,317.93 716,316.51 717,315.05 718,313.54 719,311.98 720,310.36 721,308.68 722,306.94 723,305.16 724,303.32 725,301.44 726,299.51 727,297.53 728,295.52 729,293.47 730,291.38 731,289.23 732,287 733,284.68 734,282.29 735,279.8 736,277.22 737,274.55 738,271.84 739,269.13 740,266.21 741,262.9 742,259 743,253.65 744,246.89 745,239.87 746,233.63 747,227.99 748,222.51 749,216.86 750,210.73 751,204.28 752,197.58 753,190.48 754,182.87 755,174.6 756,164.49 757,153.72 758,144.98 759,138 760,132.23 761,127.35 762,125.3 763,127.05 764,131.17 765,135.92 766,139.85 767,143.51 768,147.41 769,151.87 770,156.99 771,162.61 772,168.54 773,174.6 774,180.75 775,187.08 776,193.64 777,200.46 778,207.58 779,215.14 780,223.82 781,232.32 782,239.31 783,245.5 784,251.13 785,256.21 786,260.77 787,264.91 788,268.68 789,272.11 790,275.21 791,278.11 792,280.84 793,283.43 794,285.89 795,288.22 796,290.46 797,292.6 798,294.67 799,296.66 800,298.58 801,300.42 802,302.2 803,303.93 804,305.6 805,307.23 806,308.82 807,310.38 808,311.92 809,313.43 810,314.92 811,316.37 812,317.78 813,319.16 814,320.5 815,321.79 816,323.03 817,324.22 818,325.37 819,326.49 820,327.57 821,328.63 822,329.65 823,330.63 824,331.58 825,332.49 826,333.36 827,334.2 828,335.01 829,335.79 830,336.55 831,337.28 832,337.98 833,338.66 834,339.31 835,339.93 836,340.53 837,341.11 838,341.68 839,342.25 840,342.82 841,343.37 842,343.92 843,344.46 844,344.99 845,345.5 846,346 847,346.48 848,346.94 849,347.38 850,347.79 851,348.18 852,348.55 853,348.89 854,349.2 855,349.47 856,349.73 857,349.98 858,350.23 859,350.47 860,350.71 861,350.93 862,351.15 863,351.36 864,351.56 865,351.75 866,351.93 867,352.1 868,352.26 869,352.4 870,352.53 871,352.64 872,352.74 873,352.82 874,352.89 875,352.94 876,352.99 877,353.04 878,353.09 879,353.14 880,353.18 881,353.23 882,353.27 883,353.3 884,353.34 885,353.37 886,353.4 887,353.42 888,353.45 889,353.46 890,353.48 891,353.49 892,353.5 893,353.5 894,353.5 895,353.49 896,353.47 897,353.44 898,353.4 899,353.36 900,353.31 901,353.26 902,353.2 903,353.13 904,353.06 905,352.99 906,352.92 907,352.84 908,352.76 909,352.67 910,352.59 911,352.5 912,352.42 913,352.33 914,352.22 915,352.11 916,351.98 917,351.85 918,351.7 919,351.55 920,351.38 921,351.21 922,351.04 923,350.86 924,350.67 925,350.48 926,350.29 927,350.1 928,349.9 929,349.71 930,349.52 931,349.33 932,349.14 933,348.95 934,348.75 935,348.55 936,348.34 937,348.13 938,347.92"/>
<polyline fill="none" stroke="#7a26cf" stroke-width="1.62" stroke-linejoin="round" stroke-linecap="butt"  points="586,351.56 587,351.62 588,351.69 589,351.75 590,351.8 591,351.85 592,351.9 593,351.95 594,352.01 595,352.06 596,352.11 597,352.16 598,352.21 599,352.26 600,352.3 601,352.35 602,352.39 603,352.43 604,352.47 605,352.5 606,352.53 607,352.55 608,352.57 609,352.59 610,352.6 611,352.61 612,352.62 613,352.62 614,352.63 615,352.64 616,352.64 617,352.65 618,352.66 619,352.66 620,352.67 621,352.67 622,352.68 623,352.68 624,352.69 625,352.69 626,352.69 627,352.69 628,352.7 629,352.7 630,352.7 631,352.7 632,352.7 633,352.69 634,352.66 635,352.62 636,352.57 637,352.5 638,352.42 639,352.33 640,352.24 641,352.13 642,352.02 643,351.9 644,351.77 645,351.65 646,351.52 647,351.39 648,351.26 649,351.13 650,351 651,350.87 652,350.74 653,350.6 654,350.45 655,350.29 656,350.13 657,349.96 658,349.78 659,349.59 660,349.4 661,349.19 662,348.98 663,348.76 664,348.52 665,348.28 666,348.03 667,347.75 668,347.45 669,347.12 670,346.77 671,346.39 672,345.99 673,345.57 674,345.12 675,344.66 676,344.19 677,343.7 678,343.2 679,342.68 680,342.16 681,341.63 682,341.09 683,340.55 684,340 685,339.45 686,338.9 687,338.32 688,337.73 689,337.11 690,336.48 691,335.82 692,335.14 693,334.44 694,333.72 695,332.97 696,332.2 697,331.4 698,330.57 699,329.72 700,328.83 701,327.91 702,326.95 703,325.96 704,324.93 705,323.86 706,322.75 707,321.6 708,320.4 709,319.15 710,317.84 711,316.46 712,315.03 713,313.53 714,311.99 715,310.39 716,308.75 717,307.06 718,305.33 719,303.55 720,301.74 721,299.89 722,298 723,296.09 724,294.13 725,292.1 726,290.01 727,287.84 728,285.6 729,283.29 730,280.9 731,278.45 732,275.92 733,273.32 734,270.64 735,267.9 736,265.13 737,262.25 738,259.18 739,255.81 740,252.06 741,247.71 742,242.23 743,235.9 744,229.09 745,222.18 746,215.57 747,209.55 748,203.64 749,197.81 750,192.17 751,186.86 752,182 753,177.44 754,173.03 755,168.89 756,165.13 757,161.89 758,159.17 759,156.45 760,153.96 761,152.04 762,151.06 763,151.15 764,151.84 765,153 766,154.52 767,156.31 768,159.35 769,164.53 770,170.81 771,177.14 772,182.69 773,188.08 774,193.48 775,198.9 776,204.31 777,209.73 778,215.18 779,220.75 780,226.37 781,231.94 782,237.36 783,242.53 784,247.44 785,252.35 786,257.13 787,261.54 788,265.37 789,268.49 790,271.29 791,273.88 792,276.28 793,278.5 794,280.59 795,282.55 796,284.41 797,286.2 798,287.93 799,289.6 800,291.17 801,292.66 802,294.08 803,295.45 804,296.77 805,298.07 806,299.35 807,300.63 808,301.92 809,303.19 810,304.45 811,305.69 812,306.9 813,308.1 814,309.28 815,310.44 816,311.57 817,312.69 818,313.8 819,314.91 820,316.04 821,317.16 822,318.29 823,319.41 824,320.52 825,321.61 826,322.7 827,323.76 828,324.79 829,325.8 830,326.77 831,327.71 832,328.61 833,329.47 834,330.27 835,331.03 836,331.73 837,332.39 838,333.03 839,333.65 840,334.25 841,334.84 842,335.4 843,335.95 844,336.48 845,337 846,337.49 847,337.97 848,338.44 849,338.89 850,339.32 851,339.74 852,340.14 853,340.53 854,340.9 855,341.26 856,341.62 857,341.96 858,342.3 859,342.64 860,342.97 861,343.29 862,343.61 863,343.91 864,344.21 865,344.49 866,344.77 867,345.03 868,345.28 869,345.51 870,345.74 871,345.94 872,346.14 873,346.31 874,346.47 875,346.62 876,346.76 877,346.91 878,347.05 879,347.19 880,347.33 881,347.47 882,347.59 883,347.72 884,347.83 885,347.94 886,348.04 887,348.12 888,348.2 889,348.27 890,348.32 891,348.36 892,348.39 893,348.4 894,348.4 895,348.39 896,348.37 897,348.34 898,348.31 899,348.27 900,348.23 901,348.18 902,348.12 903,348.06 904,348 905,347.93 906,347.86 907,347.79 908,347.72 909,347.64 910,347.57 911,347.49 912,347.42 913,347.34 914,347.25 915,347.15 916,347.04 917,346.92 918,346.8 919,346.67 920,346.53 921,346.39 922,346.24 923,346.09 924,345.93 925,345.77 926,345.61 927,345.45 928,345.29 929,345.12 930,344.96 931,344.79 932,344.63 933,344.47 934,344.3 935,344.12 936,343.94 937,343.75 938,343.57"/>
<polyline fill="none" stroke="#2492d0" stroke-width="1.62" stroke-linejoin="round" stroke-linecap="butt"  points="586,340.74 587,340.88 588,341.03 589,341.16 590,341.3 591,341.43 592,341.57 593,341.71 594,341.85 595,341.99 596,342.13 597,342.26 598,342.39 599,342.51 600,342.62 601,342.73 602,342.82 603,342.9 604,342.97 605,343.05 606,343.12 607,343.19 608,343.26 609,343.32 610,343.39 611,343.44 612,343.49 613,343.53 614,343.56 615,343.59 616,343.6 617,343.6 618,343.59 619,343.56 620,343.53 621,343.48 622,343.43 623,343.37 624,343.3 625,343.22 626,343.14 627,343.05 628,342.96 629,342.87 630,342.78 631,342.69 632,342.6 633,342.51 634,342.41 635,342.3 636,342.18 637,342.06 638,341.93 639,341.79 640,341.65 641,341.49 642,341.33 643,341.17 644,340.99 645,340.81 646,340.62 647,340.42 648,340.21 649,339.97 650,339.71 651,339.43 652,339.13 653,338.82 654,338.48 655,338.13 656,337.77 657,337.4 658,337.02 659,336.62 660,336.22 661,335.81 662,335.4 663,334.99 664,334.57 665,334.16 666,333.74 667,333.33 668,332.91 669,332.48 670,332.05 671,331.62 672,331.17 673,330.72 674,330.25 675,329.78 676,329.3 677,328.8 678,328.29 679,327.76 680,327.22 681,326.67 682,326.09 683,325.5 684,324.89 685,324.26 686,323.6 687,322.9 688,322.15 689,321.37 690,320.55 691,319.7 692,318.82 693,317.92 694,317 695,316.05 696,315.1 697,314.13 698,313.15 699,312.17 700,311.18 701,310.2 702,309.22 703,308.25 704,307.29 705,306.34 706,305.4 707,304.46 708,303.51 709,302.55 710,301.58 711,300.6 712,299.59 713,298.55 714,297.48 715,296.38 716,295.24 717,294.06 718,292.85 719,291.6 720,290.32 721,289.01 722,287.66 723,286.28 724,284.86 725,283.41 726,281.92 727,280.4 728,278.87 729,277.32 730,275.73 731,274.06 732,272.29 733,270.39 734,268.33 735,266.04 736,263.28 737,260.09 738,256.62 739,253 740,249.37 741,245.85 742,242.6 743,239.73 744,237.1 745,234.53 746,232.04 747,229.65 748,227.35 749,225.16 750,223.09 751,221.15 752,219.34 753,217.66 754,216.05 755,214.56 756,213.2 757,212.02 758,210.99 759,209.96 760,209.01 761,208.31 762,208 763,208.25 764,209.01 765,210.13 766,211.47 767,212.86 768,214.43 769,216.44 770,218.78 771,221.33 772,223.99 773,226.64 774,229.18 775,231.51 776,233.77 777,236 778,238.22 779,240.43 780,242.63 781,244.85 782,247.08 783,249.35 784,251.67 785,254.01 786,256.34 787,258.64 788,260.86 789,262.99 790,264.99 791,266.9 792,268.74 793,270.53 794,272.27 795,273.98 796,275.66 797,277.34 798,279.01 799,280.67 800,282.31 801,283.93 802,285.52 803,287.09 804,288.62 805,290.12 806,291.57 807,292.98 808,294.34 809,295.67 810,296.98 811,298.26 812,299.51 813,300.72 814,301.89 815,303.01 816,304.08 817,305.1 818,306.07 819,307.02 820,307.95 821,308.85 822,309.73 823,310.59 824,311.43 825,312.25 826,313.05 827,313.84 828,314.61 829,315.37 830,316.11 831,316.84 832,317.56 833,318.27 834,318.97 835,319.65 836,320.33 837,321.01 838,321.67 839,322.33 840,322.97 841,323.59 842,324.19 843,324.76 844,325.3 845,325.81 846,326.29 847,326.75 848,327.2 849,327.64 850,328.08 851,328.5 852,328.92 853,329.32 854,329.71 855,330.09 856,330.46 857,330.82 858,331.17 859,331.5 860,331.82 861,332.12 862,332.41 863,332.69 864,332.95 865,333.2 866,333.44 867,333.67 868,333.89 869,334.11 870,334.33 871,334.53 872,334.73 873,334.93 874,335.12 875,335.3 876,335.47 877,335.64 878,335.8 879,335.96 880,336.1 881,336.25 882,336.38 883,336.51 884,336.64 885,336.76 886,336.89 887,337.01 888,337.14 889,337.27 890,337.39 891,337.51 892,337.63 893,337.74 894,337.85 895,337.96 896,338.05 897,338.14 898,338.23 899,338.3 900,338.36 901,338.41 902,338.45 903,338.48 904,338.5 905,338.5 906,338.5 907,338.49 908,338.49 909,338.48 910,338.47 911,338.46 912,338.45 913,338.43 914,338.42 915,338.4 916,338.38 917,338.36 918,338.34 919,338.32 920,338.3 921,338.27 922,338.23 923,338.18 924,338.13 925,338.06 926,337.99 927,337.92 928,337.84 929,337.76 930,337.67 931,337.59 932,337.52 933,337.44 934,337.35 935,337.26 936,337.17 937,337.08 938,336.98"/>
<polyline fill="none" stroke="#b61c20" stroke-width="1.62" stroke-linejoin="round" stroke-linecap="butt"  points="586,333.04 587,332.98 588,332.92 589,332.86 590,332.8 591,332.74 592,332.68 593,332.62 594,332.56 595,332.5 596,332.44 597,332.38 598,332.32 599,332.26 600,332.2 601,332.14 602,332.08 603,332.02 604,331.96 605,331.9 606,331.83 607,331.77 608,331.7 609,331.64 610,331.57 611,331.5 612,331.42 613,331.35 614,331.27 615,331.19 616,331.11 617,331.03 618,330.94 619,330.86 620,330.76 621,330.67 622,330.56 623,330.46 624,330.35 625,330.24 626,330.13 627,330.01 628,329.89 629,329.76 630,329.63 631,329.5 632,329.37 633,329.23 634,329.1 635,328.95 636,328.81 637,328.67 638,328.52 639,328.37 640,328.22 641,328.07 642,327.91 643,327.75 644,327.6 645,327.44 646,327.28 647,327.12 648,326.95 649,326.79 650,326.62 651,326.45 652,326.27 653,326.1 654,325.91 655,325.73 656,325.54 657,325.34 658,325.14 659,324.94 660,324.73 661,324.51 662,324.29 663,324.06 664,323.82 665,323.58 666,323.33 667,323.06 668,322.79 669,322.5 670,322.2 671,321.89 672,321.57 673,321.24 674,320.89 675,320.54 676,320.18 677,319.81 678,319.43 679,319.05 680,318.66 681,318.26 682,317.86 683,317.46 684,317.05 685,316.64 686,316.22 687,315.79 688,315.35 689,314.9 690,314.44 691,313.96 692,313.48 693,312.99 694,312.49 695,311.99 696,311.47 697,310.95 698,310.43 699,309.9 700,309.37 701,308.83 702,308.29 703,307.75 704,307.21 705,306.66 706,306.11 707,305.54 708,304.97 709,304.39 710,303.81 711,303.22 712,302.62 713,302.02 714,301.41 715,300.8 716,300.19 717,299.57 718,298.95 719,298.32 720,297.7 721,297.08 722,296.45 723,295.83 724,295.19 725,294.55 726,293.88 727,293.21 728,292.52 729,291.83 730,291.14 731,290.44 732,289.74 733,289.05 734,288.36 735,287.68 736,287.02 737,286.37 738,285.73 739,285.11 740,284.52 741,283.95 742,283.41 743,282.88 744,282.35 745,281.81 746,281.29 747,280.78 748,280.29 749,279.82 750,279.39 751,278.99 752,278.64 753,278.35 754,278.11 755,277.88 756,277.65 757,277.44 758,277.27 759,277.12 760,277.03 761,277 762,277.06 763,277.22 764,277.46 765,277.78 766,278.14 767,278.55 768,278.97 769,279.39 770,279.82 771,280.32 772,280.89 773,281.52 774,282.19 775,282.89 776,283.6 777,284.3 778,284.97 779,285.6 780,286.2 781,286.81 782,287.41 783,288 784,288.6 785,289.19 786,289.78 787,290.37 788,290.95 789,291.53 790,292.1 791,292.67 792,293.24 793,293.8 794,294.36 795,294.92 796,295.46 797,296.01 798,296.55 799,297.08 800,297.61 801,298.13 802,298.65 803,299.17 804,299.68 805,300.19 806,300.69 807,301.19 808,301.69 809,302.19 810,302.68 811,303.17 812,303.65 813,304.14 814,304.62 815,305.1 816,305.58 817,306.05 818,306.53 819,307.01 820,307.49 821,307.97 822,308.45 823,308.93 824,309.41 825,309.88 826,310.36 827,310.82 828,311.28 829,311.74 830,312.19 831,312.62 832,313.05 833,313.47 834,313.88 835,314.28 836,314.66 837,315.04 838,315.41 839,315.77 840,316.13 841,316.48 842,316.83 843,317.18 844,317.51 845,317.84 846,318.17 847,318.49 848,318.8 849,319.1 850,319.4 851,319.69 852,319.97 853,320.25 854,320.52 855,320.77 856,321.03 857,321.28 858,321.52 859,321.76 860,322 861,322.23 862,322.46 863,322.68 864,322.9 865,323.11 866,323.32 867,323.52 868,323.72 869,323.91 870,324.1 871,324.27 872,324.45 873,324.61 874,324.77 875,324.92 876,325.07 877,325.22 878,325.36 879,325.51 880,325.65 881,325.78 882,325.91 883,326.04 884,326.17 885,326.29 886,326.4 887,326.51 888,326.62 889,326.72 890,326.82 891,326.91 892,327 893,327.08 894,327.16 895,327.24 896,327.32 897,327.39 898,327.46 899,327.53 900,327.6 901,327.67 902,327.74 903,327.8 904,327.86 905,327.91 906,327.96 907,328.01 908,328.06 909,328.1 910,328.14 911,328.17 912,328.2 913,328.22 914,328.24 915,328.26 916,328.28 917,328.3 918,328.31 919,328.33 920,328.35 921,328.36 922,328.37 923,328.39 924,328.4 925,328.41 926,328.42 927,328.43 928,328.45 929,328.46 930,328.47 931,328.48 932,328.5 933,328.51 934,328.52 935,328.54 936,328.55 937,328.56 938,328.57"/>
<polyline fill="none" stroke="#25932a" stroke-width="1.62" stroke-linejoin="round" stroke-linecap="butt"  points="586,331.96 587,331.92 588,331.89 589,331.84 590,331.8 591,331.75 592,331.7 593,331.65 594,331.6 595,331.54 596,331.49 597,331.43 598,331.37 599,331.31 600,331.24 601,331.18 602,331.12 603,331.05 604,330.98 605,330.91 606,330.84 607,330.77 608,330.7 609,330.63 610,330.55 611,330.48 612,330.4 613,330.33 614,330.25 615,330.17 616,330.1 617,330.02 618,329.94 619,329.86 620,329.78 621,329.7 622,329.61 623,329.53 624,329.44 625,329.35 626,329.26 627,329.17 628,329.08 629,328.99 630,328.89 631,328.8 632,328.7 633,328.6 634,328.5 635,328.4 636,328.3 637,328.2 638,328.09 639,327.99 640,327.88 641,327.77 642,327.66 643,327.56 644,327.45 645,327.34 646,327.22 647,327.11 648,327 649,326.88 650,326.76 651,326.64 652,326.52 653,326.4 654,326.27 655,326.14 656,326.01 657,325.88 658,325.75 659,325.62 660,325.48 661,325.35 662,325.21 663,325.07 664,324.94 665,324.8 666,324.66 667,324.52 668,324.38 669,324.24 670,324.09 671,323.95 672,323.81 673,323.67 674,323.53 675,323.38 676,323.24 677,323.1 678,322.96 679,322.82 680,322.67 681,322.53 682,322.39 683,322.24 684,322.1 685,321.95 686,321.81 687,321.66 688,321.51 689,321.37 690,321.22 691,321.07 692,320.92 693,320.77 694,320.61 695,320.46 696,320.31 697,320.15 698,319.99 699,319.84 700,319.68 701,319.52 702,319.36 703,319.2 704,319.03 705,318.87 706,318.7 707,318.52 708,318.34 709,318.16 710,317.97 711,317.79 712,317.6 713,317.41 714,317.22 715,317.03 716,316.85 717,316.66 718,316.48 719,316.3 720,316.13 721,315.96 722,315.79 723,315.63 724,315.48 725,315.32 726,315.17 727,315.01 728,314.86 729,314.71 730,314.56 731,314.41 732,314.27 733,314.13 734,313.99 735,313.85 736,313.72 737,313.59 738,313.47 739,313.35 740,313.23 741,313.12 742,313.02 743,312.92 744,312.81 745,312.71 746,312.6 747,312.49 748,312.39 749,312.28 750,312.18 751,312.08 752,311.98 753,311.9 754,311.81 755,311.74 756,311.67 757,311.62 758,311.57 759,311.53 760,311.51 761,311.5 762,311.51 763,311.54 764,311.6 765,311.68 766,311.78 767,311.89 768,312.02 769,312.16 770,312.31 771,312.47 772,312.63 773,312.8 774,312.96 775,313.12 776,313.28 777,313.43 778,313.57 779,313.7 780,313.82 781,313.94 782,314.05 783,314.16 784,314.27 785,314.37 786,314.48 787,314.59 788,314.7 789,314.81 790,314.92 791,315.03 792,315.15 793,315.28 794,315.4 795,315.54 796,315.68 797,315.83 798,315.98 799,316.16 800,316.37 801,316.59 802,316.84 803,317.09 804,317.34 805,317.58 806,317.8 807,318 808,318.16 809,318.32 810,318.47 811,318.61 812,318.75 813,318.89 814,319.02 815,319.15 816,319.27 817,319.4 818,319.51 819,319.63 820,319.74 821,319.85 822,319.96 823,320.06 824,320.17 825,320.27 826,320.37 827,320.47 828,320.57 829,320.67 830,320.77 831,320.87 832,320.97 833,321.08 834,321.18 835,321.28 836,321.39 837,321.49 838,321.59 839,321.69 840,321.79 841,321.88 842,321.97 843,322.06 844,322.15 845,322.24 846,322.33 847,322.42 848,322.51 849,322.61 850,322.71 851,322.81 852,322.92 853,323.04 854,323.16 855,323.29 856,323.43 857,323.6 858,323.78 859,323.98 860,324.2 861,324.42 862,324.65 863,324.88 864,325.1 865,325.32 866,325.52 867,325.71 868,325.89 869,326.04 870,326.16 871,326.26 872,326.35 873,326.43 874,326.51 875,326.59 876,326.66 877,326.73 878,326.79 879,326.85 880,326.91 881,326.97 882,327.02 883,327.08 884,327.13 885,327.18 886,327.23 887,327.28 888,327.33 889,327.38 890,327.43 891,327.48 892,327.53 893,327.59 894,327.65 895,327.7 896,327.76 897,327.82 898,327.88 899,327.95 900,328.01 901,328.07 902,328.12 903,328.18 904,328.24 905,328.29 906,328.35 907,328.39 908,328.44 909,328.49 910,328.53 911,328.56 912,328.59 913,328.62 914,328.65 915,328.68 916,328.7 917,328.73 918,328.75 919,328.77 920,328.79 921,328.81 922,328.83 923,328.85 924,328.87 925,328.89 926,328.9 927,328.92 928,328.94 929,328.95 930,328.97 931,328.98 932,329 933,329.01 934,329.03 935,329.04 936,329.05 937,329.06 938,329.08"/>
<polyline fill="none" stroke="#000" stroke-width="1.62" stroke-linejoin="round" stroke-linecap="butt"  points="586,337.98 587,337.96 588,337.94 589,337.92 590,337.9 591,337.88 592,337.86 593,337.84 594,337.82 595,337.8 596,337.78 597,337.76 598,337.74 599,337.72 600,337.7 601,337.68 602,337.66 603,337.64 604,337.62 605,337.6 606,337.58 607,337.56 608,337.54 609,337.52 610,337.5 611,337.48 612,337.46 613,337.44 614,337.42 615,337.4 616,337.38 617,337.36 618,337.34 619,337.32 620,337.29 621,337.27 622,337.25 623,337.23 624,337.21 625,337.18 626,337.16 627,337.14 628,337.12 629,337.09 630,337.07 631,337.04 632,337.02 633,337 634,336.97 635,336.94 636,336.92 637,336.89 638,336.87 639,336.84 640,336.81 641,336.78 642,336.75 643,336.72 644,336.69 645,336.66 646,336.63 647,336.6 648,336.57 649,336.54 650,336.5 651,336.46 652,336.43 653,336.38 654,336.34 655,336.3 656,336.26 657,336.21 658,336.16 659,336.11 660,336.06 661,336.01 662,335.96 663,335.91 664,335.86 665,335.8 666,335.75 667,335.69 668,335.64 669,335.58 670,335.52 671,335.47 672,335.41 673,335.35 674,335.29 675,335.23 676,335.17 677,335.11 678,335.06 679,335 680,334.94 681,334.88 682,334.82 683,334.76 684,334.7 685,334.65 686,334.59 687,334.53 688,334.48 689,334.42 690,334.37 691,334.31 692,334.26 693,334.21 694,334.16 695,334.11 696,334.06 697,334.01 698,333.96 699,333.92 700,333.87 701,333.83 702,333.79 703,333.75 704,333.71 705,333.67 706,333.63 707,333.6 708,333.56 709,333.52 710,333.49 711,333.45 712,333.42 713,333.38 714,333.35 715,333.31 716,333.28 717,333.25 718,333.21 719,333.18 720,333.15 721,333.12 722,333.09 723,333.06 724,333.03 725,333 726,332.97 727,332.94 728,332.91 729,332.88 730,332.85 731,332.83 732,332.8 733,332.77 734,332.75 735,332.72 736,332.7 737,332.67 738,332.65 739,332.62 740,332.6 741,332.58 742,332.56 743,332.53 744,332.51 745,332.49 746,332.47 747,332.46 748,332.44 749,332.42 750,332.4 751,332.38 752,332.37 753,332.35 754,332.33 755,332.31 756,332.3 757,332.28 758,332.26 759,332.24 760,332.22 761,332.2 762,332.18 763,332.16 764,332.13 765,332.11 766,332.08 767,332.06 768,332.04 769,332.02 770,332.01 771,332 772,332 773,332.01 774,332.02 775,332.04 776,332.06 777,332.09 778,332.12 779,332.15 780,332.19 781,332.23 782,332.27 783,332.31 784,332.35 785,332.4 786,332.44 787,332.48 788,332.52 789,332.56 790,332.6 791,332.64 792,332.67 793,332.71 794,332.75 795,332.79 796,332.83 797,332.87 798,332.91 799,332.95 800,332.99 801,333.04 802,333.08 803,333.12 804,333.16 805,333.21 806,333.25 807,333.29 808,333.34 809,333.38 810,333.42 811,333.46 812,333.5 813,333.54 814,333.58 815,333.62 816,333.66 817,333.7 818,333.73 819,333.77 820,333.81 821,333.85 822,333.88 823,333.92 824,333.96 825,333.99 826,334.03 827,334.07 828,334.11 829,334.14 830,334.18 831,334.22 832,334.26 833,334.29 834,334.33 835,334.37 836,334.4 837,334.44 838,334.48 839,334.51 840,334.55 841,334.59 842,334.62 843,334.66 844,334.69 845,334.73 846,334.76 847,334.8 848,334.83 849,334.87 850,334.9 851,334.94 852,334.97 853,335 854,335.03 855,335.07 856,335.1 857,335.13 858,335.16 859,335.19 860,335.22 861,335.25 862,335.28 863,335.31 864,335.34 865,335.37 866,335.39 867,335.42 868,335.45 869,335.47 870,335.5 871,335.52 872,335.55 873,335.57 874,335.6 875,335.62 876,335.64 877,335.66 878,335.68 879,335.71 880,335.73 881,335.75 882,335.77 883,335.79 884,335.81 885,335.83 886,335.85 887,335.87 888,335.89 889,335.91 890,335.93 891,335.95 892,335.97 893,335.98 894,336 895,336.02 896,336.04 897,336.06 898,336.07 899,336.09 900,336.11 901,336.13 902,336.14 903,336.16 904,336.18 905,336.19 906,336.21 907,336.22 908,336.24 909,336.26 910,336.27 911,336.29 912,336.3 913,336.32 914,336.33 915,336.35 916,336.36 917,336.38 918,336.39 919,336.41 920,336.42 921,336.44 922,336.45 923,336.47 924,336.48 925,336.5 926,336.51 927,336.53 928,336.54 929,336.55 930,336.57 931,336.58 932,336.6 933,336.61 934,336.62 935,336.64 936,336.65 937,336.66 938,336.67"/>
<polyline fill="none" stroke="#000" stroke-width="1.62" stroke-linejoin="round" stroke-linecap="butt"  points="586,349.5 587,349.5 588,349.5 589,349.5 590,349.5 591,349.5 592,349.5 593,349.5 594,349.5 595,349.5 596,349.49 597,349.49 598,349.49 599,349.49 600,349.49 601,349.48 602,349.48 603,349.48 604,349.47 605,349.47 606,349.46 607,349.46 608,349.46 609,349.45 610,349.45 611,349.44 612,349.44 613,349.43 614,349.42 615,349.42 616,349.41 617,349.41 618,349.4 619,349.4 620,349.39 621,349.38 622,349.38 623,349.37 624,349.36 625,349.36 626,349.35 627,349.34 628,349.34 629,349.33 630,349.32 631,349.32 632,349.31 633,349.3 634,349.3 635,349.29 636,349.28 637,349.28 638,349.27 639,349.27 640,349.26 641,349.25 642,349.25 643,349.24 644,349.23 645,349.23 646,349.22 647,349.22 648,349.21 649,349.21 650,349.2 651,349.19 652,349.19 653,349.18 654,349.18 655,349.17 656,349.17 657,349.16 658,349.15 659,349.15 660,349.14 661,349.14 662,349.13 663,349.12 664,349.12 665,349.11 666,349.1 667,349.1 668,349.09 669,349.08 670,349.08 671,349.07 672,349.07 673,349.06 674,349.05 675,349.05 676,349.04 677,349.03 678,349.03 679,349.02 680,349.01 681,349.01 682,349 683,349 684,348.99 685,348.98 686,348.98 687,348.97 688,348.97 689,348.96 690,348.96 691,348.95 692,348.95 693,348.94 694,348.94 695,348.93 696,348.93 697,348.92 698,348.92 699,348.92 700,348.91 701,348.91 702,348.91 703,348.9 704,348.9 705,348.9 706,348.9 707,348.89 708,348.89 709,348.89 710,348.88 711,348.88 712,348.88 713,348.88 714,348.87 715,348.87 716,348.87 717,348.87 718,348.86 719,348.86 720,348.86 721,348.86 722,348.85 723,348.85 724,348.85 725,348.85 726,348.85 727,348.84 728,348.84 729,348.84 730,348.84 731,348.83 732,348.83 733,348.83 734,348.83 735,348.83 736,348.82 737,348.82 738,348.82 739,348.82 740,348.82 741,348.82 742,348.81 743,348.81 744,348.81 745,348.81 746,348.81 747,348.81 748,348.81 749,348.81 750,348.81 751,348.8 752,348.8 753,348.8 754,348.8 755,348.8 756,348.8 757,348.8 758,348.8 759,348.8 760,348.8 761,348.8 762,348.8 763,348.8 764,348.8 765,348.8 766,348.8 767,348.8 768,348.81 769,348.81 770,348.81 771,348.81 772,348.81 773,348.81 774,348.82 775,348.82 776,348.82 777,348.83 778,348.83 779,348.83 780,348.83 781,348.84 782,348.84 783,348.84 784,348.85 785,348.85 786,348.86 787,348.86 788,348.86 789,348.87 790,348.87 791,348.88 792,348.88 793,348.89 794,348.89 795,348.89 796,348.9 797,348.9 798,348.91 799,348.91 800,348.92 801,348.92 802,348.93 803,348.93 804,348.94 805,348.94 806,348.94 807,348.95 808,348.95 809,348.96 810,348.96 811,348.97 812,348.97 813,348.97 814,348.98 815,348.98 816,348.99 817,348.99 818,348.99 819,349 820,349 821,349 822,349.01 823,349.01 824,349.01 825,349.02 826,349.02 827,349.02 828,349.03 829,349.03 830,349.03 831,349.04 832,349.04 833,349.05 834,349.05 835,349.05 836,349.06 837,349.06 838,349.06 839,349.07 840,349.07 841,349.07 842,349.08 843,349.08 844,349.09 845,349.09 846,349.09 847,349.1 848,349.1 849,349.1 850,349.11 851,349.11 852,349.11 853,349.12 854,349.12 855,349.12 856,349.13 857,349.13 858,349.13 859,349.14 860,349.14 861,349.14 862,349.15 863,349.15 864,349.15 865,349.16 866,349.16 867,349.16 868,349.17 869,349.17 870,349.17 871,349.18 872,349.18 873,349.18 874,349.18 875,349.19 876,349.19 877,349.19 878,349.2 879,349.2 880,349.2 881,349.2 882,349.2 883,349.21 884,349.21 885,349.21 886,349.22 887,349.22 888,349.22 889,349.22 890,349.23 891,349.23 892,349.23 893,349.23 894,349.24 895,349.24 896,349.24 897,349.24 898,349.25 899,349.25 900,349.25 901,349.25 902,349.26 903,349.26 904,349.26 905,349.26 906,349.27 907,349.27 908,349.27 909,349.27 910,349.27 911,349.28 912,349.28 913,349.28 914,349.28 915,349.28 916,349.29 917,349.29 918,349.29 919,349.29 920,349.29 921,349.29 922,349.29 923,349.3 924,349.3 925,349.3 926,349.3 927,349.3 928,349.3 929,349.3 930,349.3 931,349.3 932,349.3 933,349.3 934,349.3 935,349.3 936,349.3 937,349.3 938,349.3"/>
<polyline fill="none" stroke="#000" stroke-width="1.62" stroke-linejoin="round" stroke-linecap="butt"  points="586,359.5 587,359.5 588,359.5 589,359.5 590,359.5 591,359.51 592,359.51 593,359.51 594,359.51 595,359.51 596,359.51 597,359.51 598,359.51 599,359.51 600,359.51 601,359.52 602,359.52 603,359.52 604,359.52 605,359.52 606,359.52 607,359.52 608,359.52 609,359.52 610,359.53 611,359.53 612,359.53 613,359.53 614,359.53 615,359.53 616,359.53 617,359.53 618,359.53 619,359.54 620,359.54 621,359.54 622,359.54 623,359.54 624,359.54 625,359.54 626,359.54 627,359.54 628,359.55 629,359.55 630,359.55 631,359.55 632,359.55 633,359.55 634,359.55 635,359.55 636,359.56 637,359.56 638,359.56 639,359.56 640,359.56 641,359.56 642,359.56 643,359.56 644,359.56 645,359.57 646,359.57 647,359.57 648,359.57 649,359.57 650,359.57 651,359.57 652,359.57 653,359.57 654,359.57 655,359.58 656,359.58 657,359.58 658,359.58 659,359.58 660,359.58 661,359.58 662,359.58 663,359.58 664,359.58 665,359.58 666,359.59 667,359.59 668,359.59 669,359.59 670,359.59 671,359.59 672,359.59 673,359.59 674,359.59 675,359.59 676,359.59 677,359.59 678,359.59 679,359.59 680,359.59 681,359.59 682,359.6 683,359.6 684,359.6 685,359.6 686,359.6 687,359.6 688,359.6 689,359.6 690,359.6 691,359.6 692,359.6 693,359.6 694,359.6 695,359.6 696,359.6 697,359.6 698,359.6 699,359.6 700,359.6 701,359.6 702,359.6 703,359.6 704,359.6 705,359.6 706,359.59 707,359.59 708,359.59 709,359.59 710,359.59 711,359.58 712,359.58 713,359.58 714,359.57 715,359.57 716,359.57 717,359.56 718,359.56 719,359.55 720,359.55 721,359.55 722,359.54 723,359.54 724,359.53 725,359.53 726,359.52 727,359.52 728,359.51 729,359.51 730,359.5 731,359.5 732,359.49 733,359.49 734,359.48 735,359.48 736,359.47 737,359.47 738,359.46 739,359.46 740,359.46 741,359.45 742,359.45 743,359.44 744,359.44 745,359.43 746,359.43 747,359.43 748,359.42 749,359.42 750,359.42 751,359.41 752,359.41 753,359.41 754,359.41 755,359.41 756,359.4 757,359.4 758,359.4 759,359.4 760,359.4 761,359.4 762,359.4 763,359.4 764,359.4 765,359.4 766,359.4 767,359.4 768,359.41 769,359.41 770,359.41 771,359.41 772,359.41 773,359.41 774,359.42 775,359.42 776,359.42 777,359.43 778,359.43 779,359.43 780,359.43 781,359.44 782,359.44 783,359.45 784,359.45 785,359.45 786,359.46 787,359.46 788,359.47 789,359.47 790,359.47 791,359.48 792,359.48 793,359.49 794,359.49 795,359.5 796,359.5 797,359.51 798,359.51 799,359.52 800,359.52 801,359.53 802,359.53 803,359.54 804,359.54 805,359.55 806,359.55 807,359.56 808,359.56 809,359.57 810,359.57 811,359.58 812,359.58 813,359.59 814,359.59 815,359.6 816,359.6 817,359.61 818,359.61 819,359.62 820,359.62 821,359.62 822,359.63 823,359.63 824,359.64 825,359.64 826,359.65 827,359.65 828,359.65 829,359.66 830,359.66 831,359.66 832,359.67 833,359.67 834,359.67 835,359.68 836,359.68 837,359.68 838,359.69 839,359.69 840,359.69 841,359.69 842,359.69 843,359.69 844,359.7 845,359.7 846,359.7 847,359.7 848,359.7 849,359.7 850,359.7 851,359.7 852,359.7 853,359.7 854,359.7 855,359.7 856,359.7 857,359.7 858,359.7 859,359.7 860,359.7 861,359.7 862,359.7 863,359.7 864,359.7 865,359.69 866,359.69 867,359.69 868,359.69 869,359.69 870,359.69 871,359.69 872,359.69 873,359.69 874,359.69 875,359.69 876,359.69 877,359.68 878,359.68 879,359.68 880,359.68 881,359.68 882,359.68 883,359.68 884,359.68 885,359.68 886,359.67 887,359.67 888,359.67 889,359.67 890,359.67 891,359.67 892,359.67 893,359.67 894,359.66 895,359.66 896,359.66 897,359.66 898,359.66 899,359.66 900,359.66 901,359.65 902,359.65 903,359.65 904,359.65 905,359.65 906,359.65 907,359.65 908,359.64 909,359.64 910,359.64 911,359.64 912,359.64 913,359.64 914,359.63 915,359.63 916,359.63 917,359.63 918,359.63 919,359.63 920,359.63 921,359.62 922,359.62 923,359.62 924,359.62 925,359.62 926,359.62 927,359.62 928,359.61 929,359.61 930,359.61 931,359.61 932,359.61 933,359.61 934,359.61 935,359.61 936,359.6 937,359.6 938,359.6"/>
<polyline fill="none" stroke="#000" stroke-width="1.62" stroke-linejoin="round" stroke-linecap="butt"  points="586,364.1 587,364.1 588,364.11 589,364.11 590,364.11 591,364.11 592,364.11 593,364.11 594,364.12 595,364.12 596,364.12 597,364.12 598,364.12 599,364.13 600,364.13 601,364.13 602,364.13 603,364.14 604,364.14 605,364.14 606,364.14 607,364.14 608,364.15 609,364.15 610,364.15 611,364.15 612,364.16 613,364.16 614,364.16 615,364.16 616,364.16 617,364.17 618,364.17 619,364.17 620,364.17 621,364.18 622,364.18 623,364.18 624,364.18 625,364.19 626,364.19 627,364.19 628,364.19 629,364.19 630,364.2 631,364.2 632,364.2 633,364.2 634,364.21 635,364.21 636,364.21 637,364.21 638,364.22 639,364.22 640,364.22 641,364.22 642,364.22 643,364.23 644,364.23 645,364.23 646,364.23 647,364.23 648,364.24 649,364.24 650,364.24 651,364.24 652,364.24 653,364.25 654,364.25 655,364.25 656,364.25 657,364.25 658,364.26 659,364.26 660,364.26 661,364.26 662,364.26 663,364.27 664,364.27 665,364.27 666,364.27 667,364.27 668,364.27 669,364.27 670,364.28 671,364.28 672,364.28 673,364.28 674,364.28 675,364.28 676,364.28 677,364.29 678,364.29 679,364.29 680,364.29 681,364.29 682,364.29 683,364.29 684,364.29 685,364.29 686,364.29 687,364.3 688,364.3 689,364.3 690,364.3 691,364.3 692,364.3 693,364.3 694,364.3 695,364.3 696,364.3 697,364.3 698,364.3 699,364.3 700,364.3 701,364.3 702,364.3 703,364.3 704,364.3 705,364.29 706,364.29 707,364.29 708,364.29 709,364.28 710,364.28 711,364.27 712,364.27 713,364.27 714,364.26 715,364.25 716,364.25 717,364.24 718,364.24 719,364.23 720,364.22 721,364.22 722,364.21 723,364.2 724,364.2 725,364.19 726,364.18 727,364.18 728,364.17 729,364.16 730,364.15 731,364.15 732,364.14 733,364.13 734,364.13 735,364.12 736,364.11 737,364.1 738,364.1 739,364.09 740,364.08 741,364.08 742,364.07 743,364.06 744,364.06 745,364.05 746,364.05 747,364.04 748,364.04 749,364.03 750,364.03 751,364.02 752,364.02 753,364.01 754,364.01 755,364.01 756,364.01 757,364 758,364 759,364 760,364 761,364 762,364 763,364 764,364 765,364 766,364 767,364 768,364 769,364 770,364.01 771,364.01 772,364.01 773,364.01 774,364.01 775,364.01 776,364.01 777,364.02 778,364.02 779,364.02 780,364.02 781,364.03 782,364.03 783,364.03 784,364.03 785,364.04 786,364.04 787,364.04 788,364.04 789,364.05 790,364.05 791,364.05 792,364.06 793,364.06 794,364.06 795,364.06 796,364.07 797,364.07 798,364.07 799,364.08 800,364.08 801,364.08 802,364.09 803,364.09 804,364.09 805,364.1 806,364.1 807,364.1 808,364.11 809,364.11 810,364.11 811,364.12 812,364.12 813,364.12 814,364.13 815,364.13 816,364.13 817,364.14 818,364.14 819,364.14 820,364.15 821,364.15 822,364.15 823,364.16 824,364.16 825,364.16 826,364.16 827,364.17 828,364.17 829,364.17 830,364.17 831,364.18 832,364.18 833,364.18 834,364.18 835,364.18 836,364.19 837,364.19 838,364.19 839,364.19 840,364.19 841,364.19 842,364.2 843,364.2 844,364.2 845,364.2 846,364.2 847,364.2 848,364.2 849,364.2 850,364.2 851,364.2 852,364.2 853,364.2 854,364.2 855,364.2 856,364.2 857,364.2 858,364.2 859,364.2 860,364.2 861,364.19 862,364.19 863,364.19 864,364.19 865,364.19 866,364.19 867,364.19 868,364.19 869,364.18 870,364.18 871,364.18 872,364.18 873,364.18 874,364.18 875,364.17 876,364.17 877,364.17 878,364.17 879,364.17 880,364.16 881,364.16 882,364.16 883,364.16 884,364.15 885,364.15 886,364.15 887,364.15 888,364.14 889,364.14 890,364.14 891,364.14 892,364.13 893,364.13 894,364.13 895,364.12 896,364.12 897,364.12 898,364.12 899,364.11 900,364.11 901,364.11 902,364.11 903,364.1 904,364.1 905,364.1 906,364.09 907,364.09 908,364.09 909,364.08 910,364.08 911,364.08 912,364.08 913,364.07 914,364.07 915,364.07 916,364.06 917,364.06 918,364.06 919,364.06 920,364.05 921,364.05 922,364.05 923,364.04 924,364.04 925,364.04 926,364.04 927,364.03 928,364.03 929,364.03 930,364.02 931,364.02 932,364.02 933,364.02 934,364.01 935,364.01 936,364.01 937,364.01 938,364"/>
</g>
<rect x="728" y="52.2" width="68" height="34.6" fill="#fff"/>
<path d="M605.2 74.6H649.8" stroke="#e2222a" stroke-width="1.75" fill="none"/>
<text x="656" y="83" font-size="24.2" text-anchor="start" >1.4 K</text>
<path d="M605.2 102.4H649.8" stroke="#1c1cb4" stroke-width="1.75" fill="none"/>
<text x="656" y="110.8" font-size="24.2" text-anchor="start" >4.2 K</text>
<path d="M605.2 130.2H649.8" stroke="#226c4a" stroke-width="1.75" fill="none"/>
<text x="656" y="138.6" font-size="24.2" text-anchor="start" >10 K</text>
<path d="M605.2 158H649.8" stroke="#d028c2" stroke-width="1.75" fill="none"/>
<text x="656" y="166.4" font-size="24.2" text-anchor="start" >20 K</text>
<path d="M605.2 185.8H649.8" stroke="#7a26cf" stroke-width="1.75" fill="none"/>
<text x="656" y="194.2" font-size="24.2" text-anchor="start" >30 K</text>
<path d="M605.2 213.6H649.8" stroke="#2492d0" stroke-width="1.75" fill="none"/>
<text x="656" y="222" font-size="24.2" text-anchor="start" >40 K</text>
<path d="M605.2 241.4H649.8" stroke="#b61c20" stroke-width="1.75" fill="none"/>
<text x="656" y="249.8" font-size="24.2" text-anchor="start" >55 K</text>
<path d="M796.9 124.6H840.7" stroke="#25932a" stroke-width="1.75" fill="none"/>
<text x="847.6" y="133" font-size="24.2" text-anchor="start" >69 K</text>
<path d="M796.9 152.35H840.7" stroke="#000" stroke-width="1.75" fill="none"/>
<text x="847.6" y="160.75" font-size="24.2" text-anchor="start" >88 K</text>
<path d="M796.9 180.1H840.7" stroke="#000" stroke-width="1.75" fill="none"/>
<text x="847.6" y="188.5" font-size="24.2" text-anchor="start" >126 K</text>
<path d="M796.9 207.85H840.7" stroke="#000" stroke-width="1.75" fill="none"/>
<text x="847.6" y="216.25" font-size="24.2" text-anchor="start" >190 K</text>
<path d="M796.9 235.6H840.7" stroke="#000" stroke-width="1.75" fill="none"/>
<text x="847.6" y="244" font-size="24.2" text-anchor="start" >295 K</text>
<text x="729.3" y="80.6" font-size="24.2" text-anchor="start" >[1–10]</text>
<text x="808.4" y="80.3" font-size="24.2" text-anchor="start" ><tspan class="it" font-size="23.5">μ</tspan><tspan dy="8.9" dx="0.9" font-size="17.6">0</tspan><tspan dy="-8.9" dx="0.7" class="si">H</tspan><tspan dx="-1.4"> = 35 T</tspan></text>
<text x="599.5" y="285.2" font-size="24.2" text-anchor="start" >Sample #1</text>
<text x="585.2" y="50" font-size="24.2" text-anchor="end" >0.04</text>
<text x="585.2" y="135.22" font-size="24.2" text-anchor="end" >0.03</text>
<text x="585.2" y="220.45" font-size="24.2" text-anchor="end" >0.02</text>
<text x="585.2" y="305.68" font-size="24.2" text-anchor="end" >0.01</text>
<text x="585.2" y="390.9" font-size="24.2" text-anchor="end" >0</text>
<text x="591.6" y="410.6" font-size="24.2" text-anchor="middle" >87</text>
<text x="648.37" y="410.6" font-size="24.2" text-anchor="middle" >88</text>
<text x="705.13" y="410.6" font-size="24.2" text-anchor="middle" >89</text>
<text x="761.9" y="410.6" font-size="24.2" text-anchor="middle" >90</text>
<text x="818.67" y="410.6" font-size="24.2" text-anchor="middle" >91</text>
<text x="875.43" y="410.6" font-size="24.2" text-anchor="middle" >92</text>
<text x="932.2" y="410.6" font-size="24.2" text-anchor="middle" >93</text>
<text x="707" y="441.1" font-size="24.2" text-anchor="start" ><tspan class="it" font-size="24.6">θ</tspan><tspan dx="0.4"> (degree)</tspan></text>
<text transform="translate(520.9 262.9) rotate(-90)" font-size="24.2"><tspan class="it" font-size="23">ρ</tspan><tspan dy="8.9" font-size="17.6">c</tspan><tspan dy="-8.9"> (</tspan><tspan class="sr" font-size="26">Ω</tspan> cm)</text>
<text x="0" y="26.4" font-size="32" class="b" transform="translate(499 0) scale(0.94 1)">b</text>
</g>
<g id="panel-c">
<rect x="113.1" y="494.95" width="340.85" height="340.85" fill="none" stroke="#000" stroke-width="1.6"/>
<path d="M198.31 835.8v-9.7M198.31 494.95v9.7M283.52 835.8v-9.7M283.52 494.95v9.7M368.74 835.8v-9.7M368.74 494.95v9.7M113.1 778.99h9.7M453.95 778.99h-9.7M113.1 722.18h9.7M453.95 722.18h-9.7M113.1 665.38h9.7M453.95 665.38h-9.7M113.1 608.57h9.7M453.95 608.57h-9.7M113.1 551.76h9.7M453.95 551.76h-9.7" stroke="#000" stroke-width="1.6" fill="none"/>
<polyline fill="none" stroke="#000" stroke-width="1.65" stroke-linejoin="round" stroke-linecap="butt"  points="113.1,835.6 113.5,835.59 113.9,835.58 114.3,835.57 114.7,835.56 115.1,835.55 115.5,835.54 115.9,835.54 116.3,835.53 116.7,835.52 117.1,835.51 117.5,835.5 117.9,835.49 118.3,835.48 118.7,835.48 119.1,835.47 119.5,835.46 119.9,835.45 120.3,835.44 120.7,835.43 121.1,835.42 121.5,835.41 121.9,835.4 122.3,835.39 122.7,835.38 123.1,835.36 123.5,835.35 123.9,835.34 124.3,835.32 124.7,835.31 125.1,835.3 125.5,835.28 125.9,835.26 126.3,835.25 126.7,835.23 127.1,835.21 127.5,835.19 127.9,835.17 128.3,835.15 128.7,835.12 129.1,835.1 129.5,835.07 129.9,835.05 130.3,835.02 130.7,834.99 131.1,834.97 131.5,834.94 131.9,834.91 132.3,834.88 132.7,834.85 133.1,834.82 133.5,834.79 133.9,834.75 134.3,834.72 134.7,834.69 135.1,834.65 135.5,834.62 135.9,834.58 136.3,834.55 136.7,834.51 137.1,834.48 137.5,834.44 137.9,834.4 138.3,834.36 138.7,834.33 139.1,834.29 139.5,834.25 139.9,834.21 140.3,834.17 140.7,834.13 141.1,834.09 141.5,834.04 141.9,834 142.3,833.95 142.7,833.9 143.1,833.86 143.5,833.81 143.9,833.75 144.3,833.7 144.7,833.65 145.1,833.59 145.5,833.54 145.9,833.48 146.3,833.42 146.7,833.36 147.1,833.3 147.5,833.24 147.9,833.18 148.3,833.12 148.7,833.05 149.1,832.99 149.5,832.92 149.9,832.86 150.3,832.79 150.7,832.72 151.1,832.66 151.5,832.59 151.9,832.52 152.3,832.45 152.7,832.37 153.1,832.3 153.5,832.22 153.9,832.14 154.3,832.05 154.7,831.97 155.1,831.88 155.5,831.79 155.9,831.7 156.3,831.61 156.7,831.51 157.1,831.42 157.5,831.32 157.9,831.22 158.3,831.13 158.7,831.03 159.1,830.93 159.5,830.83 159.9,830.73 160.3,830.64 160.7,830.54 161.1,830.44 161.5,830.34 161.9,830.25 162.3,830.15 162.7,830.06 163.1,829.97 163.5,829.88 163.9,829.79 164.3,829.7 164.7,829.61 165.1,829.52 165.5,829.43 165.9,829.34 166.3,829.26 166.7,829.17 167.1,829.08 167.5,828.99 167.9,828.91 168.3,828.82 168.7,828.73 169.1,828.65 169.5,828.56 169.9,828.47 170.3,828.39 170.7,828.3 171.1,828.21 171.5,828.12 171.9,828.04 172.3,827.95 172.7,827.86 173.1,827.78 173.5,827.69 173.9,827.6 174.3,827.51 174.7,827.42 175.1,827.33 175.5,827.24 175.9,827.15 176.3,827.06 176.7,826.97 177.1,826.88 177.5,826.79 177.9,826.7 178.3,826.6 178.7,826.51 179.1,826.41 179.5,826.32 179.9,826.22 180.3,826.13 180.7,826.03 181.1,825.93 181.5,825.84 181.9,825.74 182.3,825.64 182.7,825.55 183.1,825.45 183.5,825.35 183.9,825.26 184.3,825.16 184.7,825.06 185.1,824.96 185.5,824.86 185.9,824.76 186.3,824.66 186.7,824.56 187.1,824.46 187.5,824.36 187.9,824.26 188.3,824.16 188.7,824.06 189.1,823.95 189.5,823.85 189.9,823.75 190.3,823.64 190.7,823.54 191.1,823.43 191.5,823.32 191.9,823.22 192.3,823.11 192.7,823 193.1,822.89 193.5,822.78 193.9,822.67 194.3,822.56 194.7,822.45 195.1,822.34 195.5,822.22 195.9,822.11 196.3,821.99 196.7,821.88 197.1,821.76 197.5,821.64 197.9,821.52 198.3,821.4 198.7,821.28 199.1,821.15 199.5,821.03 199.9,820.9 200.3,820.77 200.7,820.64 201.1,820.51 201.5,820.38 201.9,820.25 202.3,820.11 202.7,819.97 203.1,819.84 203.5,819.7 203.9,819.56 204.3,819.42 204.7,819.28 205.1,819.13 205.5,818.99 205.9,818.85 206.3,818.7 206.7,818.56 207.1,818.41 207.5,818.26 207.9,818.12 208.3,817.97 208.7,817.82 209.1,817.67 209.5,817.53 209.9,817.38 210.3,817.23 210.7,817.08 211.1,816.93 211.5,816.79 211.9,816.64 212.3,816.49 212.7,816.34 213.1,816.19 213.5,816.04 213.9,815.89 214.3,815.74 214.7,815.59 215.1,815.43 215.5,815.28 215.9,815.13 216.3,814.97 216.7,814.82 217.1,814.66 217.5,814.5 217.9,814.35 218.3,814.19 218.7,814.03 219.1,813.88 219.5,813.72 219.9,813.56 220.3,813.4 220.7,813.24 221.1,813.08 221.5,812.92 221.9,812.76 222.3,812.6 222.7,812.44 223.1,812.28 223.5,812.12 223.9,811.96 224.3,811.8 224.7,811.64 225.1,811.48 225.5,811.32 225.9,811.16 226.3,811 226.7,810.84 227.1,810.68 227.5,810.52 227.9,810.36 228.3,810.21 228.7,810.05 229.1,809.89 229.5,809.74 229.9,809.58 230.3,809.42 230.7,809.27 231.1,809.11 231.5,808.96 231.9,808.8 232.3,808.64 232.7,808.49 233.1,808.33 233.5,808.17 233.9,808.01 234.3,807.85 234.7,807.69 235.1,807.53 235.5,807.36 235.9,807.2 236.3,807.03 236.7,806.86 237.1,806.69 237.5,806.52 237.9,806.35 238.3,806.17 238.7,805.99 239.1,805.81 239.5,805.63 239.9,805.45 240.3,805.26 240.7,805.07 241.1,804.87 241.5,804.68 241.9,804.48 242.3,804.28 242.7,804.07 243.1,803.86 243.5,803.66 243.9,803.44 244.3,803.23 244.7,803.02 245.1,802.8 245.5,802.58 245.9,802.36 246.3,802.14 246.7,801.91 247.1,801.69 247.5,801.46 247.9,801.24 248.3,801.01 248.7,800.78 249.1,800.55 249.5,800.32 249.9,800.1 250.3,799.87 250.7,799.64 251.1,799.4 251.5,799.17 251.9,798.94 252.3,798.72 252.7,798.49 253.1,798.26 253.5,798.03 253.9,797.8 254.3,797.57 254.7,797.34 255.1,797.11 255.5,796.88 255.9,796.64 256.3,796.41 256.7,796.18 257.1,795.94 257.5,795.71 257.9,795.47 258.3,795.23 258.7,795 259.1,794.76 259.5,794.52 259.9,794.28 260.3,794.04 260.7,793.8 261.1,793.56 261.5,793.32 261.9,793.08 262.3,792.83 262.7,792.59 263.1,792.34 263.5,792.1 263.9,791.85 264.3,791.61 264.7,791.36 265.1,791.11 265.5,790.86 265.9,790.61 266.3,790.36 266.7,790.11 267.1,789.86 267.5,789.61 267.9,789.36 268.3,789.11 268.7,788.86 269.1,788.61 269.5,788.36 269.9,788.1 270.3,787.85 270.7,787.6 271.1,787.34 271.5,787.09 271.9,786.83 272.3,786.58 272.7,786.32 273.1,786.06 273.5,785.8 273.9,785.54 274.3,785.28 274.7,785.01 275.1,784.75 275.5,784.48 275.9,784.21 276.3,783.94 276.7,783.67 277.1,783.39 277.5,783.12 277.9,782.84 278.3,782.56 278.7,782.27 279.1,781.99 279.5,781.7 279.9,781.41 280.3,781.12 280.7,780.82 281.1,780.53 281.5,780.23 281.9,779.93 282.3,779.63 282.7,779.33 283.1,779.02 283.5,778.72 283.9,778.41 284.3,778.1 284.7,777.78 285.1,777.47 285.5,777.15 285.9,776.83 286.3,776.51 286.7,776.19 287.1,775.86 287.5,775.54 287.9,775.21 288.3,774.88 288.7,774.54 289.1,774.21 289.5,773.87 289.9,773.53 290.3,773.19 290.7,772.85 291.1,772.5 291.5,772.16 291.9,771.81 292.3,771.45 292.7,771.1 293.1,770.74 293.5,770.38 293.9,770.02 294.3,769.66 294.7,769.29 295.1,768.92 295.5,768.55 295.9,768.17 296.3,767.79 296.7,767.41 297.1,767.03 297.5,766.64 297.9,766.25 298.3,765.86 298.7,765.47 299.1,765.07 299.5,764.68 299.9,764.28 300.3,763.87 300.7,763.47 301.1,763.06 301.5,762.65 301.9,762.24 302.3,761.82 302.7,761.41 303.1,760.99 303.5,760.57 303.9,760.15 304.3,759.72 304.7,759.29 305.1,758.86 305.5,758.43 305.9,758 306.3,757.56 306.7,757.12 307.1,756.68 307.5,756.24 307.9,755.79 308.3,755.33 308.7,754.88 309.1,754.42 309.5,753.96 309.9,753.49 310.3,753.03 310.7,752.56 311.1,752.08 311.5,751.61 311.9,751.13 312.3,750.65 312.7,750.17 313.1,749.68 313.5,749.2 313.9,748.71 314.3,748.22 314.7,747.72 315.1,747.23 315.5,746.73 315.9,746.24 316.3,745.74 316.7,745.23 317.1,744.73 317.5,744.23 317.9,743.72 318.3,743.22 318.7,742.71 319.1,742.2 319.5,741.69 319.9,741.18 320.3,740.66 320.7,740.14 321.1,739.62 321.5,739.1 321.9,738.58 322.3,738.05 322.7,737.52 323.1,736.99 323.5,736.45 323.9,735.92 324.3,735.38 324.7,734.84 325.1,734.3 325.5,733.75 325.9,733.21 326.3,732.66 326.7,732.11 327.1,731.56 327.5,731.01 327.9,730.45 328.3,729.9 328.7,729.34 329.1,728.78 329.5,728.22 329.9,727.66 330.3,727.09 330.7,726.53 331.1,725.96 331.5,725.4 331.9,724.83 332.3,724.26 332.7,723.69 333.1,723.12 333.5,722.55 333.9,721.98 334.3,721.41 334.7,720.83 335.1,720.26 335.5,719.68 335.9,719.1 336.3,718.52 336.7,717.94 337.1,717.35 337.5,716.76 337.9,716.17 338.3,715.57 338.7,714.97 339.1,714.36 339.5,713.75 339.9,713.13 340.3,712.51 340.7,711.88 341.1,711.25 341.5,710.61 341.9,709.96 342.3,709.31 342.7,708.65 343.1,707.98 343.5,707.3 343.9,706.61 344.3,705.92 344.7,705.22 345.1,704.52 345.5,703.81 345.9,703.09 346.3,702.37 346.7,701.65 347.1,700.92 347.5,700.19 347.9,699.45 348.3,698.71 348.7,697.97 349.1,697.23 349.5,696.49 349.9,695.74 350.3,694.99 350.7,694.24 351.1,693.5 351.5,692.75 351.9,692 352.3,691.25 352.7,690.5 353.1,689.75 353.5,688.99 353.9,688.23 354.3,687.47 354.7,686.7 355.1,685.93 355.5,685.16 355.9,684.39 356.3,683.62 356.7,682.84 357.1,682.06 357.5,681.28 357.9,680.5 358.3,679.71 358.7,678.93 359.1,678.14 359.5,677.35 359.9,676.56 360.3,675.77 360.7,674.98 361.1,674.18 361.5,673.39 361.9,672.59 362.3,671.8 362.7,671 363.1,670.2 363.5,669.41 363.9,668.61 364.3,667.82 364.7,667.02 365.1,666.22 365.5,665.42 365.9,664.62 366.3,663.81 366.7,662.99 367.1,662.17 367.5,661.33 367.9,660.49 368.3,659.63 368.7,658.76 369.1,657.89 369.5,657 369.9,656.11 370.3,655.2 370.7,654.29 371.1,653.37 371.5,652.45 371.9,651.51 372.3,650.57 372.7,649.62 373.1,648.67 373.5,647.71 373.9,646.75 374.3,645.78 374.7,644.81 375.1,643.83 375.5,642.86 375.9,641.89 376.3,640.95 376.7,640.03 377.1,639.1 377.5,638.17 377.9,637.23 378.3,636.26 378.7,635.26 379.1,634.22 379.5,633.13 379.9,631.99 380.3,630.8 380.7,629.53 381.1,628.01 381.5,626.19 381.9,624.21 382.3,622.18 382.7,620.24 383.1,618.5 383.5,617.07 383.9,615.76 384.3,614.55 384.7,613.39 385.1,612.24 385.5,611.07 385.9,609.83 386.3,608.49 386.7,607.01 387.1,605.2 387.5,602.78 387.9,600.18 388.3,597.84 388.7,596.18 389.1,594.9 389.5,593.78 389.9,592.78 390.3,591.87 390.7,591.01 391.1,590.15 391.5,589.26 391.9,588.3 392.3,587.23 392.7,586.01 393.1,584.6 393.5,582.41 393.9,579.68 394.3,577.01 394.7,575.01 395.1,573.64 395.5,572.49 395.9,571.48 396.3,570.52 396.7,569.51 397.1,568.37 397.5,567 397.9,565.07 398.3,562.08 398.7,558.78 399.1,555.95 399.5,554.13 399.9,552.58 400.3,551.19 400.7,549.92 401.1,548.74 401.5,547.61 401.9,546.52 402.3,545.42 402.7,544.29 403.1,543.1 403.5,541.96 403.9,540.93 404.3,539.95 404.7,538.95 405.1,537.85 405.5,536.6 405.9,535.11 406.3,533.16 406.7,529.57 406.9,527.7"/>
<polyline fill="none" stroke="#1f4fd2" stroke-width="1.7" stroke-linejoin="round" stroke-linecap="butt"  points="113.1,835.6 113.6,835.59 114.1,835.58 114.6,835.56 115.1,835.55 115.6,835.54 116.1,835.53 116.6,835.52 117.1,835.51 117.6,835.5 118.1,835.49 118.6,835.48 119.1,835.46 119.6,835.45 120.1,835.44 120.6,835.43 121.1,835.42 121.6,835.4 122.1,835.39 122.6,835.38 123.1,835.36 123.6,835.35 124.1,835.33 124.6,835.31 125.1,835.3 125.6,835.28 126.1,835.26 126.6,835.23 127.1,835.21 127.6,835.19 128.1,835.16 128.6,835.13 129.1,835.11 129.6,835.08 130.1,835.05 130.6,835.01 131.1,834.98 131.6,834.95 132.1,834.91 132.6,834.88 133.1,834.84 133.6,834.81 134.1,834.77 134.6,834.73 135.1,834.69 135.6,834.66 136.1,834.62 136.6,834.58 137.1,834.54 137.6,834.5 138.1,834.46 138.6,834.42 139.1,834.37 139.6,834.33 140.1,834.29 140.6,834.25 141.1,834.21 141.6,834.16 142.1,834.12 142.6,834.07 143.1,834.03 143.6,833.98 144.1,833.93 144.6,833.88 145.1,833.83 145.6,833.78 146.1,833.73 146.6,833.68 147.1,833.63 147.6,833.57 148.1,833.52 148.6,833.46 149.1,833.41 149.6,833.35 150.1,833.29 150.6,833.23 151.1,833.17 151.6,833.11 152.1,833.05 152.6,832.99 153.1,832.93 153.6,832.87 154.1,832.81 154.6,832.74 155.1,832.68 155.6,832.61 156.1,832.55 156.6,832.48 157.1,832.41 157.6,832.34 158.1,832.27 158.6,832.2 159.1,832.13 159.6,832.05 160.1,831.98 160.6,831.9 161.1,831.82 161.6,831.74 162.1,831.66 162.6,831.58 163.1,831.5 163.6,831.42 164.1,831.34 164.6,831.25 165.1,831.17 165.6,831.08 166.1,830.99 166.6,830.91 167.1,830.82 167.6,830.73 168.1,830.64 168.6,830.55 169.1,830.46 169.6,830.37 170.1,830.28 170.6,830.19 171.1,830.1 171.6,830.01 172.1,829.92 172.6,829.83 173.1,829.74 173.6,829.64 174.1,829.55 174.6,829.46 175.1,829.37 175.6,829.27 176.1,829.18 176.6,829.09 177.1,829 177.6,828.9 178.1,828.81 178.6,828.71 179.1,828.61 179.6,828.52 180.1,828.42 180.6,828.32 181.1,828.22 181.6,828.12 182.1,828.02 182.6,827.92 183.1,827.82 183.6,827.72 184.1,827.62 184.6,827.52 185.1,827.41 185.6,827.31 186.1,827.21 186.6,827.1 187.1,827 187.6,826.89 188.1,826.79 188.6,826.68 189.1,826.58 189.6,826.47 190.1,826.37 190.6,826.26 191.1,826.15 191.6,826.04 192.1,825.94 192.6,825.83 193.1,825.72 193.6,825.61 194.1,825.5 194.6,825.4 195.1,825.29 195.6,825.18 196.1,825.07 196.6,824.96 197.1,824.85 197.6,824.74 198.1,824.63 198.6,824.53 199.1,824.42 199.6,824.31 200.1,824.19 200.6,824.08 201.1,823.97 201.6,823.86 202.1,823.75 202.6,823.64 203.1,823.53 203.6,823.41 204.1,823.3 204.6,823.19 205.1,823.07 205.6,822.96 206.1,822.85 206.6,822.73 207.1,822.62 207.6,822.5 208.1,822.39 208.6,822.27 209.1,822.15 209.6,822.04 210.1,821.92 210.6,821.8 211.1,821.69 211.6,821.57 212.1,821.45 212.6,821.33 213.1,821.22 213.6,821.1 214.1,820.98 214.6,820.86 215.1,820.74 215.6,820.62 216.1,820.5 216.6,820.38 217.1,820.26 217.6,820.14 218.1,820.02 218.6,819.9 219.1,819.78 219.6,819.65 220.1,819.53 220.6,819.41 221.1,819.28 221.6,819.16 222.1,819.04 222.6,818.91 223.1,818.79 223.6,818.66 224.1,818.53 224.6,818.41 225.1,818.28 225.6,818.15 226.1,818.03 226.6,817.9 227.1,817.77 227.6,817.64 228.1,817.51 228.6,817.38 229.1,817.25 229.6,817.12 230.1,816.99 230.6,816.86 231.1,816.73 231.6,816.6 232.1,816.47 232.6,816.34 233.1,816.21 233.6,816.08 234.1,815.95 234.6,815.82 235.1,815.69 235.6,815.56 236.1,815.43 236.6,815.3 237.1,815.17 237.6,815.04 238.1,814.9 238.6,814.77 239.1,814.64 239.6,814.51 240.1,814.38 240.6,814.25 241.1,814.12 241.6,813.99 242.1,813.86 242.6,813.72 243.1,813.58 243.6,813.45 244.1,813.31 244.6,813.17 245.1,813.03 245.6,812.89 246.1,812.75 246.6,812.61 247.1,812.47 247.6,812.33 248.1,812.19 248.6,812.05 249.1,811.92 249.6,811.78 250.1,811.65 250.6,811.51 251.1,811.38 251.6,811.25 252.1,811.12 252.6,810.99 253.1,810.87 253.6,810.75 254.1,810.63 254.6,810.51 255.1,810.4 255.6,810.29 256.1,810.18 256.6,810.07 257.1,809.97 257.6,809.86 258.1,809.76 258.6,809.66 259.1,809.55 259.6,809.45 260.1,809.35 260.6,809.26 261.1,809.16 261.6,809.06 262.1,808.97 262.6,808.88 263.1,808.79 263.6,808.7 264.1,808.62 264.6,808.53 265.1,808.45 265.6,808.37 266.1,808.29 266.6,808.22 267.1,808.15 267.6,808.08 268.1,808.01 268.6,807.95 269.1,807.89 269.6,807.82 270.1,807.76 270.6,807.7 271.1,807.64 271.6,807.58 272.1,807.53 272.6,807.48 273.1,807.43 273.6,807.38 274.1,807.34 274.6,807.29 275.1,807.26 275.6,807.22 276.1,807.19 276.6,807.17 277.1,807.14 277.6,807.11 278.1,807.09 278.6,807.06 279.1,807.04 279.6,807.02 280.1,807 280.6,806.98 281.1,806.96 281.6,806.95 282.1,806.93 282.6,806.92 283.1,806.91 283.6,806.9 284.1,806.9 284.6,806.89 285.1,806.89 285.6,806.88 286.1,806.88 286.6,806.87 287.1,806.87 287.6,806.86 288.1,806.86 288.6,806.86 289.1,806.85 289.6,806.85 290.1,806.85 290.6,806.84 291.1,806.84 291.6,806.84 292.1,806.84 292.6,806.83 293.1,806.83 293.6,806.83 294.1,806.83 294.6,806.83 295.1,806.82 295.6,806.82 296.1,806.82 296.6,806.82 297.1,806.81 297.6,806.81 298.1,806.81 298.6,806.81 299.1,806.8 299.6,806.8 300.1,806.8 300.6,806.8 301.1,806.79 301.6,806.79 302.1,806.79 302.6,806.78 303.1,806.78 303.6,806.78 304.1,806.77 304.6,806.77 305.1,806.77 305.6,806.76 306.1,806.76 306.6,806.76 307.1,806.75 307.6,806.75 308.1,806.75 308.6,806.74 309.1,806.74 309.6,806.74 310.1,806.73 310.6,806.73 311.1,806.73 311.6,806.72 312.1,806.72 312.6,806.72 313.1,806.72 313.6,806.71 314.1,806.71 314.6,806.71 315.1,806.71 315.6,806.71 316.1,806.7 316.6,806.7 317.1,806.7 317.6,806.7 318.1,806.7 318.6,806.7 319.1,806.7 319.6,806.7 320.1,806.7 320.6,806.7 321.1,806.7 321.6,806.7 322.1,806.7 322.6,806.71 323.1,806.71 323.6,806.71 324.1,806.71 324.6,806.71 325.1,806.72 325.6,806.72 326.1,806.72 326.6,806.73 327.1,806.73 327.6,806.73 328.1,806.74 328.6,806.74 329.1,806.74 329.6,806.75 330.1,806.75 330.6,806.76 331.1,806.76 331.6,806.77 332.1,806.77 332.6,806.78 333.1,806.78 333.6,806.79 334.1,806.79 334.6,806.8 335.1,806.8 335.6,806.81 336.1,806.82 336.6,806.82 337.1,806.84 337.6,806.85 338.1,806.86 338.6,806.87 339.1,806.89 339.6,806.9 340.1,806.92 340.6,806.94 341.1,806.96 341.6,806.98 342.1,806.99 342.6,807.01 343.1,807.03 343.6,807.05 344.1,807.07 344.6,807.1 345.1,807.12 345.6,807.14 346.1,807.16 346.6,807.18 347.1,807.2 347.6,807.22 348.1,807.23 348.6,807.25 349.1,807.27 349.6,807.29 350.1,807.3 350.6,807.32 351.1,807.34 351.6,807.35 352.1,807.37 352.6,807.39 353.1,807.41 353.6,807.43 354.1,807.45 354.6,807.47 355.1,807.49 355.6,807.51 356.1,807.53 356.6,807.55 357.1,807.57 357.6,807.59 358.1,807.61 358.6,807.63 359.1,807.65 359.6,807.67 360.1,807.68 360.6,807.7 361.1,807.72 361.6,807.74 362.1,807.75 362.6,807.77 363.1,807.79 363.6,807.8 364.1,807.81 364.6,807.83 365.1,807.84 365.6,807.85 366.1,807.86 366.6,807.87 367.1,807.88 367.6,807.89 368.1,807.89 368.6,807.9 369.1,807.9 369.6,807.9 370.1,807.9 370.6,807.9 371.1,807.9 371.6,807.9 372.1,807.9 372.6,807.9 373.1,807.9 373.6,807.9 374.1,807.9 374.6,807.9 375.1,807.9 375.6,807.9 376.1,807.9 376.6,807.9 377.1,807.9 377.6,807.9 378.1,807.9 378.6,807.9 379.1,807.9 379.6,807.9 380.1,807.9 380.6,807.9 381.1,807.9 381.6,807.9 382.1,807.9 382.6,807.9 383.1,807.9 383.6,807.9 384.1,807.9 384.6,807.9 385.1,807.9 385.6,807.9 386.1,807.89 386.6,807.89 387.1,807.88 387.6,807.87 388.1,807.86 388.6,807.85 389.1,807.83 389.6,807.81 390.1,807.8 390.6,807.78 391.1,807.76 391.6,807.73 392.1,807.71 392.6,807.69 393.1,807.66 393.6,807.64 394.1,807.61 394.6,807.58 395.1,807.55 395.6,807.52 396.1,807.49 396.6,807.46 397.1,807.42 397.6,807.38 398.1,807.33 398.6,807.27 399.1,807.21 399.6,807.15 400.1,807.08 400.6,807.01 401.1,806.93 401.6,806.85 402.1,806.76 402.6,806.67 403.1,806.58 403.6,806.47 404.1,806.33 404.6,806.17 405.1,806.01 405.6,805.83 406.1,805.65 406.6,805.47 407.1,805.3 407.4,805.2"/>
<text x="154.2" y="545.5" font-size="24.2" text-anchor="start" ><tspan class="si">T</tspan><tspan dx="-2.4" dy="1.7"> =</tspan><tspan dy="-1.7"> 1.8 K</tspan></text>
<text x="143.8" y="580.8" font-size="24.2" text-anchor="start" >Sample #3</text>
<text x="256" y="663.2" font-size="24.2" text-anchor="start" ><tspan class="it" font-size="25">θ</tspan><tspan dx="-1.2"> = </tspan><tspan dx="0.6">23.0</tspan><tspan dy="-8" font-size="17.5">0</tspan></text>
<text x="351.4" y="763.1" font-size="24.2" text-anchor="start" >22.7<tspan dy="-8" font-size="17.5">0</tspan></text>
<text x="105.6" y="843.9" font-size="24.2" text-anchor="end" >0</text>
<text x="105.6" y="787.09" font-size="24.2" text-anchor="end" >1,000</text>
<text x="105.6" y="730.28" font-size="24.2" text-anchor="end" >2,000</text>
<text x="105.6" y="673.48" font-size="24.2" text-anchor="end" >3,000</text>
<text x="105.6" y="616.67" font-size="24.2" text-anchor="end" >4,000</text>
<text x="105.6" y="559.86" font-size="24.2" text-anchor="end" >5,000</text>
<text x="105.6" y="503.05" font-size="24.2" text-anchor="end" >6,000</text>
<text x="112.7" y="863.9" font-size="24.2" text-anchor="middle" >0</text>
<text x="197.91" y="863.9" font-size="24.2" text-anchor="middle" >10</text>
<text x="283.12" y="863.9" font-size="24.2" text-anchor="middle" >20</text>
<text x="368.34" y="863.9" font-size="24.2" text-anchor="middle" >30</text>
<text x="453.55" y="863.9" font-size="24.2" text-anchor="middle" >40</text>
<text x="246" y="894.7" font-size="24.2" text-anchor="start" ><tspan class="it" font-size="23.5">μ</tspan><tspan dy="8.9" dx="0.9" font-size="17.6">0</tspan><tspan dy="-8.9" dx="0.4" class="si">H</tspan><tspan dx="-0.8"> (T)</tspan></text>
<text transform="translate(20.6 696.2) rotate(-90)" font-size="24.2"><tspan class="it" font-size="23">ρ</tspan><tspan dy="8.9" font-size="17.6">c</tspan><tspan dy="-8.9" dx="1.2"> / </tspan><tspan class="it" font-size="23" dx="1.2">ρ</tspan><tspan dy="8.4" font-size="16.6">0</tspan></text>
<text x="0" y="483.5" font-size="32" class="b" transform="translate(0.2 0) scale(0.94 1)">c</text>
</g>
<g id="panel-d">
<rect x="590.8" y="494.9" width="340.9" height="340.9" fill="none" stroke="#000" stroke-width="1.6"/>
<path d="M676.02 835.8v-9.7M676.02 494.9v9.7M761.25 835.8v-9.7M761.25 494.9v9.7M846.48 835.8v-9.7M846.48 494.9v9.7M590.8 755.64h9.7M931.7 755.64h-9.7M590.8 675.47h9.7M931.7 675.47h-9.7M590.8 595.31h9.7M931.7 595.31h-9.7M590.8 515.14h9.7M931.7 515.14h-9.7" stroke="#000" stroke-width="1.6" fill="none"/>
<polyline fill="none" stroke="#000" stroke-width="1.75" stroke-linejoin="round" stroke-linecap="butt"  points="590.5,835.3 591,833.4 591.5,831.46 592,829.52 592.5,827.59 593,825.7 593.5,823.87 594,822.13 594.5,820.88 595,819.86 595.5,818.93 596,818.05 596.5,817.14 597,816.15 597.47,815 597.98,813.2 598.48,810.77 599.02,808.17 599.47,805.51 600.01,802.99 600.51,800.83 601.05,798.78 601.57,796.76 602.07,794.76 602.52,792.81 602.91,790.82 603.29,788.96 603.91,787.16 604.41,785.47 604.99,783.73 605.49,781.89 605.92,779.86 606.5,777.26 606.78,774.39 607.34,771.4 607.7,768.33 608.47,765.32 609.17,762.46 609.75,760.08 610.2,757.97 610.53,755.99 611.11,754.02 611.46,752.08 611.81,750.11 612.06,748.04 612.67,746.01 613.59,744.05 614.32,742.12 614.73,740.13 615.19,738.01 615.69,735.71 616.28,733.32 616.57,730.93 617.03,728.45 617.48,725.96 617.75,723.38 618.33,720.93 618.86,718.49 619.73,716.13 620.11,713.74 620.34,711.3 620.64,708.82 621.45,706.44 622.19,704.07 622.57,701.68 622.6,699.14 622.98,696.6 623.57,694.23 624.06,691.78 625,689.38 625.51,686.84 626.24,684.49 626.73,682.13 627.57,679.85 628.02,677.71 628.31,675.39 628.67,673.08 629.17,670.71 629.25,668.76 629.73,666.86 630.45,665.08 631.41,663.21 631.58,661.19 631.85,659.23 632.13,657.26 632.76,655.46 633.59,653.75 634.57,652 635.31,650.46 635.64,648.8 635.94,647.2 636.28,645.45 636.64,643.89 636.82,642.4 637.31,640.68 638.36,638.95 639.22,637.37 639.65,635.93 639.51,634.33 639.61,632.68 640.28,631.01 640.98,629.46 641.34,627.81 641.87,626.19 642.14,624.56 643.31,623.02 643.74,621.38 644.77,619.8 644.83,618.12 645.23,616.39 645.4,614.68 646.25,612.85 646.95,611.36 647.09,609.75 647.39,608.15 647.76,606.51 648.45,605.02 648.75,604.02 649.66,603.06 650.17,602.15 650.62,601.23 650.86,600.18 651.48,599.17 652.16,597.96 652.7,596.68 653.28,595.18 653.88,593.57 654.42,592.06 654.88,590.72 655.15,589.5 655.34,588.39 655.65,587.13 656.34,586.2 656.68,585.25 656.87,584.38 657.34,583.16 657.78,582.05 658.25,580.89 658.82,579.65 659.47,578.2 660.54,577.06 660.83,575.84 661.23,574.83 661.32,573.48 661.83,572.35 662.53,571.23 663.12,570.42 663.68,569.49 663.88,568.59 664.58,567.5 664.73,566.7 665.54,566.03 666.2,565.39 667.37,564.62 668.32,563.92 668.29,563.21 668.71,562.56 669.1,561.89 670.19,561.11 670.29,560.4 670.61,559.58 671.31,558.91 671.68,558.1 672.2,557.31 672.52,556.28 673.21,555.34 673.73,554.39 673.72,553.41 674.2,552.61 674.37,551.74 675.16,551.25 675.83,550.67 676.75,550.29 676.98,549.82 677.47,549.56 677.97,549.22 678.82,548.87 679.05,548.73 679.48,548.65 679.73,548.39 680.63,548.06 681.05,547.64 681.94,547.44 682.38,546.81 682.38,546.29 682.28,545.62 682.92,545.05 683.79,544.59 684.88,544.34 685.27,544.37 685.65,544.31 686.14,544.21 686.39,543.95 686.59,543.5 687.31,542.8 687.56,542.19 688.68,541.45 688.92,541 689.9,540.45 690,540.09 690.5,539.61 691,539.15 691.5,538.79 692,538 692.5,537.03 693,536.58 693.5,536.87 694,537.79 694.5,538.52 695,539.03 695.5,539.34 696,539.64 696.5,539.32 697,538.89 697.5,537.49 698,536.85 698.5,535.73 699,534.17 699.5,533.31 700,532.21 700.5,531.93 701,531.43 701.5,531.56 702,531.17 702.5,530.65 703,531.09 703.5,532.23 704,533.9 704.5,535.27 705,536.29 705.5,537.09 706,538 706.5,538.47 707,538.71 707.5,537.54 708,536.14 708.5,534.55 709,533.51 709.5,533.28 710,532.17 710.5,531.16 711,529.83 711.5,529.27 712,528.05 712.5,527.06 713,527.15 713.5,528.17 714,529.63 714.5,531.62 715,532.94 715.5,533.92 716,533.89 716.5,534.7 717,535.02 717.5,536.01 718,536.12 718.5,536.4 719,536.44 719.5,536.67 720,536.63 720.5,536.44 721,535.74 721.5,533.74 722,531.68 722.5,529.66 723,528 723.5,526.47 724,525.48 724.5,525.08 725,524.66 725.5,523.87 726,523.34 726.5,524.46 727,525.18 727.5,525.93 728,526.24 728.5,527.68 729,529.17 729.5,530.84 730,532.17 730.5,534.14 731,536.53 731.5,538.9 732,541.13 732.5,542.7 733,543.34 733.5,542.07 734,540.54 734.5,539.27 735,538.65 735.5,539.08 736,539.19 736.5,539.86 737,539.47 737.5,537.74 738,535.18 738.5,533.19 739,531.25 739.5,529.64 740,527.54 740.5,525.26 741,523.04 741.5,521.59 742,521.09 742.5,520.93 743,520.44 743.5,520.74 744,521.59 744.5,523.27 745,525.68 745.5,527.62 746,529.69 746.5,531.4 747,534.22 747.5,536.52 748,538.54 748.5,540.53 749,542.78 749.5,544.9 750,546.47 750.5,547.31 751,548.54 751.5,549.25 752,549.86 752.5,550 753,549.96 753.5,549.19 754,548.62 754.5,548.37 755,548.06 755.5,546.91 756,545.38 756.5,544.06 757,543.2 757.5,542.2 758,541.11 758.5,539.49 759,538.04 759.5,536.46 760,534.55 760.5,532.62 761,530.49 761.5,529.08 762,526.9 762.5,525.6 763,524.37 763.5,524.19 764,523.13 764.5,523.81 765,526.34 765.5,529.33 766,529.59 766.5,529.18 767,529.18 767.5,530.6 768,532.63 768.5,535.09 769,537.44 769.5,539.88 770,542.38 770.5,545.06 771,547.44 771.5,549.78 772,551.8 772.5,553.66 773,555.28 773.5,556.95 774,558.8 774.5,559.99 775,561.17 775.5,561.58 776,561.95 776.5,561.93 777,562.05 777.5,562.31 778,562.47 778.5,562.78 779,562.43 779.5,561.79 780,561.11 780.5,560.52 781,560.36 781.5,559.79 782,559.34 782.5,557.81 783,556.04 783.5,554.06 784,552.88 784.5,551.3 785,550.05 785.5,548.31 786,547.1 786.5,544.73 787,542.98 787.5,541.53 788,542.33 788.5,542.8 789,543.49 789.5,542.73 790,541.2 790.5,539.63 791,538.1 791.5,536.25 792,535.24 792.5,534.6 793,534.88 793.5,535.43 794,536.46 794.5,537.24 795,538.54 795.5,539.23 796,540.03 796.5,540.52 797,541.33 797.5,542.08 798,543.5 798.5,545.03 799,546.89 799.5,548.13 800,550.02 800.5,551.85 801,554.37 801.5,556.62 802,559.42 802.5,561.96 803,564.42 803.5,567.19 804,569.59 804.5,571.41 805,572.37 805.5,573.57 806,574.86 806.5,575.1 807,575.64 807.5,576.08 808,576.92 808.5,576.77 809,576.38 809.5,576.51 810,576.53 810.5,577.32 811,577.63 811.5,578.43 812,578.83 812.5,579.07 813,578.92 813.5,578.29 814,577.92 814.5,577.14 815,576.45 815.5,574.98 816,573.96 816.5,572.91 817,571.93 817.5,571.07 818,570.38 818.5,571.09 819,572.29 819.5,573.07 820,573.35 820.5,571.72 821,569.63 821.5,567.64 822,566.85 822.5,566.34 823,565.96 823.5,565.68 824,565.26 824.5,564.85 825,564.71 825.5,563.96 826,562.97 826.5,561.52 827,560.65 827.5,559.42 828,558.59 828.5,558.07 829,557.73 829.5,556.86 830,555.86 830.5,555.56 831,555.04 831.5,554.87 832,553.86 832.5,553.47 833,552.39 833.5,552.3 834,552.22 834.5,552.6 835,552.68 835.5,552.83 836,553.6 836.5,554.64 837,555.14 837.5,555.43 838,555.99 838.5,557.21 839,558.64 839.5,559.42 840,559.99 840.5,560.58 841,561.25 841.5,561.93 842,563.42 842.5,565.29 843,567.23 843.5,568.82 844,570.19 844.5,571.6 845,572.13 845.5,572.99 846,574.33 846.5,576.15 847,577.53 847.5,579.16 848,581.17 848.5,583.58 849,585.53 849.5,587.51 850,587.64 850.5,587.78 851,587.24 851.5,587.42 852,588.11 852.5,591.35 853,594.9 853.5,595.81 854,596.02 854.5,596 855,596.7 855.5,597.52 856,598.16 856.5,597.98 857,598.37 857.5,598.66 858,599.47 858.5,599.98 859,600.45 859.5,601.17 860,601.22 860.5,601.4 861,601.63 861.5,601.98 862,601.63 862.5,600.85 863,600.74 863.5,601.49 864,602.08 864.5,602.69 865,602.7 865.5,603.32 866,603.56 866.5,603.27 867,602.09 867.5,600.49 868,600.07 868.5,599.04 869,599.1 869.5,598.6 870,599.37 870.5,600.03 871,600.31 871.5,600.77 872,599.89 872.5,599.85 873,599.75 873.5,599.31 874,598.69 874.5,598.03 875,597.44 875.5,597.16 876,596.51 876.5,596.73 877,596.09 877.5,595.8 878,595.44 878.5,596.07 879,596.36 879.5,596.6 880,596.9 880.5,597.34 881,596.86 881.5,595.42 882,593.58 882.5,592.14 883,590.22 883.5,587.87 884,586.26 884.5,590.16 885,598.59"/>
<polyline fill="none" stroke="#de1219" stroke-width="3.1" stroke-linejoin="round" stroke-linecap="butt" stroke-dasharray="3 2.9" stroke-dashoffset="1.2" points="590.5,835.3 591,832.69 591.5,830.03 592,827.4 592.5,824.89 593,822.55 593.5,820.39 594,818.34 594.5,816.37 595,814.44 595.5,812.49 596,810.5 596.5,808.53 597,806.58 597.5,804.63 598,802.64 598.5,800.55 599,798.34 599.5,795.94 600,793.38 600.5,790.73 601,788.07 601.5,785.48 602,783.02 602.5,780.7 603,778.45 603.5,776.24 604,774.02 604.5,771.76 605,769.42 605.5,766.99 606,764.48 606.5,761.95 607,759.42 607.5,756.93 608,754.53 608.5,752.17 609,749.85 609.5,747.55 610,745.3 610.5,743.08 611,740.9 611.5,738.79 612,736.75 612.5,734.74 613,732.69 613.5,730.57 614,728.36 614.5,726.1 615,723.79 615.5,721.46 616,719.13 616.5,716.8 617,714.51 617.5,712.26 618,710.07 618.5,707.91 619,705.77 619.5,703.65 620,701.55 620.5,699.47 621,697.42 621.5,695.39 622,693.39 622.5,691.43 623,689.5 623.5,687.6 624,685.74 624.5,683.91 625,682.1 625.5,680.31 626,678.54 626.5,676.79 627,675.05 627.5,673.32 628,671.6 628.5,669.88 629,668.16 629.5,666.44 630,664.75 630.5,663.07 631,661.4 631.5,659.74 632,658.1 632.5,656.46 633,654.83 633.5,653.2 634,651.57 634.5,649.96 635,648.35 635.5,646.76 636,645.19 636.5,643.64 637,642.1 637.5,640.6 638,639.11 638.5,637.66 639,636.23 639.5,634.81 640,633.42 640.5,632.03 641,630.66 641.5,629.3 642,627.95 642.5,626.59 643,625.24 643.5,623.89 644,622.52 644.5,621.16 645,619.78 645.5,618.38 646,616.97 646.5,615.55 647,614.12 647.5,612.68 648,611.25 648.5,609.81 649,608.37 649.5,606.94 650,605.52 650.5,604.12 651,602.73 651.5,601.36 652,600.02 652.5,598.7 653,597.41 653.5,596.15 654,594.92 654.5,593.71 655,592.53 655.5,591.36 656,590.21 656.5,589.09 657,587.98 657.5,586.89 658,585.82 658.5,584.77 659,583.74 659.5,582.73 660,581.74 660.5,580.77 661,579.8 661.5,578.85 662,577.9 662.5,576.96 663,576.03 663.5,575.09 664,574.15 664.5,573.22 665,572.3 665.5,571.39 666,570.49 666.5,569.6 667,568.72 667.5,567.85 668,566.98 668.5,566.12 669,565.26 669.5,564.41 670,563.57 670.5,562.74 671,561.91 671.5,561.1 672,560.3 672.5,559.51 673,558.73 673.5,557.97 674,557.21 674.5,556.47 675,555.75 675.5,555.04 676,554.37 676.5,553.72 677,553.08 677.5,552.47 678,551.87 678.5,551.28 679,550.68 679.5,550.09 680,549.49 680.5,548.89 681,548.28 681.5,547.69 682,547.09 682.5,546.51 683,545.93 683.5,545.37 684,544.82 684.5,544.27 685,543.73 685.5,543.2 686,542.68 686.5,542.18 687,541.68 687.5,541.2 688,540.72 688.5,540.26 689,539.8 689.5,539.35 690,538.91 690.5,538.48 691,538.06 691.5,537.65 692,537.25 692.5,536.87 693,536.5 693.5,536.13 694,535.77 694.5,535.42 695,535.08 695.5,534.74 696,534.42 696.5,534.1 697,533.78 697.5,533.48 698,533.18 698.5,532.88 699,532.59 699.5,532.31 700,532.03 700.5,531.76 701,531.5 701.5,531.24 702,531 702.5,530.76 703,530.52 703.5,530.29 704,530.07 704.5,529.85 705,529.63 705.5,529.43 706,529.23 706.5,529.04 707,528.87 707.5,528.7 708,528.54 708.5,528.38 709,528.23 709.5,528.08 710,527.94 710.5,527.8 711,527.68 711.5,527.55 712,527.44 712.5,527.34 713,527.25 713.5,527.17 714,527.09 714.5,527.01 715,526.93 715.5,526.86 716,526.79 716.5,526.72 717,526.66 717.5,526.61 718,526.57 718.5,526.53 719,526.51 719.5,526.5 720,526.5 720.5,526.5 721,526.5 721.5,526.5 722,526.5 722.5,526.5 723,526.5 723.5,526.5 724,526.5 724.5,526.5 725,526.5 725.5,526.5 726,526.5 726.5,526.51 727,526.52 727.5,526.55 728,526.58 728.5,526.62 729,526.66 729.5,526.71 730,526.76 730.5,526.8 731,526.85 731.5,526.9 732,526.95 732.5,527 733,527.05 733.5,527.11 734,527.17 734.5,527.23 735,527.3 735.5,527.37 736,527.44 736.5,527.52 737,527.6 737.5,527.68 738,527.77 738.5,527.87 739,527.98 739.5,528.09 740,528.21 740.5,528.33 741,528.46 741.5,528.6 742,528.74 742.5,528.89 743,529.04 743.5,529.2 744,529.35 744.5,529.51 745,529.68 745.5,529.84 746,530 746.5,530.17 747,530.34 747.5,530.5 748,530.67 748.5,530.83 749,531 749.5,531.17 750,531.33 750.5,531.51 751,531.68 751.5,531.86 752,532.04 752.5,532.22 753,532.4 753.5,532.59 754,532.77 754.5,532.96 755,533.16 755.5,533.35 756,533.55 756.5,533.74 757,533.94 757.5,534.15 758,534.35 758.5,534.56 759,534.76 759.5,534.97 760,535.18 760.5,535.4 761,535.62 761.5,535.84 762,536.07 762.5,536.3 763,536.54 763.5,536.77 764,537.01 764.5,537.26 765,537.5 765.5,537.75 766,537.99 766.5,538.24 767,538.49 767.5,538.73 768,538.98 768.5,539.23 769,539.48 769.5,539.72 770,539.97 770.5,540.21 771,540.45 771.5,540.69 772,540.92 772.5,541.16 773,541.4 773.5,541.64 774,541.87 774.5,542.11 775,542.35 775.5,542.59 776,542.82 776.5,543.06 777,543.3 777.5,543.54 778,543.78 778.5,544.02 779,544.27 779.5,544.51 780,544.75 780.5,545 781,545.25 781.5,545.5 782,545.75 782.5,546 783,546.25 783.5,546.5 784,546.76 784.5,547.01 785,547.27 785.5,547.52 786,547.78 786.5,548.04 787,548.3 787.5,548.56 788,548.83 788.5,549.09 789,549.36 789.5,549.63 790,549.9 790.5,550.17 791,550.45 791.5,550.73 792,551.01 792.5,551.29 793,551.57 793.5,551.86 794,552.14 794.5,552.43 795,552.72 795.5,553.01 796,553.3 796.5,553.6 797,553.89 797.5,554.18 798,554.47 798.5,554.77 799,555.06 799.5,555.35 800,555.64 800.5,555.94 801,556.23 801.5,556.52 802,556.81 802.5,557.1 803,557.38 803.5,557.67 804,557.96 804.5,558.25 805,558.54 805.5,558.83 806,559.13 806.5,559.42 807,559.71 807.5,560 808,560.29 808.5,560.58 809,560.87 809.5,561.16 810,561.45 810.5,561.74 811,562.03 811.5,562.33 812,562.62 812.5,562.91 813,563.2 813.5,563.49 814,563.79 814.5,564.08 815,564.37 815.5,564.66 816,564.96 816.5,565.25 817,565.54 817.5,565.83 818,566.13 818.5,566.42 819,566.72 819.5,567.01 820,567.3 820.5,567.6 821,567.89 821.5,568.19 822,568.48 822.5,568.78 823,569.07 823.5,569.37 824,569.66 824.5,569.96 825,570.26 825.5,570.55 826,570.85 826.5,571.15 827,571.45 827.5,571.75 828,572.04 828.5,572.34 829,572.64 829.5,572.94 830,573.24 830.5,573.54 831,573.84 831.5,574.14 832,574.44 832.5,574.74 833,575.04 833.5,575.34 834,575.64 834.5,575.94 835,576.24 835.5,576.54 836,576.84 836.5,577.14 837,577.44 837.5,577.74 838,578.04 838.5,578.34 839,578.64 839.5,578.94 840,579.24 840.5,579.54 841,579.84 841.5,580.14 842,580.44 842.5,580.73 843,581.03 843.5,581.33 844,581.63 844.5,581.93 845,582.23 845.5,582.53 846,582.82 846.5,583.12 847,583.42 847.5,583.72 848,584.01 848.5,584.31 849,584.6 849.5,584.9 850,585.2 850.5,585.49 851,585.79 851.5,586.09 852,586.39 852.5,586.7 853,587 853.5,587.3 854,587.61 854.5,587.91 855,588.22 855.5,588.52 856,588.82 856.5,589.13 857,589.43 857.5,589.73 858,590.03 858.5,590.33 859,590.63 859.5,590.93 860,591.22 860.5,591.52 861,591.81 861.5,592.1 862,592.39 862.5,592.67 863,592.96 863.5,593.24 864,593.51 864.5,593.79 865,594.06 865.5,594.33 866,594.59 866.5,594.85 867,595.11 867.5,595.36 868,595.62 868.5,595.86 869,596.11 869.5,596.36 870,596.6 870.5,596.84 871,597.07 871.5,597.31 872,597.54 872.5,597.78 873,598.01 873.5,598.24 874,598.47 874.5,598.69 875,598.92 875.5,599.15 876,599.37 876.5,599.6 877,599.82 877.5,600.05 878,600.27 878.5,600.49 879,600.72 879.5,600.94 880,601.17 880.5,601.39 881,601.62 881.5,601.84 882,602.07 882.5,602.3 883,602.53 883.5,602.76"/>
<text x="793.5" y="671" font-size="24.2" text-anchor="start" ><tspan class="it" font-size="25">θ</tspan><tspan dx="-1.3"> = </tspan><tspan dx="0.4">21.5</tspan><tspan dy="-8" font-size="17.5">0</tspan></text>
<text x="792.8" y="701.6" font-size="24.2" text-anchor="start" ><tspan class="si">T</tspan><tspan dx="-1.8" dy="1.7"> =</tspan><tspan dy="-1.7"> 1.8 K</tspan></text>
<text x="779.5" y="740.1" font-size="24.2" text-anchor="start" >Sample #3</text>
<text x="582.5" y="843.9" font-size="24.2" text-anchor="end" >0</text>
<text x="582.5" y="763.74" font-size="24.2" text-anchor="end" >20</text>
<text x="582.5" y="683.57" font-size="24.2" text-anchor="end" >40</text>
<text x="582.5" y="603.41" font-size="24.2" text-anchor="end" >60</text>
<text x="582.5" y="523.24" font-size="24.2" text-anchor="end" >80</text>
<text x="590.4" y="863.9" font-size="24.2" text-anchor="middle" >0</text>
<text x="675.62" y="863.9" font-size="24.2" text-anchor="middle" >10</text>
<text x="760.85" y="863.9" font-size="24.2" text-anchor="middle" >20</text>
<text x="846.08" y="863.9" font-size="24.2" text-anchor="middle" >30</text>
<text x="931.3" y="863.9" font-size="24.2" text-anchor="middle" >40</text>
<text x="723" y="894.7" font-size="24.2" text-anchor="start" ><tspan class="it" font-size="23.5">μ</tspan><tspan dy="8.9" dx="0.9" font-size="17.6">0</tspan><tspan dy="-8.9" dx="0.4" class="si">H</tspan><tspan dx="-0.8"> (T)</tspan></text>
<text transform="translate(531.5 696.2) rotate(-90)" font-size="24.2"><tspan class="it" font-size="23">ρ</tspan><tspan dy="8.9" font-size="17.6">c</tspan><tspan dy="-8.9" dx="1.2"> / </tspan><tspan class="it" font-size="23" dx="1.2">ρ</tspan><tspan dy="8.4" font-size="16.6">0</tspan></text>
<text x="0" y="483.5" font-size="32" class="b" transform="translate(510.3 0) scale(0.94 1)">d</text>
</g>
</svg>
</body>
</html>
